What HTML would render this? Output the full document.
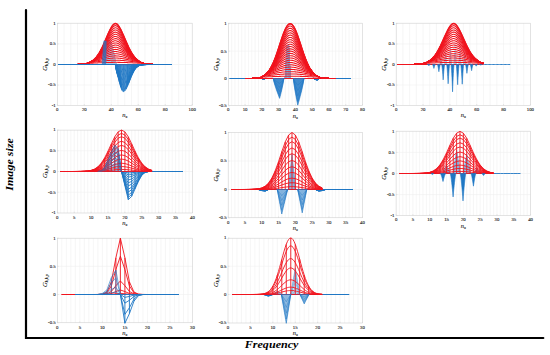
<!DOCTYPE html>
<html><head><meta charset="utf-8"><style>
html,body{margin:0;padding:0;background:#fff;}
body{width:550px;height:355px;overflow:hidden;position:relative;}
svg{position:absolute;left:0;top:0;}
.tl{font-family:"Liberation Serif",serif;font-size:4.8px;fill:#2a2a2a;stroke:#2a2a2a;stroke-width:0.12px;}
.xl,.yl{font-family:"Liberation Serif",serif;font-style:italic;font-size:6.5px;fill:#1a1a1a;stroke:#1a1a1a;stroke-width:0.1px;}
.sub{font-size:4.3px;}
.big{font-family:"Liberation Serif",serif;font-weight:bold;font-style:italic;font-size:10.8px;fill:#000;}
</style></head><body>
<svg width="550" height="355" viewBox="0 0 550 355">
<rect width="550" height="355" fill="#fff"/>
<g stroke="#f0f0f0" stroke-width="0.6"><line x1="64.05" y1="23.2" x2="64.05" y2="105.3"/><line x1="70.79" y1="23.2" x2="70.79" y2="105.3"/><line x1="77.53" y1="23.2" x2="77.53" y2="105.3"/><line x1="84.28" y1="23.2" x2="84.28" y2="105.3"/><line x1="91.02" y1="23.2" x2="91.02" y2="105.3"/><line x1="97.77" y1="23.2" x2="97.77" y2="105.3"/><line x1="104.51" y1="23.2" x2="104.51" y2="105.3"/><line x1="111.26" y1="23.2" x2="111.26" y2="105.3"/><line x1="118" y1="23.2" x2="118" y2="105.3"/><line x1="124.75" y1="23.2" x2="124.75" y2="105.3"/><line x1="131.5" y1="23.2" x2="131.5" y2="105.3"/><line x1="138.24" y1="23.2" x2="138.24" y2="105.3"/><line x1="144.98" y1="23.2" x2="144.98" y2="105.3"/><line x1="151.73" y1="23.2" x2="151.73" y2="105.3"/><line x1="158.47" y1="23.2" x2="158.47" y2="105.3"/><line x1="165.22" y1="23.2" x2="165.22" y2="105.3"/><line x1="171.96" y1="23.2" x2="171.96" y2="105.3"/><line x1="178.71" y1="23.2" x2="178.71" y2="105.3"/><line x1="185.45" y1="23.2" x2="185.45" y2="105.3"/><line x1="57.3" y1="85.03" x2="192.2" y2="85.03"/><line x1="57.3" y1="64.5" x2="192.2" y2="64.5"/><line x1="57.3" y1="43.98" x2="192.2" y2="43.98"/></g>
<rect x="57.3" y="23.2" width="134.9" height="82.1" fill="none" stroke="#d0d0d0" stroke-width="0.6"/>
<g stroke="#d0d0d0" stroke-width="0.5"><line x1="57.3" y1="105.3" x2="57.3" y2="104"/><line x1="84.28" y1="105.3" x2="84.28" y2="104"/><line x1="111.26" y1="105.3" x2="111.26" y2="104"/><line x1="138.24" y1="105.3" x2="138.24" y2="104"/><line x1="165.22" y1="105.3" x2="165.22" y2="104"/><line x1="192.2" y1="105.3" x2="192.2" y2="104"/><line x1="57.3" y1="105.55" x2="58.6" y2="105.55"/><line x1="57.3" y1="85.03" x2="58.6" y2="85.03"/><line x1="57.3" y1="64.5" x2="58.6" y2="64.5"/><line x1="57.3" y1="43.98" x2="58.6" y2="43.98"/><line x1="57.3" y1="23.45" x2="58.6" y2="23.45"/></g>
<g class="tl"><text x="57.3" y="111.2" text-anchor="middle">0</text><text x="84.28" y="111.2" text-anchor="middle">20</text><text x="111.26" y="111.2" text-anchor="middle">40</text><text x="138.24" y="111.2" text-anchor="middle">60</text><text x="165.22" y="111.2" text-anchor="middle">80</text><text x="192.2" y="111.2" text-anchor="middle">100</text><text x="55.7" y="106.95" text-anchor="end">-1</text><text x="55.7" y="86.43" text-anchor="end">-0.5</text><text x="55.7" y="65.9" text-anchor="end">0</text><text x="55.7" y="45.38" text-anchor="end">0.5</text><text x="55.7" y="24.85" text-anchor="end">1</text></g>
<g opacity="0.4"><g fill="none" stroke="#1f77c4" stroke-width="0.9" stroke-linejoin="round"><polyline points="97.77,64.5 99.12,64.5 100.47,64.5 101.82,64.5 103.17,64.5 104.51,64.5 105.86,64.5 107.21,64.5 108.56,64.5 109.91,64.5 111.26,64.5 112.61,64.5 113.96,64.5 115.31,64.5 116.66,64.5 118,64.5"/><polyline points="97.77,64.5 99.12,64.5 100.47,64.5 101.82,64.5 103.17,64.5 104.51,64.5 105.86,63.5 107.21,63.38 108.56,63.33 109.91,63.36 111.26,63.48 112.61,63.7 113.96,64 115.31,64.35 116.66,64.5 118,64.5"/><polyline points="97.77,64.5 99.12,64.5 100.47,64.5 101.82,64.5 103.17,64.5 104.51,64.5 105.86,62.5 107.21,62.27 108.56,62.16 109.91,62.21 111.26,62.46 112.61,62.9 113.96,63.5 115.31,64.2 116.66,64.5 118,64.5"/><polyline points="97.77,64.5 99.12,64.5 100.47,64.5 101.82,64.5 103.17,64.5 104.51,64.5 105.86,61.5 107.21,61.15 108.56,60.99 109.91,61.07 111.26,61.44 112.61,62.09 113.96,62.99 115.31,64.06 116.66,64.5 118,64.5"/><polyline points="97.77,64.5 99.12,64.5 100.47,64.5 101.82,64.5 103.17,64.5 104.51,64.5 105.86,60.5 107.21,60.04 108.56,59.82 109.91,59.92 111.26,60.42 112.61,61.29 113.96,62.49 115.31,63.91 116.66,64.5 118,64.5"/><polyline points="97.77,64.5 99.12,64.5 100.47,64.5 101.82,64.5 103.17,64.5 104.51,64.5 105.86,59.5 107.21,58.92 108.56,58.64 109.91,58.78 111.26,59.39 112.61,60.49 113.96,61.99 115.31,63.76 116.66,64.5 118,64.5"/><polyline points="97.77,64.5 99.12,64.5 100.47,64.5 101.82,64.5 103.17,64.5 104.51,64.5 105.86,58.5 107.21,57.8 108.56,57.47 109.91,57.64 111.26,58.37 112.61,59.69 113.96,61.49 115.31,63.61 116.66,64.5 118,64.5"/><polyline points="97.77,64.5 99.12,64.5 100.47,64.5 101.82,64.5 103.17,64.5 104.51,64.5 105.86,57.5 107.21,56.69 108.56,56.3 109.91,56.49 111.26,57.35 112.61,58.88 113.96,60.99 115.31,63.46 116.66,64.5 118,64.5"/><polyline points="97.77,64.5 99.12,64.5 100.47,64.5 101.82,64.5 103.17,64.5 104.51,64.5 105.86,56.5 107.21,55.57 108.56,55.13 109.91,55.35 111.26,56.33 112.61,58.08 113.96,60.48 115.31,63.31 116.66,64.5 118,64.5"/><polyline points="97.77,64.5 99.12,64.5 100.47,64.5 101.82,64.5 103.17,64.5 104.51,64.5 105.86,55.5 107.21,54.46 108.56,53.96 109.91,54.21 111.26,55.31 112.61,57.28 113.96,59.98 115.31,63.17 116.66,64.5 118,64.5"/><polyline points="97.77,64.5 99.12,64.5 100.47,64.5 101.82,64.5 103.17,64.5 104.51,64.5 105.86,54.5 107.21,53.34 108.56,52.79 109.91,53.06 111.26,54.29 112.61,56.48 113.96,59.48 115.31,63.02 116.66,64.5 118,64.5"/><polyline points="97.77,64.5 99.12,64.5 100.47,64.5 101.82,64.5 103.17,64.5 104.51,64.5 105.86,53.5 107.21,52.22 108.56,51.62 109.91,51.92 111.26,53.27 112.61,55.67 113.96,58.98 115.31,62.87 116.66,64.5 118,64.5"/><polyline points="97.77,64.5 99.12,64.5 100.47,64.5 101.82,64.5 103.17,64.5 104.51,64.5 105.86,52.5 107.21,51.11 108.56,50.45 109.91,50.77 111.26,52.25 112.61,54.87 113.96,58.47 115.31,62.72 116.66,64.5 118,64.5"/><polyline points="97.77,64.5 99.12,64.5 100.47,64.5 101.82,64.5 103.17,64.5 104.51,64.5 105.86,51.5 107.21,49.99 108.56,49.28 109.91,49.63 111.26,51.23 112.61,54.07 113.96,57.97 115.31,62.57 116.66,64.5 118,64.5"/><polyline points="97.77,64.5 99.12,64.5 100.47,64.5 101.82,64.5 103.17,64.5 104.51,64.5 105.86,50.5 107.21,48.88 108.56,48.1 109.91,48.49 111.26,50.21 112.61,53.27 113.96,57.47 115.31,62.42 116.66,64.5 118,64.5"/><polyline points="97.77,64.5 99.12,64.5 100.47,64.5 101.82,64.5 103.17,64.5 104.51,64.5 105.86,49.5 107.21,47.76 108.56,46.93 109.91,47.34 111.26,49.18 112.61,52.47 113.96,56.97 115.31,62.28 116.66,64.5 118,64.5"/><polyline points="97.77,64.5 99.12,64.5 100.47,64.5 101.82,64.5 103.17,64.5 104.51,64.5 105.86,48.5 107.21,46.65 108.56,45.76 109.91,46.2 111.26,48.16 112.61,51.66 113.96,56.47 115.31,62.13 116.66,64.5 118,64.5"/><polyline points="97.77,64.5 99.12,64.5 100.47,64.5 101.82,64.5 103.17,64.5 104.51,64.5 105.86,47.51 107.21,45.53 108.56,44.59 109.91,45.05 111.26,47.14 112.61,50.86 113.96,55.96 115.31,61.98 116.66,64.5 118,64.5"/><polyline points="97.77,64.5 99.12,64.5 100.47,64.5 101.82,64.5 103.17,64.5 104.51,64.5 105.86,46.51 107.21,44.41 108.56,43.42 109.91,43.91 111.26,46.12 112.61,50.06 113.96,55.46 115.31,61.83 116.66,64.5 118,64.5"/><polyline points="97.77,64.5 99.12,64.5 100.47,64.5 101.82,64.5 103.17,64.5 104.51,64.5 105.86,45.51 107.21,43.3 108.56,42.25 109.91,42.77 111.26,45.1 112.61,49.26 113.96,54.96 115.31,61.68 116.66,64.5 118,64.5"/><polyline points="97.77,64.5 99.12,64.5 100.47,64.5 101.82,64.5 103.17,64.5 104.51,64.5 105.86,44.51 107.21,42.18 108.56,41.08 109.91,41.62 111.26,44.08 112.61,48.45 113.96,54.46 115.31,61.53 116.66,64.5 118,64.5"/><polyline points="97.77,64.5 99.12,64.5 100.47,64.5 101.82,64.5 103.17,64.5 104.51,64.5 105.86,43.51 107.21,41.07 108.56,39.91 109.91,40.48 111.26,43.06 112.61,47.65 113.96,53.96 115.31,61.39 116.66,64.5 118,64.5"/><line x1="105.86" y1="64.5" x2="105.86" y2="43.51"/><line x1="107.21" y1="64.5" x2="107.21" y2="41.07"/><line x1="108.56" y1="64.5" x2="108.56" y2="39.91"/><line x1="109.91" y1="64.5" x2="109.91" y2="40.48"/><line x1="111.26" y1="64.5" x2="111.26" y2="43.06"/><line x1="112.61" y1="64.5" x2="112.61" y2="47.65"/><line x1="113.96" y1="64.5" x2="113.96" y2="53.96"/><line x1="115.31" y1="64.5" x2="115.31" y2="61.39"/></g></g>
<g fill="none" stroke="#f0141e" stroke-width="1.05" stroke-linejoin="round"><polyline points="58.65,64.5 59.32,64.5 60,64.5 60.67,64.5 61.35,64.5 62.02,64.5 62.7,64.5 63.37,64.5 64.05,64.5 64.72,64.5 65.39,64.5 66.07,64.5 66.74,64.5 67.42,64.5 68.09,64.5 68.77,64.5 69.44,64.5 70.12,64.5 70.79,64.5 71.46,64.5 72.14,64.5 72.81,64.5 73.49,64.5 74.16,64.5 74.84,64.5 75.51,64.5 76.19,64.5 76.86,64.5 77.53,64.5 78.21,64.5 78.88,64.5 79.56,64.5 80.23,64.5 80.91,64.5 81.58,64.5 82.26,64.5 82.93,64.5 83.61,64.5 84.28,64.5 84.95,64.5 85.63,64.5 86.3,64.5 86.98,64.5 87.65,64.5 88.33,64.5 89,64.5 89.68,64.5 90.35,64.5 91.02,64.5 91.7,64.5 92.37,64.5 93.05,64.5 93.72,64.5 94.4,64.5 95.07,64.5 95.75,64.5 96.42,64.5 97.1,64.5 97.77,64.5 98.44,64.5 99.12,64.5 99.79,64.5 100.47,64.5 101.14,64.5 101.82,64.5 102.49,64.5 103.17,64.5 103.84,64.5 104.51,64.5 105.19,64.5 105.86,64.5 106.54,64.5 107.21,64.5 107.89,64.5 108.56,64.5 109.24,64.5 109.91,64.5 110.59,64.5 111.26,64.5 111.93,64.5 112.61,64.5 113.28,64.5 113.96,64.5 114.63,64.5 115.31,64.5 115.98,64.5 116.66,64.5 117.33,64.5 118,64.5 118.68,64.5 119.35,64.5 120.03,64.5 120.7,64.5 121.38,64.5 122.05,64.5 122.73,64.5 123.4,64.5 124.08,64.5 124.75,64.5 125.42,64.5 126.1,64.5 126.77,64.5 127.45,64.5 128.12,64.5 128.8,64.5 129.47,64.5 130.15,64.5 130.82,64.5 131.5,64.5 132.17,64.5 132.84,64.5 133.52,64.5 134.19,64.5 134.87,64.5 135.54,64.5 136.22,64.5 136.89,64.5 137.57,64.5 138.24,64.5 138.91,64.5 139.59,64.5 140.26,64.5 140.94,64.5 141.61,64.5 142.29,64.5 142.96,64.5 143.64,64.5 144.31,64.5 144.98,64.5 145.66,64.5 146.33,64.5 147.01,64.5 147.68,64.5 148.36,64.5 149.03,64.5 149.71,64.5 150.38,64.5 151.06,64.5 151.73,64.5 152.4,64.5 153.08,64.5 153.75,64.5 154.43,64.5 155.1,64.5 155.78,64.5 156.45,64.5 157.13,64.5 157.8,64.5 158.47,64.5 159.15,64.5 159.82,64.5 160.5,64.5 161.17,64.5 161.85,64.5 162.52,64.5 163.2,64.5 163.87,64.5 164.55,64.5 165.22,64.5 165.89,64.5 166.57,64.5 167.24,64.5 167.92,64.5 168.59,64.5 169.27,64.5 169.94,64.5 170.62,64.5 171.29,64.5 171.96,64.5"/><polyline points="58.65,64.5 59.32,64.5 60,64.5 60.67,64.5 61.35,64.5 62.02,64.5 62.7,64.5 63.37,64.5 64.05,64.5 64.72,64.5 65.39,64.5 66.07,64.5 66.74,64.5 67.42,64.5 68.09,64.5 68.77,64.49 69.44,64.49 70.12,64.49 70.79,64.49 71.46,64.49 72.14,64.48 72.81,64.48 73.49,64.47 74.16,64.47 74.84,64.46 75.51,64.45 76.19,64.44 76.86,64.42 77.53,64.41 78.21,64.38 78.88,64.36 79.56,64.33 80.23,64.29 80.91,64.25 81.58,64.2 82.26,64.14 82.93,64.07 83.61,63.99 84.28,63.9 84.95,63.79 85.63,63.66 86.3,63.52 86.98,63.42 87.65,63.39 88.33,63.36 89,63.32 89.68,63.29 90.35,63.26 91.02,63.22 91.7,63.19 92.37,63.15 93.05,63.12 93.72,63.08 94.4,63.05 95.07,63.02 95.75,62.98 96.42,62.95 97.1,62.91 97.77,62.88 98.44,62.85 99.12,62.82 99.79,62.78 100.47,62.75 101.14,62.72 101.82,62.69 102.49,62.66 103.17,62.64 103.84,62.61 104.51,62.58 105.19,62.56 105.86,62.53 106.54,62.51 107.21,62.49 107.89,62.47 108.56,62.45 109.24,62.43 109.91,62.41 110.59,62.4 111.26,62.38 111.93,62.37 112.61,62.36 113.28,62.35 113.96,62.35 114.63,62.34 115.31,62.34 115.98,62.34 116.66,62.34 117.33,62.35 118,62.36 118.68,62.37 119.35,62.38 120.03,62.39 120.7,62.4 121.38,62.42 122.05,62.44 122.73,62.46 123.4,62.48 124.08,62.5 124.75,62.52 125.42,62.55 126.1,62.57 126.77,62.6 127.45,62.62 128.12,62.65 128.8,62.68 129.47,62.71 130.15,62.74 130.82,62.77 131.5,62.8 132.17,62.84 132.84,62.87 133.52,62.9 134.19,62.93 134.87,62.97 135.54,63 136.22,63.04 136.89,63.07 137.57,63.11 138.24,63.14 138.91,63.17 139.59,63.21 140.26,63.24 140.94,63.28 141.61,63.31 142.29,63.34 142.96,63.38 143.64,63.41 144.31,63.45 144.98,63.61 145.66,63.74 146.33,63.86 147.01,63.96 147.68,64.04 148.36,64.12 149.03,64.18 149.71,64.23 150.38,64.28 151.06,64.32 151.73,64.35 152.4,64.38 153.08,64.4 153.75,64.42 154.43,64.43 155.1,64.44 155.78,64.45 156.45,64.46 157.13,64.47 157.8,64.48 158.47,64.48 159.15,64.48 159.82,64.49 160.5,64.49 161.17,64.49 161.85,64.49 162.52,64.5 163.2,64.5 163.87,64.5 164.55,64.5 165.22,64.5 165.89,64.5 166.57,64.5 167.24,64.5 167.92,64.5 168.59,64.5 169.27,64.5 169.94,64.5 170.62,64.5 171.29,64.5 171.96,64.5"/><polyline points="58.65,64.5 59.32,64.5 60,64.5 60.67,64.5 61.35,64.5 62.02,64.5 62.7,64.5 63.37,64.5 64.05,64.5 64.72,64.5 65.39,64.5 66.07,64.5 66.74,64.5 67.42,64.5 68.09,64.5 68.77,64.49 69.44,64.49 70.12,64.49 70.79,64.49 71.46,64.49 72.14,64.48 72.81,64.48 73.49,64.47 74.16,64.47 74.84,64.46 75.51,64.45 76.19,64.44 76.86,64.42 77.53,64.41 78.21,64.38 78.88,64.36 79.56,64.33 80.23,64.29 80.91,64.25 81.58,64.2 82.26,64.14 82.93,64.07 83.61,63.99 84.28,63.9 84.95,63.79 85.63,63.66 86.3,63.52 86.98,63.35 87.65,63.16 88.33,62.93 89,62.73 89.68,62.66 90.35,62.58 91.02,62.5 91.7,62.42 92.37,62.34 93.05,62.26 93.72,62.18 94.4,62.09 95.07,62.01 95.75,61.93 96.42,61.84 97.1,61.76 97.77,61.67 98.44,61.59 99.12,61.5 99.79,61.42 100.47,61.34 101.14,61.26 101.82,61.18 102.49,61.1 103.17,61.02 103.84,60.94 104.51,60.87 105.19,60.8 105.86,60.73 106.54,60.66 107.21,60.6 107.89,60.54 108.56,60.49 109.24,60.44 109.91,60.39 110.59,60.34 111.26,60.3 111.93,60.27 112.61,60.24 113.28,60.22 113.96,60.2 114.63,60.19 115.31,60.18 115.98,60.18 116.66,60.19 117.33,60.21 118,60.23 118.68,60.26 119.35,60.29 120.03,60.33 120.7,60.37 121.38,60.42 122.05,60.47 122.73,60.52 123.4,60.58 124.08,60.64 124.75,60.7 125.42,60.77 126.1,60.84 126.77,60.91 127.45,60.99 128.12,61.07 128.8,61.14 129.47,61.22 130.15,61.3 130.82,61.39 131.5,61.47 132.17,61.55 132.84,61.64 133.52,61.72 134.19,61.81 134.87,61.89 135.54,61.98 136.22,62.06 136.89,62.14 137.57,62.23 138.24,62.31 138.91,62.39 139.59,62.47 140.26,62.55 140.94,62.63 141.61,62.7 142.29,62.84 142.96,63.07 143.64,63.27 144.31,63.45 144.98,63.61 145.66,63.74 146.33,63.86 147.01,63.96 147.68,64.04 148.36,64.12 149.03,64.18 149.71,64.23 150.38,64.28 151.06,64.32 151.73,64.35 152.4,64.38 153.08,64.4 153.75,64.42 154.43,64.43 155.1,64.44 155.78,64.45 156.45,64.46 157.13,64.47 157.8,64.48 158.47,64.48 159.15,64.48 159.82,64.49 160.5,64.49 161.17,64.49 161.85,64.49 162.52,64.5 163.2,64.5 163.87,64.5 164.55,64.5 165.22,64.5 165.89,64.5 166.57,64.5 167.24,64.5 167.92,64.5 168.59,64.5 169.27,64.5 169.94,64.5 170.62,64.5 171.29,64.5 171.96,64.5"/><polyline points="58.65,64.5 59.32,64.5 60,64.5 60.67,64.5 61.35,64.5 62.02,64.5 62.7,64.5 63.37,64.5 64.05,64.5 64.72,64.5 65.39,64.5 66.07,64.5 66.74,64.5 67.42,64.5 68.09,64.5 68.77,64.49 69.44,64.49 70.12,64.49 70.79,64.49 71.46,64.49 72.14,64.48 72.81,64.48 73.49,64.47 74.16,64.47 74.84,64.46 75.51,64.45 76.19,64.44 76.86,64.42 77.53,64.41 78.21,64.38 78.88,64.36 79.56,64.33 80.23,64.29 80.91,64.25 81.58,64.2 82.26,64.14 82.93,64.07 83.61,63.99 84.28,63.9 84.95,63.79 85.63,63.66 86.3,63.52 86.98,63.35 87.65,63.16 88.33,62.93 89,62.68 89.68,62.4 90.35,62.15 91.02,62.03 91.7,61.91 92.37,61.78 93.05,61.65 93.72,61.52 94.4,61.39 95.07,61.25 95.75,61.11 96.42,60.97 97.1,60.83 97.77,60.69 98.44,60.55 99.12,60.4 99.79,60.26 100.47,60.12 101.14,59.97 101.82,59.83 102.49,59.69 103.17,59.56 103.84,59.42 104.51,59.29 105.19,59.16 105.86,59.04 106.54,58.92 107.21,58.8 107.89,58.7 108.56,58.59 109.24,58.5 109.91,58.41 110.59,58.33 111.26,58.25 111.93,58.19 112.61,58.13 113.28,58.09 113.96,58.05 114.63,58.03 115.31,58.02 115.98,58.02 116.66,58.04 117.33,58.07 118,58.11 118.68,58.17 119.35,58.23 120.03,58.3 120.7,58.37 121.38,58.46 122.05,58.55 122.73,58.65 123.4,58.76 124.08,58.87 124.75,58.99 125.42,59.11 126.1,59.24 126.77,59.37 127.45,59.5 128.12,59.64 128.8,59.78 129.47,59.92 130.15,60.06 130.82,60.2 131.5,60.35 132.17,60.49 132.84,60.63 133.52,60.77 134.19,60.92 134.87,61.06 135.54,61.2 136.22,61.33 136.89,61.47 137.57,61.6 138.24,61.73 138.91,61.86 139.59,61.98 140.26,62.11 140.94,62.27 141.61,62.57 142.29,62.84 142.96,63.07 143.64,63.27 144.31,63.45 144.98,63.61 145.66,63.74 146.33,63.86 147.01,63.96 147.68,64.04 148.36,64.12 149.03,64.18 149.71,64.23 150.38,64.28 151.06,64.32 151.73,64.35 152.4,64.38 153.08,64.4 153.75,64.42 154.43,64.43 155.1,64.44 155.78,64.45 156.45,64.46 157.13,64.47 157.8,64.48 158.47,64.48 159.15,64.48 159.82,64.49 160.5,64.49 161.17,64.49 161.85,64.49 162.52,64.5 163.2,64.5 163.87,64.5 164.55,64.5 165.22,64.5 165.89,64.5 166.57,64.5 167.24,64.5 167.92,64.5 168.59,64.5 169.27,64.5 169.94,64.5 170.62,64.5 171.29,64.5 171.96,64.5"/><polyline points="58.65,64.5 59.32,64.5 60,64.5 60.67,64.5 61.35,64.5 62.02,64.5 62.7,64.5 63.37,64.5 64.05,64.5 64.72,64.5 65.39,64.5 66.07,64.5 66.74,64.5 67.42,64.5 68.09,64.5 68.77,64.49 69.44,64.49 70.12,64.49 70.79,64.49 71.46,64.49 72.14,64.48 72.81,64.48 73.49,64.47 74.16,64.47 74.84,64.46 75.51,64.45 76.19,64.44 76.86,64.42 77.53,64.41 78.21,64.38 78.88,64.36 79.56,64.33 80.23,64.29 80.91,64.25 81.58,64.2 82.26,64.14 82.93,64.07 83.61,63.99 84.28,63.9 84.95,63.79 85.63,63.66 86.3,63.52 86.98,63.35 87.65,63.16 88.33,62.93 89,62.68 89.68,62.4 90.35,62.08 91.02,61.72 91.7,61.55 92.37,61.38 93.05,61.21 93.72,61.03 94.4,60.85 95.07,60.66 95.75,60.46 96.42,60.27 97.1,60.07 97.77,59.87 98.44,59.66 99.12,59.45 99.79,59.25 100.47,59.04 101.14,58.83 101.82,58.62 102.49,58.41 103.17,58.21 103.84,58.01 104.51,57.81 105.19,57.62 105.86,57.43 106.54,57.25 107.21,57.07 107.89,56.91 108.56,56.75 109.24,56.6 109.91,56.46 110.59,56.34 111.26,56.22 111.93,56.12 112.61,56.04 113.28,55.97 113.96,55.91 114.63,55.88 115.31,55.86 115.98,55.87 116.66,55.9 117.33,55.94 118,56.01 118.68,56.09 119.35,56.18 120.03,56.29 120.7,56.41 121.38,56.54 122.05,56.69 122.73,56.84 123.4,57.01 124.08,57.18 124.75,57.36 125.42,57.54 126.1,57.73 126.77,57.93 127.45,58.13 128.12,58.33 128.8,58.54 129.47,58.74 130.15,58.95 130.82,59.16 131.5,59.37 132.17,59.58 132.84,59.78 133.52,59.99 134.19,60.19 134.87,60.39 135.54,60.58 136.22,60.77 136.89,60.96 137.57,61.14 138.24,61.31 138.91,61.49 139.59,61.65 140.26,61.94 140.94,62.27 141.61,62.57 142.29,62.84 142.96,63.07 143.64,63.27 144.31,63.45 144.98,63.61 145.66,63.74 146.33,63.86 147.01,63.96 147.68,64.04 148.36,64.12 149.03,64.18 149.71,64.23 150.38,64.28 151.06,64.32 151.73,64.35 152.4,64.38 153.08,64.4 153.75,64.42 154.43,64.43 155.1,64.44 155.78,64.45 156.45,64.46 157.13,64.47 157.8,64.48 158.47,64.48 159.15,64.48 159.82,64.49 160.5,64.49 161.17,64.49 161.85,64.49 162.52,64.5 163.2,64.5 163.87,64.5 164.55,64.5 165.22,64.5 165.89,64.5 166.57,64.5 167.24,64.5 167.92,64.5 168.59,64.5 169.27,64.5 169.94,64.5 170.62,64.5 171.29,64.5 171.96,64.5"/><polyline points="58.65,64.5 59.32,64.5 60,64.5 60.67,64.5 61.35,64.5 62.02,64.5 62.7,64.5 63.37,64.5 64.05,64.5 64.72,64.5 65.39,64.5 66.07,64.5 66.74,64.5 67.42,64.5 68.09,64.5 68.77,64.49 69.44,64.49 70.12,64.49 70.79,64.49 71.46,64.49 72.14,64.48 72.81,64.48 73.49,64.47 74.16,64.47 74.84,64.46 75.51,64.45 76.19,64.44 76.86,64.42 77.53,64.41 78.21,64.38 78.88,64.36 79.56,64.33 80.23,64.29 80.91,64.25 81.58,64.2 82.26,64.14 82.93,64.07 83.61,63.99 84.28,63.9 84.95,63.79 85.63,63.66 86.3,63.52 86.98,63.35 87.65,63.16 88.33,62.93 89,62.68 89.68,62.4 90.35,62.08 91.02,61.72 91.7,61.31 92.37,61.1 93.05,60.88 93.72,60.65 94.4,60.42 95.07,60.18 95.75,59.94 96.42,59.69 97.1,59.43 97.77,59.16 98.44,58.9 99.12,58.62 99.79,58.35 100.47,58.07 101.14,57.79 101.82,57.51 102.49,57.24 103.17,56.96 103.84,56.69 104.51,56.42 105.19,56.15 105.86,55.89 106.54,55.64 107.21,55.4 107.89,55.17 108.56,54.95 109.24,54.74 109.91,54.55 110.59,54.37 111.26,54.21 111.93,54.07 112.61,53.95 113.28,53.85 113.96,53.77 114.63,53.72 115.31,53.7 115.98,53.71 116.66,53.75 117.33,53.82 118,53.91 118.68,54.02 119.35,54.16 120.03,54.31 120.7,54.48 121.38,54.66 122.05,54.86 122.73,55.08 123.4,55.31 124.08,55.54 124.75,55.79 125.42,56.05 126.1,56.31 126.77,56.58 127.45,56.85 128.12,57.12 128.8,57.4 129.47,57.68 130.15,57.96 130.82,58.24 131.5,58.51 132.17,58.79 132.84,59.06 133.52,59.32 134.19,59.58 134.87,59.84 135.54,60.09 136.22,60.33 136.89,60.56 137.57,60.79 138.24,61.01 138.91,61.22 139.59,61.56 140.26,61.94 140.94,62.27 141.61,62.57 142.29,62.84 142.96,63.07 143.64,63.27 144.31,63.45 144.98,63.61 145.66,63.74 146.33,63.86 147.01,63.96 147.68,64.04 148.36,64.12 149.03,64.18 149.71,64.23 150.38,64.28 151.06,64.32 151.73,64.35 152.4,64.38 153.08,64.4 153.75,64.42 154.43,64.43 155.1,64.44 155.78,64.45 156.45,64.46 157.13,64.47 157.8,64.48 158.47,64.48 159.15,64.48 159.82,64.49 160.5,64.49 161.17,64.49 161.85,64.49 162.52,64.5 163.2,64.5 163.87,64.5 164.55,64.5 165.22,64.5 165.89,64.5 166.57,64.5 167.24,64.5 167.92,64.5 168.59,64.5 169.27,64.5 169.94,64.5 170.62,64.5 171.29,64.5 171.96,64.5"/><polyline points="58.65,64.5 59.32,64.5 60,64.5 60.67,64.5 61.35,64.5 62.02,64.5 62.7,64.5 63.37,64.5 64.05,64.5 64.72,64.5 65.39,64.5 66.07,64.5 66.74,64.5 67.42,64.5 68.09,64.5 68.77,64.49 69.44,64.49 70.12,64.49 70.79,64.49 71.46,64.49 72.14,64.48 72.81,64.48 73.49,64.47 74.16,64.47 74.84,64.46 75.51,64.45 76.19,64.44 76.86,64.42 77.53,64.41 78.21,64.38 78.88,64.36 79.56,64.33 80.23,64.29 80.91,64.25 81.58,64.2 82.26,64.14 82.93,64.07 83.61,63.99 84.28,63.9 84.95,63.79 85.63,63.66 86.3,63.52 86.98,63.35 87.65,63.16 88.33,62.93 89,62.68 89.68,62.4 90.35,62.08 91.02,61.72 91.7,61.31 92.37,60.89 93.05,60.63 93.72,60.37 94.4,60.09 95.07,59.8 95.75,59.51 96.42,59.2 97.1,58.88 97.77,58.56 98.44,58.23 99.12,57.89 99.79,57.55 100.47,57.2 101.14,56.85 101.82,56.5 102.49,56.14 103.17,55.79 103.84,55.44 104.51,55.09 105.19,54.75 105.86,54.42 106.54,54.09 107.21,53.78 107.89,53.48 108.56,53.19 109.24,52.92 109.91,52.66 110.59,52.43 111.26,52.22 111.93,52.03 112.61,51.87 113.28,51.74 113.96,51.64 114.63,51.57 115.31,51.54 115.98,51.55 116.66,51.61 117.33,51.7 118,51.82 118.68,51.97 119.35,52.14 120.03,52.34 120.7,52.57 121.38,52.81 122.05,53.08 122.73,53.36 123.4,53.66 124.08,53.96 124.75,54.29 125.42,54.62 126.1,54.96 126.77,55.3 127.45,55.65 128.12,56 128.8,56.36 129.47,56.71 130.15,57.06 130.82,57.41 131.5,57.75 132.17,58.09 132.84,58.43 133.52,58.75 134.19,59.07 134.87,59.38 135.54,59.68 136.22,59.98 136.89,60.26 137.57,60.53 138.24,60.79 138.91,61.14 139.59,61.56 140.26,61.94 140.94,62.27 141.61,62.57 142.29,62.84 142.96,63.07 143.64,63.27 144.31,63.45 144.98,63.61 145.66,63.74 146.33,63.86 147.01,63.96 147.68,64.04 148.36,64.12 149.03,64.18 149.71,64.23 150.38,64.28 151.06,64.32 151.73,64.35 152.4,64.38 153.08,64.4 153.75,64.42 154.43,64.43 155.1,64.44 155.78,64.45 156.45,64.46 157.13,64.47 157.8,64.48 158.47,64.48 159.15,64.48 159.82,64.49 160.5,64.49 161.17,64.49 161.85,64.49 162.52,64.5 163.2,64.5 163.87,64.5 164.55,64.5 165.22,64.5 165.89,64.5 166.57,64.5 167.24,64.5 167.92,64.5 168.59,64.5 169.27,64.5 169.94,64.5 170.62,64.5 171.29,64.5 171.96,64.5"/><polyline points="58.65,64.5 59.32,64.5 60,64.5 60.67,64.5 61.35,64.5 62.02,64.5 62.7,64.5 63.37,64.5 64.05,64.5 64.72,64.5 65.39,64.5 66.07,64.5 66.74,64.5 67.42,64.5 68.09,64.5 68.77,64.49 69.44,64.49 70.12,64.49 70.79,64.49 71.46,64.49 72.14,64.48 72.81,64.48 73.49,64.47 74.16,64.47 74.84,64.46 75.51,64.45 76.19,64.44 76.86,64.42 77.53,64.41 78.21,64.38 78.88,64.36 79.56,64.33 80.23,64.29 80.91,64.25 81.58,64.2 82.26,64.14 82.93,64.07 83.61,63.99 84.28,63.9 84.95,63.79 85.63,63.66 86.3,63.52 86.98,63.35 87.65,63.16 88.33,62.93 89,62.68 89.68,62.4 90.35,62.08 91.02,61.72 91.7,61.31 92.37,60.86 93.05,60.45 93.72,60.14 94.4,59.83 95.07,59.49 95.75,59.15 96.42,58.79 97.1,58.42 97.77,58.04 98.44,57.64 99.12,57.24 99.79,56.83 100.47,56.41 101.14,55.99 101.82,55.56 102.49,55.13 103.17,54.69 103.84,54.26 104.51,53.84 105.19,53.41 105.86,53 106.54,52.59 107.21,52.2 107.89,51.82 108.56,51.46 109.24,51.12 109.91,50.8 110.59,50.51 111.26,50.24 111.93,50.01 112.61,49.8 113.28,49.64 113.96,49.51 114.63,49.42 115.31,49.38 115.98,49.4 116.66,49.47 117.33,49.58 118,49.73 118.68,49.92 119.35,50.15 120.03,50.4 120.7,50.68 121.38,50.99 122.05,51.32 122.73,51.68 123.4,52.05 124.08,52.43 124.75,52.83 125.42,53.25 126.1,53.67 126.77,54.09 127.45,54.52 128.12,54.95 128.8,55.38 129.47,55.81 130.15,56.24 130.82,56.66 131.5,57.08 132.17,57.48 132.84,57.88 133.52,58.27 134.19,58.64 134.87,59.01 135.54,59.36 136.22,59.7 136.89,60.02 137.57,60.33 138.24,60.66 138.91,61.14 139.59,61.56 140.26,61.94 140.94,62.27 141.61,62.57 142.29,62.84 142.96,63.07 143.64,63.27 144.31,63.45 144.98,63.61 145.66,63.74 146.33,63.86 147.01,63.96 147.68,64.04 148.36,64.12 149.03,64.18 149.71,64.23 150.38,64.28 151.06,64.32 151.73,64.35 152.4,64.38 153.08,64.4 153.75,64.42 154.43,64.43 155.1,64.44 155.78,64.45 156.45,64.46 157.13,64.47 157.8,64.48 158.47,64.48 159.15,64.48 159.82,64.49 160.5,64.49 161.17,64.49 161.85,64.49 162.52,64.5 163.2,64.5 163.87,64.5 164.55,64.5 165.22,64.5 165.89,64.5 166.57,64.5 167.24,64.5 167.92,64.5 168.59,64.5 169.27,64.5 169.94,64.5 170.62,64.5 171.29,64.5 171.96,64.5"/><polyline points="58.65,64.5 59.32,64.5 60,64.5 60.67,64.5 61.35,64.5 62.02,64.5 62.7,64.5 63.37,64.5 64.05,64.5 64.72,64.5 65.39,64.5 66.07,64.5 66.74,64.5 67.42,64.5 68.09,64.5 68.77,64.49 69.44,64.49 70.12,64.49 70.79,64.49 71.46,64.49 72.14,64.48 72.81,64.48 73.49,64.47 74.16,64.47 74.84,64.46 75.51,64.45 76.19,64.44 76.86,64.42 77.53,64.41 78.21,64.38 78.88,64.36 79.56,64.33 80.23,64.29 80.91,64.25 81.58,64.2 82.26,64.14 82.93,64.07 83.61,63.99 84.28,63.9 84.95,63.79 85.63,63.66 86.3,63.52 86.98,63.35 87.65,63.16 88.33,62.93 89,62.68 89.68,62.4 90.35,62.08 91.02,61.72 91.7,61.31 92.37,60.86 93.05,60.36 93.72,59.98 94.4,59.62 95.07,59.25 95.75,58.85 96.42,58.45 97.1,58.02 97.77,57.58 98.44,57.13 99.12,56.66 99.79,56.18 100.47,55.69 101.14,55.19 101.82,54.68 102.49,54.17 103.17,53.66 103.84,53.15 104.51,52.63 105.19,52.13 105.86,51.63 106.54,51.14 107.21,50.67 107.89,50.21 108.56,49.77 109.24,49.35 109.91,48.97 110.59,48.61 111.26,48.28 111.93,47.99 112.61,47.74 113.28,47.54 113.96,47.38 114.63,47.27 115.31,47.22 115.98,47.24 116.66,47.33 117.33,47.47 118,47.65 118.68,47.89 119.35,48.16 120.03,48.47 120.7,48.82 121.38,49.2 122.05,49.6 122.73,50.03 123.4,50.48 124.08,50.95 124.75,51.43 125.42,51.93 126.1,52.43 126.77,52.94 127.45,53.45 128.12,53.97 128.8,54.48 129.47,54.99 130.15,55.49 130.82,55.98 131.5,56.47 132.17,56.94 132.84,57.4 133.52,57.85 134.19,58.28 134.87,58.69 135.54,59.09 136.22,59.47 136.89,59.84 137.57,60.18 138.24,60.66 138.91,61.14 139.59,61.56 140.26,61.94 140.94,62.27 141.61,62.57 142.29,62.84 142.96,63.07 143.64,63.27 144.31,63.45 144.98,63.61 145.66,63.74 146.33,63.86 147.01,63.96 147.68,64.04 148.36,64.12 149.03,64.18 149.71,64.23 150.38,64.28 151.06,64.32 151.73,64.35 152.4,64.38 153.08,64.4 153.75,64.42 154.43,64.43 155.1,64.44 155.78,64.45 156.45,64.46 157.13,64.47 157.8,64.48 158.47,64.48 159.15,64.48 159.82,64.49 160.5,64.49 161.17,64.49 161.85,64.49 162.52,64.5 163.2,64.5 163.87,64.5 164.55,64.5 165.22,64.5 165.89,64.5 166.57,64.5 167.24,64.5 167.92,64.5 168.59,64.5 169.27,64.5 169.94,64.5 170.62,64.5 171.29,64.5 171.96,64.5"/><polyline points="58.65,64.5 59.32,64.5 60,64.5 60.67,64.5 61.35,64.5 62.02,64.5 62.7,64.5 63.37,64.5 64.05,64.5 64.72,64.5 65.39,64.5 66.07,64.5 66.74,64.5 67.42,64.5 68.09,64.5 68.77,64.49 69.44,64.49 70.12,64.49 70.79,64.49 71.46,64.49 72.14,64.48 72.81,64.48 73.49,64.47 74.16,64.47 74.84,64.46 75.51,64.45 76.19,64.44 76.86,64.42 77.53,64.41 78.21,64.38 78.88,64.36 79.56,64.33 80.23,64.29 80.91,64.25 81.58,64.2 82.26,64.14 82.93,64.07 83.61,63.99 84.28,63.9 84.95,63.79 85.63,63.66 86.3,63.52 86.98,63.35 87.65,63.16 88.33,62.93 89,62.68 89.68,62.4 90.35,62.08 91.02,61.72 91.7,61.31 92.37,60.86 93.05,60.36 93.72,59.85 94.4,59.46 95.07,59.05 95.75,58.61 96.42,58.15 97.1,57.68 97.77,57.18 98.44,56.67 99.12,56.14 99.79,55.59 100.47,55.03 101.14,54.46 101.82,53.87 102.49,53.28 103.17,52.68 103.84,52.08 104.51,51.49 105.19,50.89 105.86,50.31 106.54,49.73 107.21,49.17 107.89,48.63 108.56,48.11 109.24,47.61 109.91,47.15 110.59,46.72 111.26,46.33 111.93,45.99 112.61,45.69 113.28,45.44 113.96,45.25 114.63,45.12 115.31,45.06 115.98,45.09 116.66,45.19 117.33,45.36 118,45.58 118.68,45.86 119.35,46.19 120.03,46.56 120.7,46.97 121.38,47.42 122.05,47.9 122.73,48.41 123.4,48.95 124.08,49.5 124.75,50.07 125.42,50.66 126.1,51.25 126.77,51.85 127.45,52.44 128.12,53.04 128.8,53.64 129.47,54.22 130.15,54.8 130.82,55.37 131.5,55.92 132.17,56.46 132.84,56.98 133.52,57.48 134.19,57.97 134.87,58.43 135.54,58.87 136.22,59.3 136.89,59.7 137.57,60.14 138.24,60.66 138.91,61.14 139.59,61.56 140.26,61.94 140.94,62.27 141.61,62.57 142.29,62.84 142.96,63.07 143.64,63.27 144.31,63.45 144.98,63.61 145.66,63.74 146.33,63.86 147.01,63.96 147.68,64.04 148.36,64.12 149.03,64.18 149.71,64.23 150.38,64.28 151.06,64.32 151.73,64.35 152.4,64.38 153.08,64.4 153.75,64.42 154.43,64.43 155.1,64.44 155.78,64.45 156.45,64.46 157.13,64.47 157.8,64.48 158.47,64.48 159.15,64.48 159.82,64.49 160.5,64.49 161.17,64.49 161.85,64.49 162.52,64.5 163.2,64.5 163.87,64.5 164.55,64.5 165.22,64.5 165.89,64.5 166.57,64.5 167.24,64.5 167.92,64.5 168.59,64.5 169.27,64.5 169.94,64.5 170.62,64.5 171.29,64.5 171.96,64.5"/><polyline points="58.65,64.5 59.32,64.5 60,64.5 60.67,64.5 61.35,64.5 62.02,64.5 62.7,64.5 63.37,64.5 64.05,64.5 64.72,64.5 65.39,64.5 66.07,64.5 66.74,64.5 67.42,64.5 68.09,64.5 68.77,64.49 69.44,64.49 70.12,64.49 70.79,64.49 71.46,64.49 72.14,64.48 72.81,64.48 73.49,64.47 74.16,64.47 74.84,64.46 75.51,64.45 76.19,64.44 76.86,64.42 77.53,64.41 78.21,64.38 78.88,64.36 79.56,64.33 80.23,64.29 80.91,64.25 81.58,64.2 82.26,64.14 82.93,64.07 83.61,63.99 84.28,63.9 84.95,63.79 85.63,63.66 86.3,63.52 86.98,63.35 87.65,63.16 88.33,62.93 89,62.68 89.68,62.4 90.35,62.08 91.02,61.72 91.7,61.31 92.37,60.86 93.05,60.36 93.72,59.8 94.4,59.34 95.07,58.89 95.75,58.41 96.42,57.91 97.1,57.38 97.77,56.83 98.44,56.26 99.12,55.67 99.79,55.05 100.47,54.42 101.14,53.77 101.82,53.11 102.49,52.44 103.17,51.76 103.84,51.07 104.51,50.39 105.19,49.7 105.86,49.02 106.54,48.36 107.21,47.71 107.89,47.08 108.56,46.47 109.24,45.89 109.91,45.35 110.59,44.85 111.26,44.4 111.93,43.99 112.61,43.64 113.28,43.35 113.96,43.12 114.63,42.97 115.31,42.9 115.98,42.93 116.66,43.05 117.33,43.25 118,43.51 118.68,43.84 119.35,44.23 120.03,44.66 120.7,45.15 121.38,45.67 122.05,46.24 122.73,46.83 123.4,47.45 124.08,48.1 124.75,48.76 125.42,49.43 126.1,50.11 126.77,50.8 127.45,51.48 128.12,52.17 128.8,52.84 129.47,53.51 130.15,54.17 130.82,54.8 131.5,55.43 132.17,56.03 132.84,56.61 133.52,57.17 134.19,57.7 134.87,58.21 135.54,58.7 136.22,59.16 136.89,59.6 137.57,60.14 138.24,60.66 138.91,61.14 139.59,61.56 140.26,61.94 140.94,62.27 141.61,62.57 142.29,62.84 142.96,63.07 143.64,63.27 144.31,63.45 144.98,63.61 145.66,63.74 146.33,63.86 147.01,63.96 147.68,64.04 148.36,64.12 149.03,64.18 149.71,64.23 150.38,64.28 151.06,64.32 151.73,64.35 152.4,64.38 153.08,64.4 153.75,64.42 154.43,64.43 155.1,64.44 155.78,64.45 156.45,64.46 157.13,64.47 157.8,64.48 158.47,64.48 159.15,64.48 159.82,64.49 160.5,64.49 161.17,64.49 161.85,64.49 162.52,64.5 163.2,64.5 163.87,64.5 164.55,64.5 165.22,64.5 165.89,64.5 166.57,64.5 167.24,64.5 167.92,64.5 168.59,64.5 169.27,64.5 169.94,64.5 170.62,64.5 171.29,64.5 171.96,64.5"/><polyline points="58.65,64.5 59.32,64.5 60,64.5 60.67,64.5 61.35,64.5 62.02,64.5 62.7,64.5 63.37,64.5 64.05,64.5 64.72,64.5 65.39,64.5 66.07,64.5 66.74,64.5 67.42,64.5 68.09,64.5 68.77,64.49 69.44,64.49 70.12,64.49 70.79,64.49 71.46,64.49 72.14,64.48 72.81,64.48 73.49,64.47 74.16,64.47 74.84,64.46 75.51,64.45 76.19,64.44 76.86,64.42 77.53,64.41 78.21,64.38 78.88,64.36 79.56,64.33 80.23,64.29 80.91,64.25 81.58,64.2 82.26,64.14 82.93,64.07 83.61,63.99 84.28,63.9 84.95,63.79 85.63,63.66 86.3,63.52 86.98,63.35 87.65,63.16 88.33,62.93 89,62.68 89.68,62.4 90.35,62.08 91.02,61.72 91.7,61.31 92.37,60.86 93.05,60.36 93.72,59.8 94.4,59.25 95.07,58.76 95.75,58.25 96.42,57.7 97.1,57.13 97.77,56.53 98.44,55.9 99.12,55.25 99.79,54.57 100.47,53.86 101.14,53.14 101.82,52.4 102.49,51.65 103.17,50.88 103.84,50.11 104.51,49.33 105.19,48.55 105.86,47.78 106.54,47.02 107.21,46.28 107.89,45.56 108.56,44.86 109.24,44.2 109.91,43.58 110.59,43 111.26,42.47 111.93,42 112.61,41.6 113.28,41.26 113.96,41 114.63,40.82 115.31,40.74 115.98,40.78 116.66,40.92 117.33,41.15 118,41.45 118.68,41.83 119.35,42.28 120.03,42.78 120.7,43.34 121.38,43.95 122.05,44.59 122.73,45.27 123.4,45.99 124.08,46.72 124.75,47.48 125.42,48.24 126.1,49.02 126.77,49.8 127.45,50.57 128.12,51.34 128.8,52.1 129.47,52.85 130.15,53.58 130.82,54.29 131.5,54.98 132.17,55.64 132.84,56.28 133.52,56.89 134.19,57.48 134.87,58.03 135.54,58.56 136.22,59.05 136.89,59.56 137.57,60.14 138.24,60.66 138.91,61.14 139.59,61.56 140.26,61.94 140.94,62.27 141.61,62.57 142.29,62.84 142.96,63.07 143.64,63.27 144.31,63.45 144.98,63.61 145.66,63.74 146.33,63.86 147.01,63.96 147.68,64.04 148.36,64.12 149.03,64.18 149.71,64.23 150.38,64.28 151.06,64.32 151.73,64.35 152.4,64.38 153.08,64.4 153.75,64.42 154.43,64.43 155.1,64.44 155.78,64.45 156.45,64.46 157.13,64.47 157.8,64.48 158.47,64.48 159.15,64.48 159.82,64.49 160.5,64.49 161.17,64.49 161.85,64.49 162.52,64.5 163.2,64.5 163.87,64.5 164.55,64.5 165.22,64.5 165.89,64.5 166.57,64.5 167.24,64.5 167.92,64.5 168.59,64.5 169.27,64.5 169.94,64.5 170.62,64.5 171.29,64.5 171.96,64.5"/><polyline points="58.65,64.5 59.32,64.5 60,64.5 60.67,64.5 61.35,64.5 62.02,64.5 62.7,64.5 63.37,64.5 64.05,64.5 64.72,64.5 65.39,64.5 66.07,64.5 66.74,64.5 67.42,64.5 68.09,64.5 68.77,64.49 69.44,64.49 70.12,64.49 70.79,64.49 71.46,64.49 72.14,64.48 72.81,64.48 73.49,64.47 74.16,64.47 74.84,64.46 75.51,64.45 76.19,64.44 76.86,64.42 77.53,64.41 78.21,64.38 78.88,64.36 79.56,64.33 80.23,64.29 80.91,64.25 81.58,64.2 82.26,64.14 82.93,64.07 83.61,63.99 84.28,63.9 84.95,63.79 85.63,63.66 86.3,63.52 86.98,63.35 87.65,63.16 88.33,62.93 89,62.68 89.68,62.4 90.35,62.08 91.02,61.72 91.7,61.31 92.37,60.86 93.05,60.36 93.72,59.8 94.4,59.18 95.07,58.66 95.75,58.11 96.42,57.53 97.1,56.91 97.77,56.26 98.44,55.58 99.12,54.87 99.79,54.12 100.47,53.35 101.14,52.55 101.82,51.74 102.49,50.9 103.17,50.05 103.84,49.18 104.51,48.31 105.19,47.44 105.86,46.58 106.54,45.72 107.21,44.88 107.89,44.06 108.56,43.28 109.24,42.53 109.91,41.82 110.59,41.16 111.26,40.56 111.93,40.02 112.61,39.56 113.28,39.17 113.96,38.88 114.63,38.67 115.31,38.58 115.98,38.62 116.66,38.78 117.33,39.04 118,39.4 118.68,39.83 119.35,40.34 120.03,40.91 120.7,41.55 121.38,42.24 122.05,42.97 122.73,43.75 123.4,44.55 124.08,45.38 124.75,46.23 125.42,47.1 126.1,47.97 126.77,48.84 127.45,49.7 128.12,50.56 128.8,51.4 129.47,52.23 130.15,53.03 130.82,53.82 131.5,54.57 132.17,55.3 132.84,55.99 133.52,56.66 134.19,57.29 134.87,57.88 135.54,58.45 136.22,58.98 136.89,59.56 137.57,60.14 138.24,60.66 138.91,61.14 139.59,61.56 140.26,61.94 140.94,62.27 141.61,62.57 142.29,62.84 142.96,63.07 143.64,63.27 144.31,63.45 144.98,63.61 145.66,63.74 146.33,63.86 147.01,63.96 147.68,64.04 148.36,64.12 149.03,64.18 149.71,64.23 150.38,64.28 151.06,64.32 151.73,64.35 152.4,64.38 153.08,64.4 153.75,64.42 154.43,64.43 155.1,64.44 155.78,64.45 156.45,64.46 157.13,64.47 157.8,64.48 158.47,64.48 159.15,64.48 159.82,64.49 160.5,64.49 161.17,64.49 161.85,64.49 162.52,64.5 163.2,64.5 163.87,64.5 164.55,64.5 165.22,64.5 165.89,64.5 166.57,64.5 167.24,64.5 167.92,64.5 168.59,64.5 169.27,64.5 169.94,64.5 170.62,64.5 171.29,64.5 171.96,64.5"/><polyline points="58.65,64.5 59.32,64.5 60,64.5 60.67,64.5 61.35,64.5 62.02,64.5 62.7,64.5 63.37,64.5 64.05,64.5 64.72,64.5 65.39,64.5 66.07,64.5 66.74,64.5 67.42,64.5 68.09,64.5 68.77,64.49 69.44,64.49 70.12,64.49 70.79,64.49 71.46,64.49 72.14,64.48 72.81,64.48 73.49,64.47 74.16,64.47 74.84,64.46 75.51,64.45 76.19,64.44 76.86,64.42 77.53,64.41 78.21,64.38 78.88,64.36 79.56,64.33 80.23,64.29 80.91,64.25 81.58,64.2 82.26,64.14 82.93,64.07 83.61,63.99 84.28,63.9 84.95,63.79 85.63,63.66 86.3,63.52 86.98,63.35 87.65,63.16 88.33,62.93 89,62.68 89.68,62.4 90.35,62.08 91.02,61.72 91.7,61.31 92.37,60.86 93.05,60.36 93.72,59.8 94.4,59.18 95.07,58.59 95.75,58.01 96.42,57.39 97.1,56.73 97.77,56.03 98.44,55.29 99.12,54.52 99.79,53.71 100.47,52.88 101.14,52.01 101.82,51.11 102.49,50.19 103.17,49.25 103.84,48.3 104.51,47.34 105.19,46.37 105.86,45.41 106.54,44.45 107.21,43.51 107.89,42.6 108.56,41.72 109.24,40.87 109.91,40.08 110.59,39.34 111.26,38.66 111.93,38.05 112.61,37.53 113.28,37.09 113.96,36.76 114.63,36.53 115.31,36.42 115.98,36.47 116.66,36.65 117.33,36.95 118,37.34 118.68,37.83 119.35,38.41 120.03,39.06 120.7,39.77 121.38,40.55 122.05,41.37 122.73,42.24 123.4,43.15 124.08,44.07 124.75,45.02 125.42,45.98 126.1,46.95 126.77,47.91 127.45,48.87 128.12,49.82 128.8,50.75 129.47,51.65 130.15,52.53 130.82,53.38 131.5,54.2 132.17,54.99 132.84,55.74 133.52,56.45 134.19,57.13 134.87,57.76 135.54,58.36 136.22,58.92 136.89,59.56 137.57,60.14 138.24,60.66 138.91,61.14 139.59,61.56 140.26,61.94 140.94,62.27 141.61,62.57 142.29,62.84 142.96,63.07 143.64,63.27 144.31,63.45 144.98,63.61 145.66,63.74 146.33,63.86 147.01,63.96 147.68,64.04 148.36,64.12 149.03,64.18 149.71,64.23 150.38,64.28 151.06,64.32 151.73,64.35 152.4,64.38 153.08,64.4 153.75,64.42 154.43,64.43 155.1,64.44 155.78,64.45 156.45,64.46 157.13,64.47 157.8,64.48 158.47,64.48 159.15,64.48 159.82,64.49 160.5,64.49 161.17,64.49 161.85,64.49 162.52,64.5 163.2,64.5 163.87,64.5 164.55,64.5 165.22,64.5 165.89,64.5 166.57,64.5 167.24,64.5 167.92,64.5 168.59,64.5 169.27,64.5 169.94,64.5 170.62,64.5 171.29,64.5 171.96,64.5"/><polyline points="58.65,64.5 59.32,64.5 60,64.5 60.67,64.5 61.35,64.5 62.02,64.5 62.7,64.5 63.37,64.5 64.05,64.5 64.72,64.5 65.39,64.5 66.07,64.5 66.74,64.5 67.42,64.5 68.09,64.5 68.77,64.49 69.44,64.49 70.12,64.49 70.79,64.49 71.46,64.49 72.14,64.48 72.81,64.48 73.49,64.47 74.16,64.47 74.84,64.46 75.51,64.45 76.19,64.44 76.86,64.42 77.53,64.41 78.21,64.38 78.88,64.36 79.56,64.33 80.23,64.29 80.91,64.25 81.58,64.2 82.26,64.14 82.93,64.07 83.61,63.99 84.28,63.9 84.95,63.79 85.63,63.66 86.3,63.52 86.98,63.35 87.65,63.16 88.33,62.93 89,62.68 89.68,62.4 90.35,62.08 91.02,61.72 91.7,61.31 92.37,60.86 93.05,60.36 93.72,59.8 94.4,59.18 95.07,58.54 95.75,57.93 96.42,57.27 97.1,56.57 97.77,55.82 98.44,55.04 99.12,54.21 99.79,53.34 100.47,52.44 101.14,51.5 101.82,50.52 102.49,49.52 103.17,48.49 103.84,47.45 104.51,46.39 105.19,45.33 105.86,44.27 106.54,43.21 107.21,42.17 107.89,41.16 108.56,40.18 109.24,39.24 109.91,38.35 110.59,37.52 111.26,36.77 111.93,36.09 112.61,35.5 113.28,35.02 113.96,34.64 114.63,34.38 115.31,34.26 115.98,34.31 116.66,34.52 117.33,34.85 118,35.3 118.68,35.84 119.35,36.49 120.03,37.21 120.7,38.01 121.38,38.88 122.05,39.8 122.73,40.76 123.4,41.77 124.08,42.8 124.75,43.85 125.42,44.91 126.1,45.97 126.77,47.03 127.45,48.08 128.12,49.11 128.8,50.12 129.47,51.11 130.15,52.06 130.82,52.98 131.5,53.87 132.17,54.71 132.84,55.52 133.52,56.28 134.19,56.99 134.87,57.67 135.54,58.3 136.22,58.92 136.89,59.56 137.57,60.14 138.24,60.66 138.91,61.14 139.59,61.56 140.26,61.94 140.94,62.27 141.61,62.57 142.29,62.84 142.96,63.07 143.64,63.27 144.31,63.45 144.98,63.61 145.66,63.74 146.33,63.86 147.01,63.96 147.68,64.04 148.36,64.12 149.03,64.18 149.71,64.23 150.38,64.28 151.06,64.32 151.73,64.35 152.4,64.38 153.08,64.4 153.75,64.42 154.43,64.43 155.1,64.44 155.78,64.45 156.45,64.46 157.13,64.47 157.8,64.48 158.47,64.48 159.15,64.48 159.82,64.49 160.5,64.49 161.17,64.49 161.85,64.49 162.52,64.5 163.2,64.5 163.87,64.5 164.55,64.5 165.22,64.5 165.89,64.5 166.57,64.5 167.24,64.5 167.92,64.5 168.59,64.5 169.27,64.5 169.94,64.5 170.62,64.5 171.29,64.5 171.96,64.5"/><polyline points="58.65,64.5 59.32,64.5 60,64.5 60.67,64.5 61.35,64.5 62.02,64.5 62.7,64.5 63.37,64.5 64.05,64.5 64.72,64.5 65.39,64.5 66.07,64.5 66.74,64.5 67.42,64.5 68.09,64.5 68.77,64.49 69.44,64.49 70.12,64.49 70.79,64.49 71.46,64.49 72.14,64.48 72.81,64.48 73.49,64.47 74.16,64.47 74.84,64.46 75.51,64.45 76.19,64.44 76.86,64.42 77.53,64.41 78.21,64.38 78.88,64.36 79.56,64.33 80.23,64.29 80.91,64.25 81.58,64.2 82.26,64.14 82.93,64.07 83.61,63.99 84.28,63.9 84.95,63.79 85.63,63.66 86.3,63.52 86.98,63.35 87.65,63.16 88.33,62.93 89,62.68 89.68,62.4 90.35,62.08 91.02,61.72 91.7,61.31 92.37,60.86 93.05,60.36 93.72,59.8 94.4,59.18 95.07,58.51 95.75,57.86 96.42,57.17 97.1,56.43 97.77,55.65 98.44,54.81 99.12,53.93 99.79,53 100.47,52.03 101.14,51.02 101.82,49.97 102.49,48.88 103.17,47.77 103.84,46.64 104.51,45.49 105.19,44.32 105.86,43.16 106.54,42 107.21,40.86 107.89,39.74 108.56,38.66 109.24,37.62 109.91,36.64 110.59,35.73 111.26,34.89 111.93,34.14 112.61,33.48 113.28,32.94 113.96,32.52 114.63,32.23 115.31,32.1 115.98,32.16 116.66,32.39 117.33,32.76 118,33.25 118.68,33.86 119.35,34.58 120.03,35.38 120.7,36.27 121.38,37.22 122.05,38.24 122.73,39.31 123.4,40.41 124.08,41.54 124.75,42.7 125.42,43.86 126.1,45.02 126.77,46.18 127.45,47.32 128.12,48.44 128.8,49.54 129.47,50.6 130.15,51.63 130.82,52.62 131.5,53.56 132.17,54.46 132.84,55.32 133.52,56.13 134.19,56.88 134.87,57.59 135.54,58.26 136.22,58.92 136.89,59.56 137.57,60.14 138.24,60.66 138.91,61.14 139.59,61.56 140.26,61.94 140.94,62.27 141.61,62.57 142.29,62.84 142.96,63.07 143.64,63.27 144.31,63.45 144.98,63.61 145.66,63.74 146.33,63.86 147.01,63.96 147.68,64.04 148.36,64.12 149.03,64.18 149.71,64.23 150.38,64.28 151.06,64.32 151.73,64.35 152.4,64.38 153.08,64.4 153.75,64.42 154.43,64.43 155.1,64.44 155.78,64.45 156.45,64.46 157.13,64.47 157.8,64.48 158.47,64.48 159.15,64.48 159.82,64.49 160.5,64.49 161.17,64.49 161.85,64.49 162.52,64.5 163.2,64.5 163.87,64.5 164.55,64.5 165.22,64.5 165.89,64.5 166.57,64.5 167.24,64.5 167.92,64.5 168.59,64.5 169.27,64.5 169.94,64.5 170.62,64.5 171.29,64.5 171.96,64.5"/><polyline points="58.65,64.5 59.32,64.5 60,64.5 60.67,64.5 61.35,64.5 62.02,64.5 62.7,64.5 63.37,64.5 64.05,64.5 64.72,64.5 65.39,64.5 66.07,64.5 66.74,64.5 67.42,64.5 68.09,64.5 68.77,64.49 69.44,64.49 70.12,64.49 70.79,64.49 71.46,64.49 72.14,64.48 72.81,64.48 73.49,64.47 74.16,64.47 74.84,64.46 75.51,64.45 76.19,64.44 76.86,64.42 77.53,64.41 78.21,64.38 78.88,64.36 79.56,64.33 80.23,64.29 80.91,64.25 81.58,64.2 82.26,64.14 82.93,64.07 83.61,63.99 84.28,63.9 84.95,63.79 85.63,63.66 86.3,63.52 86.98,63.35 87.65,63.16 88.33,62.93 89,62.68 89.68,62.4 90.35,62.08 91.02,61.72 91.7,61.31 92.37,60.86 93.05,60.36 93.72,59.8 94.4,59.18 95.07,58.51 95.75,57.82 96.42,57.1 97.1,56.32 97.77,55.49 98.44,54.61 99.12,53.68 99.79,52.69 100.47,51.65 101.14,50.57 101.82,49.45 102.49,48.28 103.17,47.08 103.84,45.86 104.51,44.61 105.19,43.35 105.86,42.08 106.54,40.82 107.21,39.57 107.89,38.35 108.56,37.17 109.24,36.03 109.91,34.95 110.59,33.94 111.26,33.02 111.93,32.19 112.61,31.47 113.28,30.87 113.96,30.4 114.63,30.09 115.31,29.94 115.98,30 116.66,30.26 117.33,30.67 118,31.21 118.68,31.89 119.35,32.67 120.03,33.56 120.7,34.54 121.38,35.59 122.05,36.71 122.73,37.87 123.4,39.08 124.08,40.32 124.75,41.58 125.42,42.84 126.1,44.11 126.77,45.36 127.45,46.6 128.12,47.81 128.8,48.98 129.47,50.13 130.15,51.23 130.82,52.28 131.5,53.29 132.17,54.24 132.84,55.15 133.52,56 134.19,56.79 134.87,57.54 135.54,58.23 136.22,58.92 136.89,59.56 137.57,60.14 138.24,60.66 138.91,61.14 139.59,61.56 140.26,61.94 140.94,62.27 141.61,62.57 142.29,62.84 142.96,63.07 143.64,63.27 144.31,63.45 144.98,63.61 145.66,63.74 146.33,63.86 147.01,63.96 147.68,64.04 148.36,64.12 149.03,64.18 149.71,64.23 150.38,64.28 151.06,64.32 151.73,64.35 152.4,64.38 153.08,64.4 153.75,64.42 154.43,64.43 155.1,64.44 155.78,64.45 156.45,64.46 157.13,64.47 157.8,64.48 158.47,64.48 159.15,64.48 159.82,64.49 160.5,64.49 161.17,64.49 161.85,64.49 162.52,64.5 163.2,64.5 163.87,64.5 164.55,64.5 165.22,64.5 165.89,64.5 166.57,64.5 167.24,64.5 167.92,64.5 168.59,64.5 169.27,64.5 169.94,64.5 170.62,64.5 171.29,64.5 171.96,64.5"/><polyline points="58.65,64.5 59.32,64.5 60,64.5 60.67,64.5 61.35,64.5 62.02,64.5 62.7,64.5 63.37,64.5 64.05,64.5 64.72,64.5 65.39,64.5 66.07,64.5 66.74,64.5 67.42,64.5 68.09,64.5 68.77,64.49 69.44,64.49 70.12,64.49 70.79,64.49 71.46,64.49 72.14,64.48 72.81,64.48 73.49,64.47 74.16,64.47 74.84,64.46 75.51,64.45 76.19,64.44 76.86,64.42 77.53,64.41 78.21,64.38 78.88,64.36 79.56,64.33 80.23,64.29 80.91,64.25 81.58,64.2 82.26,64.14 82.93,64.07 83.61,63.99 84.28,63.9 84.95,63.79 85.63,63.66 86.3,63.52 86.98,63.35 87.65,63.16 88.33,62.93 89,62.68 89.68,62.4 90.35,62.08 91.02,61.72 91.7,61.31 92.37,60.86 93.05,60.36 93.72,59.8 94.4,59.18 95.07,58.51 95.75,57.79 96.42,57.04 97.1,56.23 97.77,55.36 98.44,54.43 99.12,53.45 99.79,52.4 100.47,51.31 101.14,50.15 101.82,48.95 102.49,47.71 103.17,46.42 103.84,45.11 104.51,43.76 105.19,42.4 105.86,41.03 106.54,39.67 107.21,38.31 107.89,36.98 108.56,35.69 109.24,34.45 109.91,33.27 110.59,32.17 111.26,31.16 111.93,30.25 112.61,29.46 113.28,28.8 113.96,28.29 114.63,27.94 115.31,27.78 115.98,27.85 116.66,28.13 117.33,28.58 118,29.18 118.68,29.92 119.35,30.78 120.03,31.75 120.7,32.82 121.38,33.97 122.05,35.19 122.73,36.46 123.4,37.78 124.08,39.12 124.75,40.48 125.42,41.85 126.1,43.22 126.77,44.57 127.45,45.9 128.12,47.2 128.8,48.46 129.47,49.68 130.15,50.85 130.82,51.97 131.5,53.04 132.17,54.05 132.84,55 133.52,55.89 134.19,56.72 134.87,57.5 135.54,58.22 136.22,58.92 136.89,59.56 137.57,60.14 138.24,60.66 138.91,61.14 139.59,61.56 140.26,61.94 140.94,62.27 141.61,62.57 142.29,62.84 142.96,63.07 143.64,63.27 144.31,63.45 144.98,63.61 145.66,63.74 146.33,63.86 147.01,63.96 147.68,64.04 148.36,64.12 149.03,64.18 149.71,64.23 150.38,64.28 151.06,64.32 151.73,64.35 152.4,64.38 153.08,64.4 153.75,64.42 154.43,64.43 155.1,64.44 155.78,64.45 156.45,64.46 157.13,64.47 157.8,64.48 158.47,64.48 159.15,64.48 159.82,64.49 160.5,64.49 161.17,64.49 161.85,64.49 162.52,64.5 163.2,64.5 163.87,64.5 164.55,64.5 165.22,64.5 165.89,64.5 166.57,64.5 167.24,64.5 167.92,64.5 168.59,64.5 169.27,64.5 169.94,64.5 170.62,64.5 171.29,64.5 171.96,64.5"/><polyline points="58.65,64.5 59.32,64.5 60,64.5 60.67,64.5 61.35,64.5 62.02,64.5 62.7,64.5 63.37,64.5 64.05,64.5 64.72,64.5 65.39,64.5 66.07,64.5 66.74,64.5 67.42,64.5 68.09,64.5 68.77,64.49 69.44,64.49 70.12,64.49 70.79,64.49 71.46,64.49 72.14,64.48 72.81,64.48 73.49,64.47 74.16,64.47 74.84,64.46 75.51,64.45 76.19,64.44 76.86,64.42 77.53,64.41 78.21,64.38 78.88,64.36 79.56,64.33 80.23,64.29 80.91,64.25 81.58,64.2 82.26,64.14 82.93,64.07 83.61,63.99 84.28,63.9 84.95,63.79 85.63,63.66 86.3,63.52 86.98,63.35 87.65,63.16 88.33,62.93 89,62.68 89.68,62.4 90.35,62.08 91.02,61.72 91.7,61.31 92.37,60.86 93.05,60.36 93.72,59.8 94.4,59.18 95.07,58.51 95.75,57.77 96.42,57 97.1,56.15 97.77,55.25 98.44,54.28 99.12,53.24 99.79,52.14 100.47,50.98 101.14,49.76 101.82,48.49 102.49,47.16 103.17,45.79 103.84,44.38 104.51,42.94 105.19,41.48 105.86,40.01 106.54,38.53 107.21,37.07 107.89,35.63 108.56,34.23 109.24,32.89 109.91,31.61 110.59,30.41 111.26,29.3 111.93,28.32 112.61,27.45 113.28,26.74 113.96,26.18 114.63,25.8 115.31,25.62 115.98,25.7 116.66,26 117.33,26.49 118,27.15 118.68,27.95 119.35,28.89 120.03,29.95 120.7,31.12 121.38,32.37 122.05,33.69 122.73,35.07 123.4,36.49 124.08,37.95 124.75,39.42 125.42,40.89 126.1,42.36 126.77,43.81 127.45,45.23 128.12,46.62 128.8,47.96 129.47,49.26 130.15,50.5 130.82,51.69 131.5,52.81 132.17,53.87 132.84,54.87 133.52,55.8 134.19,56.67 134.87,57.47 135.54,58.22 136.22,58.92 136.89,59.56 137.57,60.14 138.24,60.66 138.91,61.14 139.59,61.56 140.26,61.94 140.94,62.27 141.61,62.57 142.29,62.84 142.96,63.07 143.64,63.27 144.31,63.45 144.98,63.61 145.66,63.74 146.33,63.86 147.01,63.96 147.68,64.04 148.36,64.12 149.03,64.18 149.71,64.23 150.38,64.28 151.06,64.32 151.73,64.35 152.4,64.38 153.08,64.4 153.75,64.42 154.43,64.43 155.1,64.44 155.78,64.45 156.45,64.46 157.13,64.47 157.8,64.48 158.47,64.48 159.15,64.48 159.82,64.49 160.5,64.49 161.17,64.49 161.85,64.49 162.52,64.5 163.2,64.5 163.87,64.5 164.55,64.5 165.22,64.5 165.89,64.5 166.57,64.5 167.24,64.5 167.92,64.5 168.59,64.5 169.27,64.5 169.94,64.5 170.62,64.5 171.29,64.5 171.96,64.5"/><polyline points="58.65,64.5 59.32,64.5 60,64.5 60.67,64.5 61.35,64.5 62.02,64.5 62.7,64.5 63.37,64.5 64.05,64.5 64.72,64.5 65.39,64.5 66.07,64.5 66.74,64.5 67.42,64.5 68.09,64.5 68.77,64.49 69.44,64.49 70.12,64.49 70.79,64.49 71.46,64.49 72.14,64.48 72.81,64.48 73.49,64.47 74.16,64.47 74.84,64.46 75.51,64.45 76.19,64.44 76.86,64.42 77.53,64.41 78.21,64.38 78.88,64.36 79.56,64.33 80.23,64.29 80.91,64.25 81.58,64.2 82.26,64.14 82.93,64.07 83.61,63.99 84.28,63.9 84.95,63.79 85.63,63.66 86.3,63.52 86.98,63.35 87.65,63.16 88.33,62.93 89,62.68 89.68,62.4 90.35,62.08 91.02,61.72 91.7,61.31 92.37,60.86 93.05,60.36 93.72,59.8 94.4,59.18 95.07,58.51 95.75,57.77 96.42,56.97 97.1,56.09 97.77,55.15 98.44,54.14 99.12,53.06 99.79,51.91 100.47,50.68 101.14,49.4 101.82,48.05 102.49,46.64 103.17,45.19 103.84,43.69 104.51,42.15 105.19,40.59 105.86,39.01 106.54,37.43 107.21,35.85 107.89,34.31 108.56,32.8 109.24,31.34 109.91,29.95 110.59,28.66 111.26,27.46 111.93,26.39 112.61,25.45 113.28,24.67 113.96,24.07 114.63,23.65 115.31,23.46 115.98,23.55 116.66,23.88 117.33,24.41 118,25.12 118.68,26 119.35,27.02 120.03,28.17 120.7,29.42 121.38,30.78 122.05,32.21 122.73,33.7 123.4,35.23 124.08,36.8 124.75,38.38 125.42,39.96 126.1,41.53 126.77,43.08 127.45,44.59 128.12,46.07 128.8,47.49 129.47,48.87 130.15,50.18 130.82,51.42 131.5,52.6 132.17,53.72 132.84,54.76 133.52,55.72 134.19,56.62 134.87,57.46 135.54,58.22 136.22,58.92 136.89,59.56 137.57,60.14 138.24,60.66 138.91,61.14 139.59,61.56 140.26,61.94 140.94,62.27 141.61,62.57 142.29,62.84 142.96,63.07 143.64,63.27 144.31,63.45 144.98,63.61 145.66,63.74 146.33,63.86 147.01,63.96 147.68,64.04 148.36,64.12 149.03,64.18 149.71,64.23 150.38,64.28 151.06,64.32 151.73,64.35 152.4,64.38 153.08,64.4 153.75,64.42 154.43,64.43 155.1,64.44 155.78,64.45 156.45,64.46 157.13,64.47 157.8,64.48 158.47,64.48 159.15,64.48 159.82,64.49 160.5,64.49 161.17,64.49 161.85,64.49 162.52,64.5 163.2,64.5 163.87,64.5 164.55,64.5 165.22,64.5 165.89,64.5 166.57,64.5 167.24,64.5 167.92,64.5 168.59,64.5 169.27,64.5 169.94,64.5 170.62,64.5 171.29,64.5 171.96,64.5"/><polyline points="89.68,62.4 91.02,61.72 92.37,60.86 93.72,59.8 95.07,58.51 96.42,56.97 97.77,55.15 99.12,53.06 100.47,50.68 101.82,48.05 103.17,45.19 104.51,42.15 105.86,39.01 107.21,35.85 108.56,32.8 109.91,29.95 111.26,27.46 112.61,25.45 113.96,24.07 115.31,23.46 116.66,23.88 118,25.12 119.35,27.02 120.7,29.42 122.05,32.21 123.4,35.23 124.75,38.38 126.1,41.53 127.45,44.59 128.8,47.49 130.15,50.18 131.5,52.6 132.84,54.76 134.19,56.62 135.54,58.22 136.89,59.56 138.24,60.66 139.59,61.56 140.94,62.27 142.29,62.84" stroke-width="1.4"/></g><g fill="none" stroke="#1f77c4" stroke-width="0.9" stroke-linejoin="round"><polyline points="58.65,64.5 60,64.5 61.35,64.5 62.7,64.5 64.05,64.5 65.39,64.5 66.74,64.5 68.09,64.5 69.44,64.5 70.79,64.5 72.14,64.5 73.49,64.5 74.84,64.5 76.19,64.5 77.53,64.5 78.88,64.5 80.23,64.5 81.58,64.5 82.93,64.5 84.28,64.5 85.63,64.5 86.98,64.5 88.33,64.5 89.68,64.5 91.02,64.5 92.37,64.5 93.72,64.5 95.07,64.5 96.42,64.5 97.77,64.5 99.12,64.5 100.47,64.5 101.82,64.5 103.17,64.5 104.51,64.5 105.86,64.5 107.21,64.5 108.56,64.5 109.91,64.5 111.26,64.5 112.61,64.5 113.96,64.5 115.31,64.5 116.66,64.5 118,64.5 119.35,64.5 120.7,64.5 122.05,64.5 123.4,64.5 124.75,64.5 126.1,64.5 127.45,64.5 128.8,64.5 130.15,64.5 131.5,64.5 132.84,64.5 134.19,64.5 135.54,64.5 136.89,64.5 138.24,64.5 139.59,64.5 140.94,64.5 142.29,64.5 143.64,64.5 144.98,64.5 146.33,64.5 147.68,64.5 149.03,64.5 150.38,64.5 151.73,64.5 153.08,64.5 154.43,64.5 155.78,64.5 157.13,64.5 158.47,64.5 159.82,64.5 161.17,64.5 162.52,64.5 163.87,64.5 165.22,64.5 166.57,64.5 167.92,64.5 169.27,64.5 170.62,64.5 171.96,64.5"/><polyline points="58.65,64.5 60,64.5 61.35,64.5 62.7,64.5 64.05,64.5 65.39,64.5 66.74,64.5 68.09,64.5 69.44,64.5 70.79,64.5 72.14,64.5 73.49,64.5 74.84,64.5 76.19,64.5 77.53,64.5 78.88,64.5 80.23,64.5 81.58,64.5 82.93,64.5 84.28,64.5 85.63,64.5 86.98,64.5 88.33,64.5 89.68,64.5 91.02,64.5 92.37,64.5 93.72,64.5 95.07,64.5 96.42,64.5 97.77,64.5 99.12,64.5 100.47,64.5 101.82,64.5 103.17,64.5 104.51,64.5 105.86,64.5 107.21,64.5 108.56,64.5 109.91,64.5 111.26,64.5 112.61,64.5 113.96,64.5 115.31,64.5 116.66,64.87 118,65.09 119.35,65.34 120.7,65.57 122.05,65.74 123.4,65.79 124.75,65.76 126.1,65.67 127.45,65.54 128.8,65.39 130.15,65.22 131.5,65.06 132.84,64.92 134.19,64.8 135.54,64.7 136.89,64.63 138.24,64.58 139.59,64.55 140.94,64.53 142.29,64.52 143.64,64.51 144.98,64.5 146.33,64.5 147.68,64.5 149.03,64.5 150.38,64.5 151.73,64.5 153.08,64.5 154.43,64.5 155.78,64.5 157.13,64.5 158.47,64.5 159.82,64.5 161.17,64.5 162.52,64.5 163.87,64.5 165.22,64.5 166.57,64.5 167.92,64.5 169.27,64.5 170.62,64.5 171.96,64.5"/><polyline points="58.65,64.5 60,64.5 61.35,64.5 62.7,64.5 64.05,64.5 65.39,64.5 66.74,64.5 68.09,64.5 69.44,64.5 70.79,64.5 72.14,64.5 73.49,64.5 74.84,64.5 76.19,64.5 77.53,64.5 78.88,64.5 80.23,64.5 81.58,64.5 82.93,64.5 84.28,64.5 85.63,64.5 86.98,64.5 88.33,64.5 89.68,64.5 91.02,64.5 92.37,64.5 93.72,64.5 95.07,64.5 96.42,64.5 97.77,64.5 99.12,64.5 100.47,64.5 101.82,64.5 103.17,64.5 104.51,64.5 105.86,64.5 107.21,64.5 108.56,64.5 109.91,64.5 111.26,64.5 112.61,64.5 113.96,64.5 115.31,64.5 116.66,65.25 118,65.68 119.35,66.17 120.7,66.64 122.05,66.97 123.4,67.08 124.75,67.01 126.1,66.84 127.45,66.58 128.8,66.27 130.15,65.95 131.5,65.63 132.84,65.34 134.19,65.1 135.54,64.91 136.89,64.77 138.24,64.67 139.59,64.6 140.94,64.56 142.29,64.53 143.64,64.52 144.98,64.51 146.33,64.5 147.68,64.5 149.03,64.5 150.38,64.5 151.73,64.5 153.08,64.5 154.43,64.5 155.78,64.5 157.13,64.5 158.47,64.5 159.82,64.5 161.17,64.5 162.52,64.5 163.87,64.5 165.22,64.5 166.57,64.5 167.92,64.5 169.27,64.5 170.62,64.5 171.96,64.5"/><polyline points="58.65,64.5 60,64.5 61.35,64.5 62.7,64.5 64.05,64.5 65.39,64.5 66.74,64.5 68.09,64.5 69.44,64.5 70.79,64.5 72.14,64.5 73.49,64.5 74.84,64.5 76.19,64.5 77.53,64.5 78.88,64.5 80.23,64.5 81.58,64.5 82.93,64.5 84.28,64.5 85.63,64.5 86.98,64.5 88.33,64.5 89.68,64.5 91.02,64.5 92.37,64.5 93.72,64.5 95.07,64.5 96.42,64.5 97.77,64.5 99.12,64.5 100.47,64.5 101.82,64.5 103.17,64.5 104.51,64.5 105.86,64.5 107.21,64.5 108.56,64.5 109.91,64.5 111.26,64.5 112.61,64.5 113.96,64.5 115.31,64.5 116.66,65.62 118,66.26 119.35,67.01 120.7,67.71 122.05,68.21 123.4,68.37 124.75,68.27 126.1,68.01 127.45,67.62 128.8,67.16 130.15,66.67 131.5,66.19 132.84,65.76 134.19,65.4 135.54,65.11 136.89,64.9 138.24,64.75 139.59,64.65 140.94,64.58 142.29,64.55 143.64,64.52 144.98,64.51 146.33,64.51 147.68,64.5 149.03,64.5 150.38,64.5 151.73,64.5 153.08,64.5 154.43,64.5 155.78,64.5 157.13,64.5 158.47,64.5 159.82,64.5 161.17,64.5 162.52,64.5 163.87,64.5 165.22,64.5 166.57,64.5 167.92,64.5 169.27,64.5 170.62,64.5 171.96,64.5"/><polyline points="58.65,64.5 60,64.5 61.35,64.5 62.7,64.5 64.05,64.5 65.39,64.5 66.74,64.5 68.09,64.5 69.44,64.5 70.79,64.5 72.14,64.5 73.49,64.5 74.84,64.5 76.19,64.5 77.53,64.5 78.88,64.5 80.23,64.5 81.58,64.5 82.93,64.5 84.28,64.5 85.63,64.5 86.98,64.5 88.33,64.5 89.68,64.5 91.02,64.5 92.37,64.5 93.72,64.5 95.07,64.5 96.42,64.5 97.77,64.5 99.12,64.5 100.47,64.5 101.82,64.5 103.17,64.5 104.51,64.5 105.86,64.5 107.21,64.5 108.56,64.5 109.91,64.5 111.26,64.5 112.61,64.5 113.96,64.5 115.31,64.5 116.66,65.99 118,66.85 119.35,67.84 120.7,68.78 122.05,69.45 123.4,69.66 124.75,69.52 126.1,69.18 127.45,68.67 128.8,68.05 130.15,67.39 131.5,66.75 132.84,66.18 134.19,65.7 135.54,65.32 136.89,65.03 138.24,64.83 139.59,64.7 140.94,64.61 142.29,64.56 143.64,64.53 144.98,64.52 146.33,64.51 147.68,64.5 149.03,64.5 150.38,64.5 151.73,64.5 153.08,64.5 154.43,64.5 155.78,64.5 157.13,64.5 158.47,64.5 159.82,64.5 161.17,64.5 162.52,64.5 163.87,64.5 165.22,64.5 166.57,64.5 167.92,64.5 169.27,64.5 170.62,64.5 171.96,64.5"/><polyline points="58.65,64.5 60,64.5 61.35,64.5 62.7,64.5 64.05,64.5 65.39,64.5 66.74,64.5 68.09,64.5 69.44,64.5 70.79,64.5 72.14,64.5 73.49,64.5 74.84,64.5 76.19,64.5 77.53,64.5 78.88,64.5 80.23,64.5 81.58,64.5 82.93,64.5 84.28,64.5 85.63,64.5 86.98,64.5 88.33,64.5 89.68,64.5 91.02,64.5 92.37,64.5 93.72,64.5 95.07,64.5 96.42,64.5 97.77,64.5 99.12,64.5 100.47,64.5 101.82,64.5 103.17,64.5 104.51,64.5 105.86,64.5 107.21,64.5 108.56,64.5 109.91,64.5 111.26,64.5 112.61,64.5 113.96,64.5 115.31,64.5 116.66,66.37 118,67.44 119.35,68.68 120.7,69.85 122.05,70.69 123.4,70.95 124.75,70.78 126.1,70.35 127.45,69.71 128.8,68.94 130.15,68.11 131.5,67.32 132.84,66.6 134.19,66 135.54,65.52 136.89,65.16 138.24,64.91 139.59,64.75 140.94,64.64 142.29,64.58 143.64,64.54 144.98,64.52 146.33,64.51 147.68,64.5 149.03,64.5 150.38,64.5 151.73,64.5 153.08,64.5 154.43,64.5 155.78,64.5 157.13,64.5 158.47,64.5 159.82,64.5 161.17,64.5 162.52,64.5 163.87,64.5 165.22,64.5 166.57,64.5 167.92,64.5 169.27,64.5 170.62,64.5 171.96,64.5"/><polyline points="58.65,64.5 60,64.5 61.35,64.5 62.7,64.5 64.05,64.5 65.39,64.5 66.74,64.5 68.09,64.5 69.44,64.5 70.79,64.5 72.14,64.5 73.49,64.5 74.84,64.5 76.19,64.5 77.53,64.5 78.88,64.5 80.23,64.5 81.58,64.5 82.93,64.5 84.28,64.5 85.63,64.5 86.98,64.5 88.33,64.5 89.68,64.5 91.02,64.5 92.37,64.5 93.72,64.5 95.07,64.5 96.42,64.5 97.77,64.5 99.12,64.5 100.47,64.5 101.82,64.5 103.17,64.5 104.51,64.5 105.86,64.5 107.21,64.5 108.56,64.5 109.91,64.5 111.26,64.5 112.61,64.5 113.96,64.5 115.31,64.5 116.66,66.74 118,68.03 119.35,69.51 120.7,70.92 122.05,71.92 123.4,72.24 124.75,72.03 126.1,71.52 127.45,70.75 128.8,69.82 130.15,68.84 131.5,67.88 132.84,67.02 134.19,66.29 135.54,65.72 136.89,65.3 138.24,65 139.59,64.8 140.94,64.67 142.29,64.59 143.64,64.55 144.98,64.52 146.33,64.51 147.68,64.51 149.03,64.5 150.38,64.5 151.73,64.5 153.08,64.5 154.43,64.5 155.78,64.5 157.13,64.5 158.47,64.5 159.82,64.5 161.17,64.5 162.52,64.5 163.87,64.5 165.22,64.5 166.57,64.5 167.92,64.5 169.27,64.5 170.62,64.5 171.96,64.5"/><polyline points="58.65,64.5 60,64.5 61.35,64.5 62.7,64.5 64.05,64.5 65.39,64.5 66.74,64.5 68.09,64.5 69.44,64.5 70.79,64.5 72.14,64.5 73.49,64.5 74.84,64.5 76.19,64.5 77.53,64.5 78.88,64.5 80.23,64.5 81.58,64.5 82.93,64.5 84.28,64.5 85.63,64.5 86.98,64.5 88.33,64.5 89.68,64.5 91.02,64.5 92.37,64.5 93.72,64.5 95.07,64.5 96.42,64.5 97.77,64.5 99.12,64.5 100.47,64.5 101.82,64.5 103.17,64.5 104.51,64.5 105.86,64.5 107.21,64.5 108.56,64.5 109.91,64.5 111.26,64.5 112.61,64.5 113.96,64.5 115.31,64.5 116.66,67.11 118,68.62 119.35,70.35 120.7,71.99 122.05,73.16 123.4,73.53 124.75,73.29 126.1,72.69 127.45,71.79 128.8,70.71 130.15,69.56 131.5,68.44 132.84,67.44 134.19,66.59 135.54,65.93 136.89,65.43 138.24,65.08 139.59,64.85 140.94,64.7 142.29,64.61 143.64,64.56 144.98,64.53 146.33,64.51 147.68,64.51 149.03,64.5 150.38,64.5 151.73,64.5 153.08,64.5 154.43,64.5 155.78,64.5 157.13,64.5 158.47,64.5 159.82,64.5 161.17,64.5 162.52,64.5 163.87,64.5 165.22,64.5 166.57,64.5 167.92,64.5 169.27,64.5 170.62,64.5 171.96,64.5"/><polyline points="58.65,64.5 60,64.5 61.35,64.5 62.7,64.5 64.05,64.5 65.39,64.5 66.74,64.5 68.09,64.5 69.44,64.5 70.79,64.5 72.14,64.5 73.49,64.5 74.84,64.5 76.19,64.5 77.53,64.5 78.88,64.5 80.23,64.5 81.58,64.5 82.93,64.5 84.28,64.5 85.63,64.5 86.98,64.5 88.33,64.5 89.68,64.5 91.02,64.5 92.37,64.5 93.72,64.5 95.07,64.5 96.42,64.5 97.77,64.5 99.12,64.5 100.47,64.5 101.82,64.5 103.17,64.5 104.51,64.5 105.86,64.5 107.21,64.5 108.56,64.5 109.91,64.5 111.26,64.5 112.61,64.5 113.96,64.5 115.31,64.5 116.66,67.49 118,69.2 119.35,71.18 120.7,73.07 122.05,74.4 123.4,74.82 124.75,74.55 126.1,73.86 127.45,72.83 128.8,71.6 130.15,70.28 131.5,69.01 132.84,67.86 134.19,66.89 135.54,66.13 136.89,65.56 138.24,65.16 139.59,64.9 140.94,64.73 142.29,64.62 143.64,64.56 144.98,64.53 146.33,64.52 147.68,64.51 149.03,64.5 150.38,64.5 151.73,64.5 153.08,64.5 154.43,64.5 155.78,64.5 157.13,64.5 158.47,64.5 159.82,64.5 161.17,64.5 162.52,64.5 163.87,64.5 165.22,64.5 166.57,64.5 167.92,64.5 169.27,64.5 170.62,64.5 171.96,64.5"/><polyline points="58.65,64.5 60,64.5 61.35,64.5 62.7,64.5 64.05,64.5 65.39,64.5 66.74,64.5 68.09,64.5 69.44,64.5 70.79,64.5 72.14,64.5 73.49,64.5 74.84,64.5 76.19,64.5 77.53,64.5 78.88,64.5 80.23,64.5 81.58,64.5 82.93,64.5 84.28,64.5 85.63,64.5 86.98,64.5 88.33,64.5 89.68,64.5 91.02,64.5 92.37,64.5 93.72,64.5 95.07,64.5 96.42,64.5 97.77,64.5 99.12,64.5 100.47,64.5 101.82,64.5 103.17,64.5 104.51,64.5 105.86,64.5 107.21,64.5 108.56,64.5 109.91,64.5 111.26,64.5 112.61,64.5 113.96,64.5 115.31,64.5 116.66,67.86 118,69.79 119.35,72.02 120.7,74.14 122.05,75.64 123.4,76.11 124.75,75.8 126.1,75.02 127.45,73.87 128.8,72.48 130.15,71 131.5,69.57 132.84,68.28 134.19,67.19 135.54,66.34 136.89,65.7 138.24,65.25 139.59,64.95 140.94,64.75 142.29,64.64 143.64,64.57 144.98,64.54 146.33,64.52 147.68,64.51 149.03,64.5 150.38,64.5 151.73,64.5 153.08,64.5 154.43,64.5 155.78,64.5 157.13,64.5 158.47,64.5 159.82,64.5 161.17,64.5 162.52,64.5 163.87,64.5 165.22,64.5 166.57,64.5 167.92,64.5 169.27,64.5 170.62,64.5 171.96,64.5"/><polyline points="58.65,64.5 60,64.5 61.35,64.5 62.7,64.5 64.05,64.5 65.39,64.5 66.74,64.5 68.09,64.5 69.44,64.5 70.79,64.5 72.14,64.5 73.49,64.5 74.84,64.5 76.19,64.5 77.53,64.5 78.88,64.5 80.23,64.5 81.58,64.5 82.93,64.5 84.28,64.5 85.63,64.5 86.98,64.5 88.33,64.5 89.68,64.5 91.02,64.5 92.37,64.5 93.72,64.5 95.07,64.5 96.42,64.5 97.77,64.5 99.12,64.5 100.47,64.5 101.82,64.5 103.17,64.5 104.51,64.5 105.86,64.5 107.21,64.5 108.56,64.5 109.91,64.5 111.26,64.5 112.61,64.5 113.96,64.5 115.31,64.5 116.66,68.23 118,70.38 119.35,72.86 120.7,75.21 122.05,76.87 123.4,77.4 124.75,77.06 126.1,76.19 127.45,74.92 128.8,73.37 130.15,71.73 131.5,70.13 132.84,68.7 134.19,67.49 135.54,66.54 136.89,65.83 138.24,65.33 139.59,64.99 140.94,64.78 142.29,64.65 143.64,64.58 144.98,64.54 146.33,64.52 147.68,64.51 149.03,64.5 150.38,64.5 151.73,64.5 153.08,64.5 154.43,64.5 155.78,64.5 157.13,64.5 158.47,64.5 159.82,64.5 161.17,64.5 162.52,64.5 163.87,64.5 165.22,64.5 166.57,64.5 167.92,64.5 169.27,64.5 170.62,64.5 171.96,64.5"/><polyline points="58.65,64.5 60,64.5 61.35,64.5 62.7,64.5 64.05,64.5 65.39,64.5 66.74,64.5 68.09,64.5 69.44,64.5 70.79,64.5 72.14,64.5 73.49,64.5 74.84,64.5 76.19,64.5 77.53,64.5 78.88,64.5 80.23,64.5 81.58,64.5 82.93,64.5 84.28,64.5 85.63,64.5 86.98,64.5 88.33,64.5 89.68,64.5 91.02,64.5 92.37,64.5 93.72,64.5 95.07,64.5 96.42,64.5 97.77,64.5 99.12,64.5 100.47,64.5 101.82,64.5 103.17,64.5 104.51,64.5 105.86,64.5 107.21,64.5 108.56,64.5 109.91,64.5 111.26,64.5 112.61,64.5 113.96,64.5 115.31,64.5 116.66,68.61 118,70.97 119.35,73.69 120.7,76.28 122.05,78.11 123.4,78.69 124.75,78.31 126.1,77.36 127.45,75.96 128.8,74.26 130.15,72.45 131.5,70.69 132.84,69.12 134.19,67.79 135.54,66.74 136.89,65.96 138.24,65.41 139.59,65.04 140.94,64.81 142.29,64.67 143.64,64.59 144.98,64.54 146.33,64.52 147.68,64.51 149.03,64.5 150.38,64.5 151.73,64.5 153.08,64.5 154.43,64.5 155.78,64.5 157.13,64.5 158.47,64.5 159.82,64.5 161.17,64.5 162.52,64.5 163.87,64.5 165.22,64.5 166.57,64.5 167.92,64.5 169.27,64.5 170.62,64.5 171.96,64.5"/><polyline points="58.65,64.5 60,64.5 61.35,64.5 62.7,64.5 64.05,64.5 65.39,64.5 66.74,64.5 68.09,64.5 69.44,64.5 70.79,64.5 72.14,64.5 73.49,64.5 74.84,64.5 76.19,64.5 77.53,64.5 78.88,64.5 80.23,64.5 81.58,64.5 82.93,64.5 84.28,64.5 85.63,64.5 86.98,64.5 88.33,64.5 89.68,64.5 91.02,64.5 92.37,64.5 93.72,64.5 95.07,64.5 96.42,64.5 97.77,64.5 99.12,64.5 100.47,64.5 101.82,64.5 103.17,64.5 104.51,64.5 105.86,64.5 107.21,64.5 108.56,64.5 109.91,64.5 111.26,64.5 112.61,64.5 113.96,64.5 115.31,64.5 116.66,68.98 118,71.56 119.35,74.53 120.7,77.35 122.05,79.35 123.4,79.98 124.75,79.57 126.1,78.53 127.45,77 128.8,75.15 130.15,73.17 131.5,71.26 132.84,69.54 134.19,68.09 135.54,66.95 136.89,66.1 138.24,65.49 139.59,65.09 140.94,64.84 142.29,64.68 143.64,64.6 144.98,64.55 146.33,64.52 147.68,64.51 149.03,64.5 150.38,64.5 151.73,64.5 153.08,64.5 154.43,64.5 155.78,64.5 157.13,64.5 158.47,64.5 159.82,64.5 161.17,64.5 162.52,64.5 163.87,64.5 165.22,64.5 166.57,64.5 167.92,64.5 169.27,64.5 170.62,64.5 171.96,64.5"/><polyline points="58.65,64.5 60,64.5 61.35,64.5 62.7,64.5 64.05,64.5 65.39,64.5 66.74,64.5 68.09,64.5 69.44,64.5 70.79,64.5 72.14,64.5 73.49,64.5 74.84,64.5 76.19,64.5 77.53,64.5 78.88,64.5 80.23,64.5 81.58,64.5 82.93,64.5 84.28,64.5 85.63,64.5 86.98,64.5 88.33,64.5 89.68,64.5 91.02,64.5 92.37,64.5 93.72,64.5 95.07,64.5 96.42,64.5 97.77,64.5 99.12,64.5 100.47,64.5 101.82,64.5 103.17,64.5 104.51,64.5 105.86,64.5 107.21,64.5 108.56,64.5 109.91,64.5 111.26,64.5 112.61,64.5 113.96,64.5 115.31,64.5 116.66,69.35 118,72.15 119.35,75.36 120.7,78.42 122.05,80.58 123.4,81.27 124.75,80.83 126.1,79.7 127.45,78.04 128.8,76.03 130.15,73.9 131.5,71.82 132.84,69.96 134.19,68.39 135.54,67.15 136.89,66.23 138.24,65.58 139.59,65.14 140.94,64.87 142.29,64.7 143.64,64.6 144.98,64.55 146.33,64.52 147.68,64.51 149.03,64.5 150.38,64.5 151.73,64.5 153.08,64.5 154.43,64.5 155.78,64.5 157.13,64.5 158.47,64.5 159.82,64.5 161.17,64.5 162.52,64.5 163.87,64.5 165.22,64.5 166.57,64.5 167.92,64.5 169.27,64.5 170.62,64.5 171.96,64.5"/><polyline points="58.65,64.5 60,64.5 61.35,64.5 62.7,64.5 64.05,64.5 65.39,64.5 66.74,64.5 68.09,64.5 69.44,64.5 70.79,64.5 72.14,64.5 73.49,64.5 74.84,64.5 76.19,64.5 77.53,64.5 78.88,64.5 80.23,64.5 81.58,64.5 82.93,64.5 84.28,64.5 85.63,64.5 86.98,64.5 88.33,64.5 89.68,64.5 91.02,64.5 92.37,64.5 93.72,64.5 95.07,64.5 96.42,64.5 97.77,64.5 99.12,64.5 100.47,64.5 101.82,64.5 103.17,64.5 104.51,64.5 105.86,64.5 107.21,64.5 108.56,64.5 109.91,64.5 111.26,64.5 112.61,64.5 113.96,64.5 115.31,64.5 116.66,69.73 118,72.73 119.35,76.2 120.7,79.49 122.05,81.82 123.4,82.56 124.75,82.08 126.1,80.87 127.45,79.08 128.8,76.92 130.15,74.62 131.5,72.38 132.84,70.38 134.19,68.69 135.54,67.36 136.89,66.36 138.24,65.66 139.59,65.19 140.94,64.89 142.29,64.72 143.64,64.61 144.98,64.56 146.33,64.53 147.68,64.51 149.03,64.51 150.38,64.5 151.73,64.5 153.08,64.5 154.43,64.5 155.78,64.5 157.13,64.5 158.47,64.5 159.82,64.5 161.17,64.5 162.52,64.5 163.87,64.5 165.22,64.5 166.57,64.5 167.92,64.5 169.27,64.5 170.62,64.5 171.96,64.5"/><polyline points="58.65,64.5 60,64.5 61.35,64.5 62.7,64.5 64.05,64.5 65.39,64.5 66.74,64.5 68.09,64.5 69.44,64.5 70.79,64.5 72.14,64.5 73.49,64.5 74.84,64.5 76.19,64.5 77.53,64.5 78.88,64.5 80.23,64.5 81.58,64.5 82.93,64.5 84.28,64.5 85.63,64.5 86.98,64.5 88.33,64.5 89.68,64.5 91.02,64.5 92.37,64.5 93.72,64.5 95.07,64.5 96.42,64.5 97.77,64.5 99.12,64.5 100.47,64.5 101.82,64.5 103.17,64.5 104.51,64.5 105.86,64.5 107.21,64.5 108.56,64.5 109.91,64.5 111.26,64.5 112.61,64.5 113.96,64.5 115.31,64.5 116.66,70.1 118,73.32 119.35,77.03 120.7,80.56 122.05,83.06 123.4,83.85 124.75,83.34 126.1,82.04 127.45,80.12 128.8,77.81 130.15,75.34 131.5,72.95 132.84,70.8 134.19,68.99 135.54,67.56 136.89,66.49 138.24,65.74 139.59,65.24 140.94,64.92 142.29,64.73 143.64,64.62 144.98,64.56 146.33,64.53 147.68,64.51 149.03,64.51 150.38,64.5 151.73,64.5 153.08,64.5 154.43,64.5 155.78,64.5 157.13,64.5 158.47,64.5 159.82,64.5 161.17,64.5 162.52,64.5 163.87,64.5 165.22,64.5 166.57,64.5 167.92,64.5 169.27,64.5 170.62,64.5 171.96,64.5"/><polyline points="58.65,64.5 60,64.5 61.35,64.5 62.7,64.5 64.05,64.5 65.39,64.5 66.74,64.5 68.09,64.5 69.44,64.5 70.79,64.5 72.14,64.5 73.49,64.5 74.84,64.5 76.19,64.5 77.53,64.5 78.88,64.5 80.23,64.5 81.58,64.5 82.93,64.5 84.28,64.5 85.63,64.5 86.98,64.5 88.33,64.5 89.68,64.5 91.02,64.5 92.37,64.5 93.72,64.5 95.07,64.5 96.42,64.5 97.77,64.5 99.12,64.5 100.47,64.5 101.82,64.5 103.17,64.5 104.51,64.5 105.86,64.5 107.21,64.5 108.56,64.5 109.91,64.5 111.26,64.5 112.61,64.5 113.96,64.5 115.31,64.5 116.66,70.47 118,73.91 119.35,77.87 120.7,81.63 122.05,84.3 123.4,85.14 124.75,84.59 126.1,83.21 127.45,81.16 128.8,78.69 130.15,76.06 131.5,73.51 132.84,71.22 134.19,69.29 135.54,67.76 136.89,66.63 138.24,65.83 139.59,65.29 140.94,64.95 142.29,64.75 143.64,64.63 144.98,64.56 146.33,64.53 147.68,64.51 149.03,64.51 150.38,64.5 151.73,64.5 153.08,64.5 154.43,64.5 155.78,64.5 157.13,64.5 158.47,64.5 159.82,64.5 161.17,64.5 162.52,64.5 163.87,64.5 165.22,64.5 166.57,64.5 167.92,64.5 169.27,64.5 170.62,64.5 171.96,64.5"/><polyline points="58.65,64.5 60,64.5 61.35,64.5 62.7,64.5 64.05,64.5 65.39,64.5 66.74,64.5 68.09,64.5 69.44,64.5 70.79,64.5 72.14,64.5 73.49,64.5 74.84,64.5 76.19,64.5 77.53,64.5 78.88,64.5 80.23,64.5 81.58,64.5 82.93,64.5 84.28,64.5 85.63,64.5 86.98,64.5 88.33,64.5 89.68,64.5 91.02,64.5 92.37,64.5 93.72,64.5 95.07,64.5 96.42,64.5 97.77,64.5 99.12,64.5 100.47,64.5 101.82,64.5 103.17,64.5 104.51,64.5 105.86,64.5 107.21,64.5 108.56,64.5 109.91,64.5 111.26,64.5 112.61,64.5 113.96,64.5 115.31,64.5 116.66,70.85 118,74.5 119.35,78.7 120.7,82.7 122.05,85.53 123.4,86.43 124.75,85.85 126.1,84.38 127.45,82.21 128.8,79.58 130.15,76.79 131.5,74.07 132.84,71.63 134.19,69.59 135.54,67.97 136.89,66.76 138.24,65.91 139.59,65.34 140.94,64.98 142.29,64.76 143.64,64.64 144.98,64.57 146.33,64.53 147.68,64.51 149.03,64.51 150.38,64.5 151.73,64.5 153.08,64.5 154.43,64.5 155.78,64.5 157.13,64.5 158.47,64.5 159.82,64.5 161.17,64.5 162.52,64.5 163.87,64.5 165.22,64.5 166.57,64.5 167.92,64.5 169.27,64.5 170.62,64.5 171.96,64.5"/><polyline points="58.65,64.5 60,64.5 61.35,64.5 62.7,64.5 64.05,64.5 65.39,64.5 66.74,64.5 68.09,64.5 69.44,64.5 70.79,64.5 72.14,64.5 73.49,64.5 74.84,64.5 76.19,64.5 77.53,64.5 78.88,64.5 80.23,64.5 81.58,64.5 82.93,64.5 84.28,64.5 85.63,64.5 86.98,64.5 88.33,64.5 89.68,64.5 91.02,64.5 92.37,64.5 93.72,64.5 95.07,64.5 96.42,64.5 97.77,64.5 99.12,64.5 100.47,64.5 101.82,64.5 103.17,64.5 104.51,64.5 105.86,64.5 107.21,64.5 108.56,64.5 109.91,64.5 111.26,64.5 112.61,64.5 113.96,64.5 115.31,64.5 116.66,71.22 118,75.09 119.35,79.54 120.7,83.77 122.05,86.77 123.4,87.72 124.75,87.1 126.1,85.55 127.45,83.25 128.8,80.47 130.15,77.51 131.5,74.64 132.84,72.05 134.19,69.88 135.54,68.17 136.89,66.89 138.24,65.99 139.59,65.39 140.94,65.01 142.29,64.78 143.64,64.64 144.98,64.57 146.33,64.53 147.68,64.52 149.03,64.51 150.38,64.5 151.73,64.5 153.08,64.5 154.43,64.5 155.78,64.5 157.13,64.5 158.47,64.5 159.82,64.5 161.17,64.5 162.52,64.5 163.87,64.5 165.22,64.5 166.57,64.5 167.92,64.5 169.27,64.5 170.62,64.5 171.96,64.5"/><polyline points="58.65,64.5 60,64.5 61.35,64.5 62.7,64.5 64.05,64.5 65.39,64.5 66.74,64.5 68.09,64.5 69.44,64.5 70.79,64.5 72.14,64.5 73.49,64.5 74.84,64.5 76.19,64.5 77.53,64.5 78.88,64.5 80.23,64.5 81.58,64.5 82.93,64.5 84.28,64.5 85.63,64.5 86.98,64.5 88.33,64.5 89.68,64.5 91.02,64.5 92.37,64.5 93.72,64.5 95.07,64.5 96.42,64.5 97.77,64.5 99.12,64.5 100.47,64.5 101.82,64.5 103.17,64.5 104.51,64.5 105.86,64.5 107.21,64.5 108.56,64.5 109.91,64.5 111.26,64.5 112.61,64.5 113.96,64.5 115.31,64.5 116.66,71.59 118,75.67 119.35,80.38 120.7,84.84 122.05,88.01 123.4,89.01 124.75,88.36 126.1,86.72 127.45,84.29 128.8,81.36 130.15,78.23 131.5,75.2 132.84,72.47 134.19,70.18 135.54,68.37 136.89,67.03 138.24,66.08 139.59,65.44 140.94,65.04 142.29,64.79 143.64,64.65 144.98,64.58 146.33,64.54 147.68,64.52 149.03,64.51 150.38,64.5 151.73,64.5 153.08,64.5 154.43,64.5 155.78,64.5 157.13,64.5 158.47,64.5 159.82,64.5 161.17,64.5 162.52,64.5 163.87,64.5 165.22,64.5 166.57,64.5 167.92,64.5 169.27,64.5 170.62,64.5 171.96,64.5"/><polyline points="58.65,64.5 60,64.5 61.35,64.5 62.7,64.5 64.05,64.5 65.39,64.5 66.74,64.5 68.09,64.5 69.44,64.5 70.79,64.5 72.14,64.5 73.49,64.5 74.84,64.5 76.19,64.5 77.53,64.5 78.88,64.5 80.23,64.5 81.58,64.5 82.93,64.5 84.28,64.5 85.63,64.5 86.98,64.5 88.33,64.5 89.68,64.5 91.02,64.5 92.37,64.5 93.72,64.5 95.07,64.5 96.42,64.5 97.77,64.5 99.12,64.5 100.47,64.5 101.82,64.5 103.17,64.5 104.51,64.5 105.86,64.5 107.21,64.5 108.56,64.5 109.91,64.5 111.26,64.5 112.61,64.5 113.96,64.5 115.31,64.5 116.66,71.97 118,76.26 119.35,81.21 120.7,85.91 122.05,89.25 123.4,90.3 124.75,89.62 126.1,87.89 127.45,85.33 128.8,82.24 130.15,78.96 131.5,75.76 132.84,72.89 134.19,70.48 135.54,68.58 136.89,67.16 138.24,66.16 139.59,65.49 140.94,65.06 142.29,64.81 143.64,64.66 144.98,64.58 146.33,64.54 147.68,64.52 149.03,64.51 150.38,64.5 151.73,64.5 153.08,64.5 154.43,64.5 155.78,64.5 157.13,64.5 158.47,64.5 159.82,64.5 161.17,64.5 162.52,64.5 163.87,64.5 165.22,64.5 166.57,64.5 167.92,64.5 169.27,64.5 170.62,64.5 171.96,64.5"/><polyline points="58.65,64.5 60,64.5 61.35,64.5 62.7,64.5 64.05,64.5 65.39,64.5 66.74,64.5 68.09,64.5 69.44,64.5 70.79,64.5 72.14,64.5 73.49,64.5 74.84,64.5 76.19,64.5 77.53,64.5 78.88,64.5 80.23,64.5 81.58,64.5 82.93,64.5 84.28,64.5 85.63,64.5 86.98,64.5 88.33,64.5 89.68,64.5 91.02,64.5 92.37,64.5 93.72,64.5 95.07,64.5 96.42,64.5 97.77,64.5 99.12,64.5 100.47,64.5 101.82,64.5 103.17,64.5 104.51,64.5 105.86,64.5 107.21,64.5 108.56,64.5 109.91,64.5 111.26,64.5 112.61,64.5 113.96,64.5 115.31,64.5 116.66,72.34 118,76.85 119.35,82.05 120.7,86.98 122.05,90.48 123.4,91.59 124.75,90.87 126.1,89.06 127.45,86.37 128.8,83.13 130.15,79.68 131.5,76.33 132.84,73.31 134.19,70.78 135.54,68.78 136.89,67.29 138.24,66.24 139.59,65.54 140.94,65.09 142.29,64.82 143.64,64.67 144.98,64.58 146.33,64.54 147.68,64.52 149.03,64.51 150.38,64.5 151.73,64.5 153.08,64.5 154.43,64.5 155.78,64.5 157.13,64.5 158.47,64.5 159.82,64.5 161.17,64.5 162.52,64.5 163.87,64.5 165.22,64.5 166.57,64.5 167.92,64.5 169.27,64.5 170.62,64.5 171.96,64.5"/><line x1="116.66" y1="72.34" x2="116.66" y2="64.5"/><line x1="118" y1="76.85" x2="118" y2="64.5"/><line x1="119.35" y1="82.05" x2="119.35" y2="64.5"/><line x1="120.7" y1="86.98" x2="120.7" y2="64.5"/><line x1="122.05" y1="90.48" x2="122.05" y2="64.5"/><line x1="123.4" y1="91.59" x2="123.4" y2="64.5"/><line x1="124.75" y1="90.87" x2="124.75" y2="64.5"/><line x1="126.1" y1="89.06" x2="126.1" y2="64.5"/><line x1="127.45" y1="86.37" x2="127.45" y2="64.5"/><line x1="128.8" y1="83.13" x2="128.8" y2="64.5"/><line x1="130.15" y1="79.68" x2="130.15" y2="64.5"/><line x1="131.5" y1="76.33" x2="131.5" y2="64.5"/><line x1="132.84" y1="73.31" x2="132.84" y2="64.5"/><line x1="134.19" y1="70.78" x2="134.19" y2="64.5"/><line x1="135.54" y1="68.78" x2="135.54" y2="64.5"/><line x1="136.89" y1="67.29" x2="136.89" y2="64.5"/><line x1="138.24" y1="66.24" x2="138.24" y2="64.5"/><line x1="139.59" y1="65.54" x2="139.59" y2="64.5"/><line x1="140.94" y1="65.09" x2="140.94" y2="64.5"/><line x1="142.29" y1="64.82" x2="142.29" y2="64.5"/><line x1="143.64" y1="64.67" x2="143.64" y2="64.5"/></g>
<polygon points="102.09,63.68 103.84,40.9 106.27,40.9 105.86,63.68" fill="#1f77c4" fill-opacity="0.75" stroke="#1f77c4" stroke-width="0.4"/>
<text class="xl" x="124.75" y="117.4" text-anchor="middle"><tspan>n</tspan><tspan class="sub" dy="1">x</tspan></text>
<text class="yl" transform="translate(47.3,64.25) rotate(-90)" text-anchor="middle">G<tspan class="sub" dy="1">k,k,p</tspan></text>
<g stroke="#f0f0f0" stroke-width="0.6"><line x1="231.66" y1="23.2" x2="231.66" y2="105.4"/><line x1="235.01" y1="23.2" x2="235.01" y2="105.4"/><line x1="238.37" y1="23.2" x2="238.37" y2="105.4"/><line x1="241.72" y1="23.2" x2="241.72" y2="105.4"/><line x1="245.08" y1="23.2" x2="245.08" y2="105.4"/><line x1="248.43" y1="23.2" x2="248.43" y2="105.4"/><line x1="251.78" y1="23.2" x2="251.78" y2="105.4"/><line x1="255.14" y1="23.2" x2="255.14" y2="105.4"/><line x1="258.5" y1="23.2" x2="258.5" y2="105.4"/><line x1="261.85" y1="23.2" x2="261.85" y2="105.4"/><line x1="265.21" y1="23.2" x2="265.21" y2="105.4"/><line x1="268.56" y1="23.2" x2="268.56" y2="105.4"/><line x1="271.92" y1="23.2" x2="271.92" y2="105.4"/><line x1="275.27" y1="23.2" x2="275.27" y2="105.4"/><line x1="278.62" y1="23.2" x2="278.62" y2="105.4"/><line x1="281.98" y1="23.2" x2="281.98" y2="105.4"/><line x1="285.34" y1="23.2" x2="285.34" y2="105.4"/><line x1="288.69" y1="23.2" x2="288.69" y2="105.4"/><line x1="292.05" y1="23.2" x2="292.05" y2="105.4"/><line x1="295.4" y1="23.2" x2="295.4" y2="105.4"/><line x1="298.75" y1="23.2" x2="298.75" y2="105.4"/><line x1="302.11" y1="23.2" x2="302.11" y2="105.4"/><line x1="305.47" y1="23.2" x2="305.47" y2="105.4"/><line x1="308.82" y1="23.2" x2="308.82" y2="105.4"/><line x1="312.18" y1="23.2" x2="312.18" y2="105.4"/><line x1="315.53" y1="23.2" x2="315.53" y2="105.4"/><line x1="318.88" y1="23.2" x2="318.88" y2="105.4"/><line x1="322.24" y1="23.2" x2="322.24" y2="105.4"/><line x1="325.6" y1="23.2" x2="325.6" y2="105.4"/><line x1="328.95" y1="23.2" x2="328.95" y2="105.4"/><line x1="332.31" y1="23.2" x2="332.31" y2="105.4"/><line x1="335.66" y1="23.2" x2="335.66" y2="105.4"/><line x1="339.01" y1="23.2" x2="339.01" y2="105.4"/><line x1="342.37" y1="23.2" x2="342.37" y2="105.4"/><line x1="345.73" y1="23.2" x2="345.73" y2="105.4"/><line x1="349.08" y1="23.2" x2="349.08" y2="105.4"/><line x1="352.44" y1="23.2" x2="352.44" y2="105.4"/><line x1="355.79" y1="23.2" x2="355.79" y2="105.4"/><line x1="359.14" y1="23.2" x2="359.14" y2="105.4"/><line x1="228.3" y1="78.5" x2="362.5" y2="78.5"/><line x1="228.3" y1="51.1" x2="362.5" y2="51.1"/></g>
<rect x="228.3" y="23.2" width="134.2" height="82.2" fill="none" stroke="#d0d0d0" stroke-width="0.6"/>
<g stroke="#d0d0d0" stroke-width="0.5"><line x1="228.3" y1="105.4" x2="228.3" y2="104.1"/><line x1="245.08" y1="105.4" x2="245.08" y2="104.1"/><line x1="261.85" y1="105.4" x2="261.85" y2="104.1"/><line x1="278.62" y1="105.4" x2="278.62" y2="104.1"/><line x1="295.4" y1="105.4" x2="295.4" y2="104.1"/><line x1="312.18" y1="105.4" x2="312.18" y2="104.1"/><line x1="328.95" y1="105.4" x2="328.95" y2="104.1"/><line x1="345.73" y1="105.4" x2="345.73" y2="104.1"/><line x1="362.5" y1="105.4" x2="362.5" y2="104.1"/><line x1="228.3" y1="105.9" x2="229.6" y2="105.9"/><line x1="228.3" y1="78.5" x2="229.6" y2="78.5"/><line x1="228.3" y1="51.1" x2="229.6" y2="51.1"/><line x1="228.3" y1="23.7" x2="229.6" y2="23.7"/></g>
<g class="tl"><text x="228.3" y="111.3" text-anchor="middle">0</text><text x="245.08" y="111.3" text-anchor="middle">10</text><text x="261.85" y="111.3" text-anchor="middle">20</text><text x="278.62" y="111.3" text-anchor="middle">30</text><text x="295.4" y="111.3" text-anchor="middle">40</text><text x="312.18" y="111.3" text-anchor="middle">50</text><text x="328.95" y="111.3" text-anchor="middle">60</text><text x="345.73" y="111.3" text-anchor="middle">70</text><text x="362.5" y="111.3" text-anchor="middle">80</text><text x="226.7" y="107.3" text-anchor="end">-0.5</text><text x="226.7" y="79.9" text-anchor="end">0</text><text x="226.7" y="52.5" text-anchor="end">0.5</text><text x="226.7" y="25.1" text-anchor="end">1</text></g>
<g opacity="0.6"><g fill="none" stroke="#1f77c4" stroke-width="0.9" stroke-linejoin="round"><polyline points="283.66,78.5 285.34,78.5 287.01,78.5 288.69,78.5 290.37,78.5 292.05,78.5"/><polyline points="283.66,78.5 285.34,78.5 287.01,77.24 288.69,77.19 290.37,78.5 292.05,78.5"/><polyline points="283.66,78.5 285.34,78.5 287.01,75.97 288.69,75.89 290.37,78.5 292.05,78.5"/><polyline points="283.66,78.5 285.34,78.5 287.01,74.71 288.69,74.58 290.37,78.5 292.05,78.5"/><polyline points="283.66,78.5 285.34,78.5 287.01,73.44 288.69,73.27 290.37,78.5 292.05,78.5"/><polyline points="283.66,78.5 285.34,78.5 287.01,72.18 288.69,71.97 290.37,78.5 292.05,78.5"/><polyline points="283.66,78.5 285.34,78.5 287.01,70.91 288.69,70.66 290.37,78.5 292.05,78.5"/><polyline points="283.66,78.5 285.34,78.5 287.01,69.65 288.69,69.35 290.37,78.5 292.05,78.5"/><polyline points="283.66,78.5 285.34,78.5 287.01,68.38 288.69,68.05 290.37,78.5 292.05,78.5"/><polyline points="283.66,78.5 285.34,78.5 287.01,67.12 288.69,66.74 290.37,78.5 292.05,78.5"/><polyline points="283.66,78.5 285.34,78.5 287.01,65.85 288.69,65.43 290.37,78.5 292.05,78.5"/><polyline points="283.66,78.5 285.34,78.5 287.01,64.59 288.69,64.13 290.37,78.5 292.05,78.5"/><polyline points="283.66,78.5 285.34,78.5 287.01,63.32 288.69,62.82 290.37,78.5 292.05,78.5"/><polyline points="283.66,78.5 285.34,78.5 287.01,62.06 288.69,61.51 290.37,78.5 292.05,78.5"/><polyline points="283.66,78.5 285.34,78.5 287.01,60.8 288.69,60.21 290.37,78.5 292.05,78.5"/><polyline points="283.66,78.5 285.34,78.5 287.01,59.53 288.69,58.9 290.37,78.5 292.05,78.5"/><polyline points="283.66,78.5 285.34,78.5 287.01,58.27 288.69,57.59 290.37,78.5 292.05,78.5"/><polyline points="283.66,78.5 285.34,78.5 287.01,57 288.69,56.28 290.37,78.5 292.05,78.5"/><polyline points="283.66,78.5 285.34,78.5 287.01,55.74 288.69,54.98 290.37,78.5 292.05,78.5"/><polyline points="283.66,78.5 285.34,78.5 287.01,54.47 288.69,53.67 290.37,78.5 292.05,78.5"/><polyline points="283.66,78.5 285.34,78.5 287.01,53.21 288.69,52.36 290.37,78.5 292.05,78.5"/><polyline points="283.66,78.5 285.34,78.5 287.01,51.94 288.69,51.06 290.37,78.5 292.05,78.5"/><polyline points="283.66,78.5 285.34,78.5 287.01,50.68 288.69,49.75 290.37,78.5 292.05,78.5"/><polyline points="283.66,78.5 285.34,78.5 287.01,49.41 288.69,48.44 290.37,78.5 292.05,78.5"/><polyline points="283.66,78.5 285.34,78.5 287.01,48.15 288.69,47.14 290.37,78.5 292.05,78.5"/><polyline points="283.66,78.5 285.34,78.5 287.01,46.88 288.69,45.83 290.37,78.5 292.05,78.5"/><polyline points="283.66,78.5 285.34,78.5 287.01,45.62 288.69,44.52 290.37,78.5 292.05,78.5"/><line x1="287.01" y1="78.5" x2="287.01" y2="45.62"/><line x1="288.69" y1="78.5" x2="288.69" y2="44.52"/></g></g>
<g fill="none" stroke="#1f77c4" stroke-width="0.9" stroke-linejoin="round"><polyline points="229.98,78.5 231.66,78.5 233.33,78.5 235.01,78.5 236.69,78.5 238.37,78.5 240.04,78.5 241.72,78.5 243.4,78.5 245.08,78.5 246.75,78.5 248.43,78.5 250.11,78.5 251.78,78.5 253.46,78.5 255.14,78.5 256.82,78.5 258.5,78.5 260.17,78.5 261.85,78.5 263.53,78.5 265.21,78.5 266.88,78.5 268.56,78.5 270.24,78.5 271.92,78.5 273.59,78.5 275.27,78.5 276.95,78.5 278.62,78.5 280.3,78.5 281.98,78.5 283.66,78.5 285.34,78.5 287.01,78.5 288.69,78.5 290.37,78.5 292.05,78.5 293.72,78.5 295.4,78.5 297.08,78.5 298.75,78.5 300.43,78.5 302.11,78.5 303.79,78.5 305.47,78.5 307.14,78.5 308.82,78.5 310.5,78.5 312.18,78.5 313.85,78.5 315.53,78.5 317.21,78.5 318.88,78.5 320.56,78.5 322.24,78.5 323.92,78.5 325.6,78.5 327.27,78.5 328.95,78.5 330.63,78.5 332.31,78.5 333.98,78.5 335.66,78.5 337.34,78.5 339.01,78.5 340.69,78.5 342.37,78.5 344.05,78.5 345.73,78.5 347.4,78.5 349.08,78.5 350.76,78.5"/><polyline points="229.98,78.5 231.66,78.5 233.33,78.5 235.01,78.5 236.69,78.5 238.37,78.5 240.04,78.5 241.72,78.5 243.4,78.5 245.08,78.5 246.75,78.5 248.43,78.5 250.11,78.5 251.78,78.5 253.46,78.5 255.14,78.5 256.82,78.5 258.5,78.5 260.17,78.5 261.85,78.5 263.53,78.52 265.21,78.5 266.88,78.5 268.56,78.5 270.24,78.5 271.92,78.5 273.59,78.5 275.27,78.5 276.95,78.5 278.62,78.5 280.3,78.5 281.98,78.5 283.66,78.5 285.34,78.5 287.01,78.5 288.69,78.5 290.37,78.5 292.05,78.5 293.72,78.5 295.4,78.5 297.08,78.5 298.75,78.5 300.43,78.5 302.11,78.5 303.79,78.5 305.47,78.5 307.14,78.5 308.82,78.5 310.5,78.5 312.18,78.5 313.85,78.5 315.53,78.54 317.21,78.56 318.88,78.5 320.56,78.5 322.24,78.5 323.92,78.5 325.6,78.5 327.27,78.5 328.95,78.5 330.63,78.5 332.31,78.5 333.98,78.5 335.66,78.5 337.34,78.5 339.01,78.5 340.69,78.5 342.37,78.5 344.05,78.5 345.73,78.5 347.4,78.5 349.08,78.5 350.76,78.5"/><polyline points="229.98,78.5 231.66,78.5 233.33,78.5 235.01,78.5 236.69,78.5 238.37,78.5 240.04,78.5 241.72,78.5 243.4,78.5 245.08,78.5 246.75,78.5 248.43,78.5 250.11,78.5 251.78,78.5 253.46,78.5 255.14,78.5 256.82,78.5 258.5,78.5 260.17,78.5 261.85,78.5 263.53,78.54 265.21,78.5 266.88,78.5 268.56,78.5 270.24,78.5 271.92,78.5 273.59,78.5 275.27,78.5 276.95,78.5 278.62,78.5 280.3,78.5 281.98,78.5 283.66,78.5 285.34,78.5 287.01,78.5 288.69,78.5 290.37,78.5 292.05,78.5 293.72,78.5 295.4,78.5 297.08,78.5 298.75,78.5 300.43,78.5 302.11,78.5 303.79,78.5 305.47,78.5 307.14,78.5 308.82,78.5 310.5,78.5 312.18,78.5 313.85,78.5 315.53,78.58 317.21,78.63 318.88,78.5 320.56,78.5 322.24,78.5 323.92,78.5 325.6,78.5 327.27,78.5 328.95,78.5 330.63,78.5 332.31,78.5 333.98,78.5 335.66,78.5 337.34,78.5 339.01,78.5 340.69,78.5 342.37,78.5 344.05,78.5 345.73,78.5 347.4,78.5 349.08,78.5 350.76,78.5"/><polyline points="229.98,78.5 231.66,78.5 233.33,78.5 235.01,78.5 236.69,78.5 238.37,78.5 240.04,78.5 241.72,78.5 243.4,78.5 245.08,78.5 246.75,78.5 248.43,78.5 250.11,78.5 251.78,78.5 253.46,78.5 255.14,78.5 256.82,78.5 258.5,78.5 260.17,78.5 261.85,78.5 263.53,78.56 265.21,78.5 266.88,78.5 268.56,78.5 270.24,78.5 271.92,78.5 273.59,78.5 275.27,78.5 276.95,78.5 278.62,78.5 280.3,78.5 281.98,78.5 283.66,78.5 285.34,78.5 287.01,78.5 288.69,78.5 290.37,78.5 292.05,78.5 293.72,78.5 295.4,78.5 297.08,78.5 298.75,78.5 300.43,78.5 302.11,78.5 303.79,78.5 305.47,78.5 307.14,78.5 308.82,78.5 310.5,78.5 312.18,78.5 313.85,78.5 315.53,78.63 317.21,78.69 318.88,78.5 320.56,78.5 322.24,78.5 323.92,78.5 325.6,78.5 327.27,78.5 328.95,78.5 330.63,78.5 332.31,78.5 333.98,78.5 335.66,78.5 337.34,78.5 339.01,78.5 340.69,78.5 342.37,78.5 344.05,78.5 345.73,78.5 347.4,78.5 349.08,78.5 350.76,78.5"/><polyline points="229.98,78.5 231.66,78.5 233.33,78.5 235.01,78.5 236.69,78.5 238.37,78.5 240.04,78.5 241.72,78.5 243.4,78.5 245.08,78.5 246.75,78.5 248.43,78.5 250.11,78.5 251.78,78.5 253.46,78.5 255.14,78.5 256.82,78.5 258.5,78.5 260.17,78.5 261.85,78.5 263.53,78.58 265.21,78.5 266.88,78.5 268.56,78.5 270.24,78.5 271.92,78.5 273.59,78.5 275.27,78.5 276.95,78.5 278.62,78.5 280.3,78.5 281.98,78.5 283.66,78.5 285.34,78.5 287.01,78.5 288.69,78.5 290.37,78.5 292.05,78.5 293.72,78.5 295.4,78.5 297.08,78.5 298.75,78.5 300.43,78.5 302.11,78.5 303.79,78.5 305.47,78.5 307.14,78.5 308.82,78.5 310.5,78.5 312.18,78.5 313.85,78.5 315.53,78.67 317.21,78.75 318.88,78.5 320.56,78.5 322.24,78.5 323.92,78.5 325.6,78.5 327.27,78.5 328.95,78.5 330.63,78.5 332.31,78.5 333.98,78.5 335.66,78.5 337.34,78.5 339.01,78.5 340.69,78.5 342.37,78.5 344.05,78.5 345.73,78.5 347.4,78.5 349.08,78.5 350.76,78.5"/><polyline points="229.98,78.5 231.66,78.5 233.33,78.5 235.01,78.5 236.69,78.5 238.37,78.5 240.04,78.5 241.72,78.5 243.4,78.5 245.08,78.5 246.75,78.5 248.43,78.5 250.11,78.5 251.78,78.5 253.46,78.5 255.14,78.5 256.82,78.5 258.5,78.5 260.17,78.5 261.85,78.5 263.53,78.61 265.21,78.5 266.88,78.5 268.56,78.5 270.24,78.5 271.92,78.5 273.59,78.5 275.27,78.5 276.95,78.5 278.62,78.5 280.3,78.5 281.98,78.5 283.66,78.5 285.34,78.5 287.01,78.5 288.69,78.5 290.37,78.5 292.05,78.5 293.72,78.5 295.4,78.5 297.08,78.5 298.75,78.5 300.43,78.5 302.11,78.5 303.79,78.5 305.47,78.5 307.14,78.5 308.82,78.5 310.5,78.5 312.18,78.5 313.85,78.5 315.53,78.71 317.21,78.82 318.88,78.5 320.56,78.5 322.24,78.5 323.92,78.5 325.6,78.5 327.27,78.5 328.95,78.5 330.63,78.5 332.31,78.5 333.98,78.5 335.66,78.5 337.34,78.5 339.01,78.5 340.69,78.5 342.37,78.5 344.05,78.5 345.73,78.5 347.4,78.5 349.08,78.5 350.76,78.5"/><polyline points="229.98,78.5 231.66,78.5 233.33,78.5 235.01,78.5 236.69,78.5 238.37,78.5 240.04,78.5 241.72,78.5 243.4,78.5 245.08,78.5 246.75,78.5 248.43,78.5 250.11,78.5 251.78,78.5 253.46,78.5 255.14,78.5 256.82,78.5 258.5,78.5 260.17,78.5 261.85,78.5 263.53,78.63 265.21,78.5 266.88,78.5 268.56,78.5 270.24,78.5 271.92,78.5 273.59,78.5 275.27,78.5 276.95,78.5 278.62,78.5 280.3,78.5 281.98,78.5 283.66,78.5 285.34,78.5 287.01,78.5 288.69,78.5 290.37,78.5 292.05,78.5 293.72,78.5 295.4,78.5 297.08,78.5 298.75,78.5 300.43,78.5 302.11,78.5 303.79,78.5 305.47,78.5 307.14,78.5 308.82,78.5 310.5,78.5 312.18,78.5 313.85,78.5 315.53,78.75 317.21,78.88 318.88,78.5 320.56,78.5 322.24,78.5 323.92,78.5 325.6,78.5 327.27,78.5 328.95,78.5 330.63,78.5 332.31,78.5 333.98,78.5 335.66,78.5 337.34,78.5 339.01,78.5 340.69,78.5 342.37,78.5 344.05,78.5 345.73,78.5 347.4,78.5 349.08,78.5 350.76,78.5"/><polyline points="229.98,78.5 231.66,78.5 233.33,78.5 235.01,78.5 236.69,78.5 238.37,78.5 240.04,78.5 241.72,78.5 243.4,78.5 245.08,78.5 246.75,78.5 248.43,78.5 250.11,78.5 251.78,78.5 253.46,78.5 255.14,78.5 256.82,78.5 258.5,78.5 260.17,78.5 261.85,78.5 263.53,78.65 265.21,78.5 266.88,78.5 268.56,78.5 270.24,78.5 271.92,78.5 273.59,78.5 275.27,78.5 276.95,78.5 278.62,78.5 280.3,78.5 281.98,78.5 283.66,78.5 285.34,78.5 287.01,78.5 288.69,78.5 290.37,78.5 292.05,78.5 293.72,78.5 295.4,78.5 297.08,78.5 298.75,78.5 300.43,78.5 302.11,78.5 303.79,78.5 305.47,78.5 307.14,78.5 308.82,78.5 310.5,78.5 312.18,78.5 313.85,78.5 315.53,78.8 317.21,78.94 318.88,78.5 320.56,78.5 322.24,78.5 323.92,78.5 325.6,78.5 327.27,78.5 328.95,78.5 330.63,78.5 332.31,78.5 333.98,78.5 335.66,78.5 337.34,78.5 339.01,78.5 340.69,78.5 342.37,78.5 344.05,78.5 345.73,78.5 347.4,78.5 349.08,78.5 350.76,78.5"/><polyline points="229.98,78.5 231.66,78.5 233.33,78.5 235.01,78.5 236.69,78.5 238.37,78.5 240.04,78.5 241.72,78.5 243.4,78.5 245.08,78.5 246.75,78.5 248.43,78.5 250.11,78.5 251.78,78.5 253.46,78.5 255.14,78.5 256.82,78.5 258.5,78.5 260.17,78.5 261.85,78.5 263.53,78.67 265.21,78.5 266.88,78.5 268.56,78.5 270.24,78.5 271.92,78.5 273.59,78.5 275.27,78.5 276.95,78.5 278.62,78.5 280.3,78.5 281.98,78.5 283.66,78.5 285.34,78.5 287.01,78.5 288.69,78.5 290.37,78.5 292.05,78.5 293.72,78.5 295.4,78.5 297.08,78.5 298.75,78.5 300.43,78.5 302.11,78.5 303.79,78.5 305.47,78.5 307.14,78.5 308.82,78.5 310.5,78.5 312.18,78.5 313.85,78.5 315.53,78.84 317.21,79.01 318.88,78.5 320.56,78.5 322.24,78.5 323.92,78.5 325.6,78.5 327.27,78.5 328.95,78.5 330.63,78.5 332.31,78.5 333.98,78.5 335.66,78.5 337.34,78.5 339.01,78.5 340.69,78.5 342.37,78.5 344.05,78.5 345.73,78.5 347.4,78.5 349.08,78.5 350.76,78.5"/><polyline points="229.98,78.5 231.66,78.5 233.33,78.5 235.01,78.5 236.69,78.5 238.37,78.5 240.04,78.5 241.72,78.5 243.4,78.5 245.08,78.5 246.75,78.5 248.43,78.5 250.11,78.5 251.78,78.5 253.46,78.5 255.14,78.5 256.82,78.5 258.5,78.5 260.17,78.5 261.85,78.5 263.53,78.69 265.21,78.5 266.88,78.5 268.56,78.5 270.24,78.5 271.92,78.5 273.59,78.5 275.27,78.5 276.95,78.5 278.62,78.5 280.3,78.5 281.98,78.5 283.66,78.5 285.34,78.5 287.01,78.5 288.69,78.5 290.37,78.5 292.05,78.5 293.72,78.5 295.4,78.5 297.08,78.5 298.75,78.5 300.43,78.5 302.11,78.5 303.79,78.5 305.47,78.5 307.14,78.5 308.82,78.5 310.5,78.5 312.18,78.5 313.85,78.5 315.53,78.88 317.21,79.07 318.88,78.5 320.56,78.5 322.24,78.5 323.92,78.5 325.6,78.5 327.27,78.5 328.95,78.5 330.63,78.5 332.31,78.5 333.98,78.5 335.66,78.5 337.34,78.5 339.01,78.5 340.69,78.5 342.37,78.5 344.05,78.5 345.73,78.5 347.4,78.5 349.08,78.5 350.76,78.5"/><polyline points="229.98,78.5 231.66,78.5 233.33,78.5 235.01,78.5 236.69,78.5 238.37,78.5 240.04,78.5 241.72,78.5 243.4,78.5 245.08,78.5 246.75,78.5 248.43,78.5 250.11,78.5 251.78,78.5 253.46,78.5 255.14,78.5 256.82,78.5 258.5,78.5 260.17,78.5 261.85,78.5 263.53,78.71 265.21,78.5 266.88,78.5 268.56,78.5 270.24,78.5 271.92,78.5 273.59,78.5 275.27,78.5 276.95,78.5 278.62,78.5 280.3,78.5 281.98,78.5 283.66,78.5 285.34,78.5 287.01,78.5 288.69,78.5 290.37,78.5 292.05,78.5 293.72,78.5 295.4,78.5 297.08,78.5 298.75,78.5 300.43,78.5 302.11,78.5 303.79,78.5 305.47,78.5 307.14,78.5 308.82,78.5 310.5,78.5 312.18,78.5 313.85,78.5 315.53,78.92 317.21,79.13 318.88,78.5 320.56,78.5 322.24,78.5 323.92,78.5 325.6,78.5 327.27,78.5 328.95,78.5 330.63,78.5 332.31,78.5 333.98,78.5 335.66,78.5 337.34,78.5 339.01,78.5 340.69,78.5 342.37,78.5 344.05,78.5 345.73,78.5 347.4,78.5 349.08,78.5 350.76,78.5"/><polyline points="229.98,78.5 231.66,78.5 233.33,78.5 235.01,78.5 236.69,78.5 238.37,78.5 240.04,78.5 241.72,78.5 243.4,78.5 245.08,78.5 246.75,78.5 248.43,78.5 250.11,78.5 251.78,78.5 253.46,78.5 255.14,78.5 256.82,78.5 258.5,78.5 260.17,78.5 261.85,78.5 263.53,78.73 265.21,78.5 266.88,78.5 268.56,78.5 270.24,78.5 271.92,78.5 273.59,78.5 275.27,78.5 276.95,78.5 278.62,78.5 280.3,78.5 281.98,78.5 283.66,78.5 285.34,78.5 287.01,78.5 288.69,78.5 290.37,78.5 292.05,78.5 293.72,78.5 295.4,78.5 297.08,78.5 298.75,78.5 300.43,78.5 302.11,78.5 303.79,78.5 305.47,78.5 307.14,78.5 308.82,78.5 310.5,78.5 312.18,78.5 313.85,78.5 315.53,78.96 317.21,79.2 318.88,78.5 320.56,78.5 322.24,78.5 323.92,78.5 325.6,78.5 327.27,78.5 328.95,78.5 330.63,78.5 332.31,78.5 333.98,78.5 335.66,78.5 337.34,78.5 339.01,78.5 340.69,78.5 342.37,78.5 344.05,78.5 345.73,78.5 347.4,78.5 349.08,78.5 350.76,78.5"/><polyline points="229.98,78.5 231.66,78.5 233.33,78.5 235.01,78.5 236.69,78.5 238.37,78.5 240.04,78.5 241.72,78.5 243.4,78.5 245.08,78.5 246.75,78.5 248.43,78.5 250.11,78.5 251.78,78.5 253.46,78.5 255.14,78.5 256.82,78.5 258.5,78.5 260.17,78.5 261.85,78.5 263.53,78.75 265.21,78.5 266.88,78.5 268.56,78.5 270.24,78.5 271.92,78.5 273.59,78.5 275.27,78.5 276.95,78.5 278.62,78.5 280.3,78.5 281.98,78.5 283.66,78.5 285.34,78.5 287.01,78.5 288.69,78.5 290.37,78.5 292.05,78.5 293.72,78.5 295.4,78.5 297.08,78.5 298.75,78.5 300.43,78.5 302.11,78.5 303.79,78.5 305.47,78.5 307.14,78.5 308.82,78.5 310.5,78.5 312.18,78.5 313.85,78.5 315.53,79.01 317.21,79.26 318.88,78.5 320.56,78.5 322.24,78.5 323.92,78.5 325.6,78.5 327.27,78.5 328.95,78.5 330.63,78.5 332.31,78.5 333.98,78.5 335.66,78.5 337.34,78.5 339.01,78.5 340.69,78.5 342.37,78.5 344.05,78.5 345.73,78.5 347.4,78.5 349.08,78.5 350.76,78.5"/><polyline points="229.98,78.5 231.66,78.5 233.33,78.5 235.01,78.5 236.69,78.5 238.37,78.5 240.04,78.5 241.72,78.5 243.4,78.5 245.08,78.5 246.75,78.5 248.43,78.5 250.11,78.5 251.78,78.5 253.46,78.5 255.14,78.5 256.82,78.5 258.5,78.5 260.17,78.5 261.85,78.5 263.53,78.77 265.21,78.5 266.88,78.5 268.56,78.5 270.24,78.5 271.92,78.5 273.59,78.5 275.27,78.5 276.95,78.5 278.62,78.5 280.3,78.5 281.98,78.5 283.66,78.5 285.34,78.5 287.01,78.5 288.69,78.5 290.37,78.5 292.05,78.5 293.72,78.5 295.4,78.5 297.08,78.5 298.75,78.5 300.43,78.5 302.11,78.5 303.79,78.5 305.47,78.5 307.14,78.5 308.82,78.5 310.5,78.5 312.18,78.5 313.85,78.5 315.53,79.05 317.21,79.32 318.88,78.5 320.56,78.5 322.24,78.5 323.92,78.5 325.6,78.5 327.27,78.5 328.95,78.5 330.63,78.5 332.31,78.5 333.98,78.5 335.66,78.5 337.34,78.5 339.01,78.5 340.69,78.5 342.37,78.5 344.05,78.5 345.73,78.5 347.4,78.5 349.08,78.5 350.76,78.5"/><polyline points="229.98,78.5 231.66,78.5 233.33,78.5 235.01,78.5 236.69,78.5 238.37,78.5 240.04,78.5 241.72,78.5 243.4,78.5 245.08,78.5 246.75,78.5 248.43,78.5 250.11,78.5 251.78,78.5 253.46,78.5 255.14,78.5 256.82,78.5 258.5,78.5 260.17,78.5 261.85,78.5 263.53,78.8 265.21,78.5 266.88,78.5 268.56,78.5 270.24,78.5 271.92,78.5 273.59,78.5 275.27,78.5 276.95,78.5 278.62,78.5 280.3,78.5 281.98,78.5 283.66,78.5 285.34,78.5 287.01,78.5 288.69,78.5 290.37,78.5 292.05,78.5 293.72,78.5 295.4,78.5 297.08,78.5 298.75,78.5 300.43,78.5 302.11,78.5 303.79,78.5 305.47,78.5 307.14,78.5 308.82,78.5 310.5,78.5 312.18,78.5 313.85,78.5 315.53,79.09 317.21,79.39 318.88,78.5 320.56,78.5 322.24,78.5 323.92,78.5 325.6,78.5 327.27,78.5 328.95,78.5 330.63,78.5 332.31,78.5 333.98,78.5 335.66,78.5 337.34,78.5 339.01,78.5 340.69,78.5 342.37,78.5 344.05,78.5 345.73,78.5 347.4,78.5 349.08,78.5 350.76,78.5"/><polyline points="229.98,78.5 231.66,78.5 233.33,78.5 235.01,78.5 236.69,78.5 238.37,78.5 240.04,78.5 241.72,78.5 243.4,78.5 245.08,78.5 246.75,78.5 248.43,78.5 250.11,78.5 251.78,78.5 253.46,78.5 255.14,78.5 256.82,78.5 258.5,78.5 260.17,78.5 261.85,78.5 263.53,78.82 265.21,78.5 266.88,78.5 268.56,78.5 270.24,78.5 271.92,78.5 273.59,78.5 275.27,78.5 276.95,78.5 278.62,78.5 280.3,78.5 281.98,78.5 283.66,78.5 285.34,78.5 287.01,78.5 288.69,78.5 290.37,78.5 292.05,78.5 293.72,78.5 295.4,78.5 297.08,78.5 298.75,78.5 300.43,78.5 302.11,78.5 303.79,78.5 305.47,78.5 307.14,78.5 308.82,78.5 310.5,78.5 312.18,78.5 313.85,78.5 315.53,79.13 317.21,79.45 318.88,78.5 320.56,78.5 322.24,78.5 323.92,78.5 325.6,78.5 327.27,78.5 328.95,78.5 330.63,78.5 332.31,78.5 333.98,78.5 335.66,78.5 337.34,78.5 339.01,78.5 340.69,78.5 342.37,78.5 344.05,78.5 345.73,78.5 347.4,78.5 349.08,78.5 350.76,78.5"/><polyline points="229.98,78.5 231.66,78.5 233.33,78.5 235.01,78.5 236.69,78.5 238.37,78.5 240.04,78.5 241.72,78.5 243.4,78.5 245.08,78.5 246.75,78.5 248.43,78.5 250.11,78.5 251.78,78.5 253.46,78.5 255.14,78.5 256.82,78.5 258.5,78.5 260.17,78.5 261.85,78.5 263.53,78.84 265.21,78.5 266.88,78.5 268.56,78.5 270.24,78.5 271.92,78.5 273.59,78.5 275.27,78.5 276.95,78.5 278.62,78.5 280.3,78.5 281.98,78.5 283.66,78.5 285.34,78.5 287.01,78.5 288.69,78.5 290.37,78.5 292.05,78.5 293.72,78.5 295.4,78.5 297.08,78.5 298.75,78.5 300.43,78.5 302.11,78.5 303.79,78.5 305.47,78.5 307.14,78.5 308.82,78.5 310.5,78.5 312.18,78.5 313.85,78.5 315.53,79.17 317.21,79.51 318.88,78.5 320.56,78.5 322.24,78.5 323.92,78.5 325.6,78.5 327.27,78.5 328.95,78.5 330.63,78.5 332.31,78.5 333.98,78.5 335.66,78.5 337.34,78.5 339.01,78.5 340.69,78.5 342.37,78.5 344.05,78.5 345.73,78.5 347.4,78.5 349.08,78.5 350.76,78.5"/><polyline points="229.98,78.5 231.66,78.5 233.33,78.5 235.01,78.5 236.69,78.5 238.37,78.5 240.04,78.5 241.72,78.5 243.4,78.5 245.08,78.5 246.75,78.5 248.43,78.5 250.11,78.5 251.78,78.5 253.46,78.5 255.14,78.5 256.82,78.5 258.5,78.5 260.17,78.5 261.85,78.5 263.53,78.86 265.21,78.5 266.88,78.5 268.56,78.5 270.24,78.5 271.92,78.5 273.59,78.5 275.27,78.5 276.95,78.5 278.62,78.5 280.3,78.5 281.98,78.5 283.66,78.5 285.34,78.5 287.01,78.5 288.69,78.5 290.37,78.5 292.05,78.5 293.72,78.5 295.4,78.5 297.08,78.5 298.75,78.5 300.43,78.5 302.11,78.5 303.79,78.5 305.47,78.5 307.14,78.5 308.82,78.5 310.5,78.5 312.18,78.5 313.85,78.5 315.53,79.22 317.21,79.57 318.88,78.5 320.56,78.5 322.24,78.5 323.92,78.5 325.6,78.5 327.27,78.5 328.95,78.5 330.63,78.5 332.31,78.5 333.98,78.5 335.66,78.5 337.34,78.5 339.01,78.5 340.69,78.5 342.37,78.5 344.05,78.5 345.73,78.5 347.4,78.5 349.08,78.5 350.76,78.5"/><polyline points="229.98,78.5 231.66,78.5 233.33,78.5 235.01,78.5 236.69,78.5 238.37,78.5 240.04,78.5 241.72,78.5 243.4,78.5 245.08,78.5 246.75,78.5 248.43,78.5 250.11,78.5 251.78,78.5 253.46,78.5 255.14,78.5 256.82,78.5 258.5,78.5 260.17,78.5 261.85,78.5 263.53,78.88 265.21,78.5 266.88,78.5 268.56,78.5 270.24,78.5 271.92,78.5 273.59,78.5 275.27,78.5 276.95,78.5 278.62,78.5 280.3,78.5 281.98,78.5 283.66,78.5 285.34,78.5 287.01,78.5 288.69,78.5 290.37,78.5 292.05,78.5 293.72,78.5 295.4,78.5 297.08,78.5 298.75,78.5 300.43,78.5 302.11,78.5 303.79,78.5 305.47,78.5 307.14,78.5 308.82,78.5 310.5,78.5 312.18,78.5 313.85,78.5 315.53,79.26 317.21,79.64 318.88,78.5 320.56,78.5 322.24,78.5 323.92,78.5 325.6,78.5 327.27,78.5 328.95,78.5 330.63,78.5 332.31,78.5 333.98,78.5 335.66,78.5 337.34,78.5 339.01,78.5 340.69,78.5 342.37,78.5 344.05,78.5 345.73,78.5 347.4,78.5 349.08,78.5 350.76,78.5"/><polyline points="229.98,78.5 231.66,78.5 233.33,78.5 235.01,78.5 236.69,78.5 238.37,78.5 240.04,78.5 241.72,78.5 243.4,78.5 245.08,78.5 246.75,78.5 248.43,78.5 250.11,78.5 251.78,78.5 253.46,78.5 255.14,78.5 256.82,78.5 258.5,78.5 260.17,78.5 261.85,78.5 263.53,78.9 265.21,78.5 266.88,78.5 268.56,78.5 270.24,78.5 271.92,78.5 273.59,78.5 275.27,78.5 276.95,78.5 278.62,78.5 280.3,78.5 281.98,78.5 283.66,78.5 285.34,78.5 287.01,78.5 288.69,78.5 290.37,78.5 292.05,78.5 293.72,78.5 295.4,78.5 297.08,78.5 298.75,78.5 300.43,78.5 302.11,78.5 303.79,78.5 305.47,78.5 307.14,78.5 308.82,78.5 310.5,78.5 312.18,78.5 313.85,78.5 315.53,79.3 317.21,79.7 318.88,78.5 320.56,78.5 322.24,78.5 323.92,78.5 325.6,78.5 327.27,78.5 328.95,78.5 330.63,78.5 332.31,78.5 333.98,78.5 335.66,78.5 337.34,78.5 339.01,78.5 340.69,78.5 342.37,78.5 344.05,78.5 345.73,78.5 347.4,78.5 349.08,78.5 350.76,78.5"/><polyline points="229.98,78.5 231.66,78.5 233.33,78.5 235.01,78.5 236.69,78.5 238.37,78.5 240.04,78.5 241.72,78.5 243.4,78.5 245.08,78.5 246.75,78.5 248.43,78.5 250.11,78.5 251.78,78.5 253.46,78.5 255.14,78.5 256.82,78.5 258.5,78.5 260.17,78.5 261.85,78.5 263.53,78.92 265.21,78.5 266.88,78.5 268.56,78.5 270.24,78.5 271.92,78.5 273.59,78.5 275.27,78.5 276.95,78.5 278.62,78.5 280.3,78.5 281.98,78.5 283.66,78.5 285.34,78.5 287.01,78.5 288.69,78.5 290.37,78.5 292.05,78.5 293.72,78.5 295.4,78.5 297.08,78.5 298.75,78.5 300.43,78.5 302.11,78.5 303.79,78.5 305.47,78.5 307.14,78.5 308.82,78.5 310.5,78.5 312.18,78.5 313.85,78.5 315.53,79.34 317.21,79.76 318.88,78.5 320.56,78.5 322.24,78.5 323.92,78.5 325.6,78.5 327.27,78.5 328.95,78.5 330.63,78.5 332.31,78.5 333.98,78.5 335.66,78.5 337.34,78.5 339.01,78.5 340.69,78.5 342.37,78.5 344.05,78.5 345.73,78.5 347.4,78.5 349.08,78.5 350.76,78.5"/><polyline points="229.98,78.5 231.66,78.5 233.33,78.5 235.01,78.5 236.69,78.5 238.37,78.5 240.04,78.5 241.72,78.5 243.4,78.5 245.08,78.5 246.75,78.5 248.43,78.5 250.11,78.5 251.78,78.5 253.46,78.5 255.14,78.5 256.82,78.5 258.5,78.5 260.17,78.5 261.85,78.5 263.53,78.94 265.21,78.5 266.88,78.5 268.56,78.5 270.24,78.5 271.92,78.5 273.59,78.5 275.27,78.5 276.95,78.5 278.62,78.5 280.3,78.5 281.98,78.5 283.66,78.5 285.34,78.5 287.01,78.5 288.69,78.5 290.37,78.5 292.05,78.5 293.72,78.5 295.4,78.5 297.08,78.5 298.75,78.5 300.43,78.5 302.11,78.5 303.79,78.5 305.47,78.5 307.14,78.5 308.82,78.5 310.5,78.5 312.18,78.5 313.85,78.5 315.53,79.39 317.21,79.83 318.88,78.5 320.56,78.5 322.24,78.5 323.92,78.5 325.6,78.5 327.27,78.5 328.95,78.5 330.63,78.5 332.31,78.5 333.98,78.5 335.66,78.5 337.34,78.5 339.01,78.5 340.69,78.5 342.37,78.5 344.05,78.5 345.73,78.5 347.4,78.5 349.08,78.5 350.76,78.5"/><polyline points="229.98,78.5 231.66,78.5 233.33,78.5 235.01,78.5 236.69,78.5 238.37,78.5 240.04,78.5 241.72,78.5 243.4,78.5 245.08,78.5 246.75,78.5 248.43,78.5 250.11,78.5 251.78,78.5 253.46,78.5 255.14,78.5 256.82,78.5 258.5,78.5 260.17,78.5 261.85,78.5 263.53,78.96 265.21,78.5 266.88,78.5 268.56,78.5 270.24,78.5 271.92,78.5 273.59,78.5 275.27,78.5 276.95,78.5 278.62,78.5 280.3,78.5 281.98,78.5 283.66,78.5 285.34,78.5 287.01,78.5 288.69,78.5 290.37,78.5 292.05,78.5 293.72,78.5 295.4,78.5 297.08,78.5 298.75,78.5 300.43,78.5 302.11,78.5 303.79,78.5 305.47,78.5 307.14,78.5 308.82,78.5 310.5,78.5 312.18,78.5 313.85,78.5 315.53,79.43 317.21,79.89 318.88,78.5 320.56,78.5 322.24,78.5 323.92,78.5 325.6,78.5 327.27,78.5 328.95,78.5 330.63,78.5 332.31,78.5 333.98,78.5 335.66,78.5 337.34,78.5 339.01,78.5 340.69,78.5 342.37,78.5 344.05,78.5 345.73,78.5 347.4,78.5 349.08,78.5 350.76,78.5"/><polyline points="229.98,78.5 231.66,78.5 233.33,78.5 235.01,78.5 236.69,78.5 238.37,78.5 240.04,78.5 241.72,78.5 243.4,78.5 245.08,78.5 246.75,78.5 248.43,78.5 250.11,78.5 251.78,78.5 253.46,78.5 255.14,78.5 256.82,78.5 258.5,78.5 260.17,78.5 261.85,78.5 263.53,78.98 265.21,78.5 266.88,78.5 268.56,78.5 270.24,78.5 271.92,78.5 273.59,78.5 275.27,78.5 276.95,78.5 278.62,78.5 280.3,78.5 281.98,78.5 283.66,78.5 285.34,78.5 287.01,78.5 288.69,78.5 290.37,78.5 292.05,78.5 293.72,78.5 295.4,78.5 297.08,78.5 298.75,78.5 300.43,78.5 302.11,78.5 303.79,78.5 305.47,78.5 307.14,78.5 308.82,78.5 310.5,78.5 312.18,78.5 313.85,78.5 315.53,79.47 317.21,79.95 318.88,78.5 320.56,78.5 322.24,78.5 323.92,78.5 325.6,78.5 327.27,78.5 328.95,78.5 330.63,78.5 332.31,78.5 333.98,78.5 335.66,78.5 337.34,78.5 339.01,78.5 340.69,78.5 342.37,78.5 344.05,78.5 345.73,78.5 347.4,78.5 349.08,78.5 350.76,78.5"/><polyline points="229.98,78.5 231.66,78.5 233.33,78.5 235.01,78.5 236.69,78.5 238.37,78.5 240.04,78.5 241.72,78.5 243.4,78.5 245.08,78.5 246.75,78.5 248.43,78.5 250.11,78.5 251.78,78.5 253.46,78.5 255.14,78.5 256.82,78.5 258.5,78.5 260.17,78.5 261.85,78.5 263.53,79.01 265.21,78.5 266.88,78.5 268.56,78.5 270.24,78.5 271.92,78.5 273.59,78.5 275.27,78.5 276.95,78.5 278.62,78.5 280.3,78.5 281.98,78.5 283.66,78.5 285.34,78.5 287.01,78.5 288.69,78.5 290.37,78.5 292.05,78.5 293.72,78.5 295.4,78.5 297.08,78.5 298.75,78.5 300.43,78.5 302.11,78.5 303.79,78.5 305.47,78.5 307.14,78.5 308.82,78.5 310.5,78.5 312.18,78.5 313.85,78.5 315.53,79.51 317.21,80.02 318.88,78.5 320.56,78.5 322.24,78.5 323.92,78.5 325.6,78.5 327.27,78.5 328.95,78.5 330.63,78.5 332.31,78.5 333.98,78.5 335.66,78.5 337.34,78.5 339.01,78.5 340.69,78.5 342.37,78.5 344.05,78.5 345.73,78.5 347.4,78.5 349.08,78.5 350.76,78.5"/><polyline points="229.98,78.5 231.66,78.5 233.33,78.5 235.01,78.5 236.69,78.5 238.37,78.5 240.04,78.5 241.72,78.5 243.4,78.5 245.08,78.5 246.75,78.5 248.43,78.5 250.11,78.5 251.78,78.5 253.46,78.5 255.14,78.5 256.82,78.5 258.5,78.5 260.17,78.5 261.85,78.5 263.53,79.03 265.21,78.5 266.88,78.5 268.56,78.5 270.24,78.5 271.92,78.5 273.59,78.5 275.27,78.5 276.95,78.5 278.62,78.5 280.3,78.5 281.98,78.5 283.66,78.5 285.34,78.5 287.01,78.5 288.69,78.5 290.37,78.5 292.05,78.5 293.72,78.5 295.4,78.5 297.08,78.5 298.75,78.5 300.43,78.5 302.11,78.5 303.79,78.5 305.47,78.5 307.14,78.5 308.82,78.5 310.5,78.5 312.18,78.5 313.85,78.5 315.53,79.55 317.21,80.08 318.88,78.5 320.56,78.5 322.24,78.5 323.92,78.5 325.6,78.5 327.27,78.5 328.95,78.5 330.63,78.5 332.31,78.5 333.98,78.5 335.66,78.5 337.34,78.5 339.01,78.5 340.69,78.5 342.37,78.5 344.05,78.5 345.73,78.5 347.4,78.5 349.08,78.5 350.76,78.5"/><polyline points="229.98,78.5 231.66,78.5 233.33,78.5 235.01,78.5 236.69,78.5 238.37,78.5 240.04,78.5 241.72,78.5 243.4,78.5 245.08,78.5 246.75,78.5 248.43,78.5 250.11,78.5 251.78,78.5 253.46,78.5 255.14,78.5 256.82,78.5 258.5,78.5 260.17,78.5 261.85,78.5 263.53,79.05 265.21,78.5 266.88,78.5 268.56,78.5 270.24,78.5 271.92,78.5 273.59,78.5 275.27,78.5 276.95,78.5 278.62,78.5 280.3,78.5 281.98,78.5 283.66,78.5 285.34,78.5 287.01,78.5 288.69,78.5 290.37,78.5 292.05,78.5 293.72,78.5 295.4,78.5 297.08,78.5 298.75,78.5 300.43,78.5 302.11,78.5 303.79,78.5 305.47,78.5 307.14,78.5 308.82,78.5 310.5,78.5 312.18,78.5 313.85,78.5 315.53,79.6 317.21,80.14 318.88,78.5 320.56,78.5 322.24,78.5 323.92,78.5 325.6,78.5 327.27,78.5 328.95,78.5 330.63,78.5 332.31,78.5 333.98,78.5 335.66,78.5 337.34,78.5 339.01,78.5 340.69,78.5 342.37,78.5 344.05,78.5 345.73,78.5 347.4,78.5 349.08,78.5 350.76,78.5"/><line x1="263.53" y1="79.05" x2="263.53" y2="78.5"/><line x1="315.53" y1="79.6" x2="315.53" y2="78.5"/><line x1="317.21" y1="80.14" x2="317.21" y2="78.5"/></g><g fill="none" stroke="#f0141e" stroke-width="1.05" stroke-linejoin="round"><polyline points="245.08,78.5 245.91,78.5 246.75,78.5 247.59,78.5 248.43,78.5 249.27,78.5 250.11,78.5 250.95,78.5 251.78,78.5 252.62,78.5 253.46,78.5 254.3,78.5 255.14,78.5 255.98,78.5 256.82,78.5 257.66,78.5 258.5,78.5 259.33,78.5 260.17,78.5 261.01,78.5 261.85,78.5 262.69,78.5 263.53,78.5 264.37,78.5 265.21,78.5 266.04,78.5 266.88,78.5 267.72,78.5 268.56,78.5 269.4,78.5 270.24,78.5 271.08,78.5 271.92,78.5 272.75,78.5 273.59,78.5 274.43,78.5 275.27,78.5 276.11,78.5 276.95,78.5 277.79,78.5 278.62,78.5 279.46,78.5 280.3,78.5 281.14,78.5 281.98,78.5 282.82,78.5 283.66,78.5 284.5,78.5 285.34,78.5 286.17,78.5 287.01,78.5 287.85,78.5 288.69,78.5 289.53,78.5 290.37,78.5 291.21,78.5 292.05,78.5 292.88,78.5 293.72,78.5 294.56,78.5 295.4,78.5 296.24,78.5 297.08,78.5 297.92,78.5 298.75,78.5 299.59,78.5 300.43,78.5 301.27,78.5 302.11,78.5 302.95,78.5 303.79,78.5 304.63,78.5 305.47,78.5 306.3,78.5 307.14,78.5 307.98,78.5 308.82,78.5 309.66,78.5 310.5,78.5 311.34,78.5 312.18,78.5 313.01,78.5 313.85,78.5 314.69,78.5 315.53,78.5 316.37,78.5 317.21,78.5 318.05,78.5 318.88,78.5 319.72,78.5 320.56,78.5 321.4,78.5 322.24,78.5 323.08,78.5 323.92,78.5 324.76,78.5 325.6,78.5 326.43,78.5 327.27,78.5 328.11,78.5 328.95,78.5 329.79,78.5 330.63,78.5 331.47,78.5 332.31,78.5 333.14,78.5 333.98,78.5 334.82,78.5 335.66,78.5"/><polyline points="245.08,78.49 245.91,78.49 246.75,78.48 247.59,78.48 248.43,78.47 249.27,78.46 250.11,78.45 250.95,78.43 251.78,78.41 252.62,78.38 253.46,78.34 254.3,78.3 255.14,78.24 255.98,78.16 256.82,78.06 257.66,77.95 258.5,77.8 259.33,77.62 260.17,77.4 261.01,77.18 261.85,77.14 262.69,77.1 263.53,77.06 264.37,77.01 265.21,76.97 266.04,76.93 266.88,76.89 267.72,76.85 268.56,76.81 269.4,76.77 270.24,76.73 271.08,76.7 271.92,76.66 272.75,76.62 273.59,76.59 274.43,76.55 275.27,76.52 276.11,76.49 276.95,76.46 277.79,76.43 278.62,76.41 279.46,76.38 280.3,76.36 281.14,76.33 281.98,76.31 282.82,76.3 283.66,76.28 284.5,76.26 285.34,76.25 286.17,76.24 287.01,76.23 287.85,76.22 288.69,76.22 289.53,76.22 290.37,76.22 291.21,76.22 292.05,76.22 292.88,76.23 293.72,76.23 294.56,76.24 295.4,76.26 296.24,76.27 297.08,76.29 297.92,76.3 298.75,76.32 299.59,76.34 300.43,76.37 301.27,76.39 302.11,76.42 302.95,76.44 303.79,76.47 304.63,76.5 305.47,76.54 306.3,76.57 307.14,76.6 307.98,76.64 308.82,76.67 309.66,76.71 310.5,76.75 311.34,76.79 312.18,76.83 313.01,76.87 313.85,76.91 314.69,76.95 315.53,76.99 316.37,77.03 317.21,77.07 318.05,77.11 318.88,77.16 319.72,77.25 320.56,77.5 321.4,77.7 322.24,77.86 323.08,78 323.92,78.1 324.76,78.19 325.6,78.26 326.43,78.32 327.27,78.36 328.11,78.39 328.95,78.42 329.79,78.44 330.63,78.45 331.47,78.47 332.31,78.47 333.14,78.48 333.98,78.49 334.82,78.49 335.66,78.49"/><polyline points="245.08,78.49 245.91,78.49 246.75,78.48 247.59,78.48 248.43,78.47 249.27,78.46 250.11,78.45 250.95,78.43 251.78,78.41 252.62,78.38 253.46,78.34 254.3,78.3 255.14,78.24 255.98,78.16 256.82,78.06 257.66,77.95 258.5,77.8 259.33,77.62 260.17,77.4 261.01,77.14 261.85,76.82 262.69,76.44 263.53,76.22 264.37,76.12 265.21,76.02 266.04,75.92 266.88,75.81 267.72,75.71 268.56,75.61 269.4,75.51 270.24,75.41 271.08,75.31 271.92,75.21 272.75,75.11 273.59,75.01 274.43,74.92 275.27,74.83 276.11,74.74 276.95,74.65 277.79,74.57 278.62,74.49 279.46,74.42 280.3,74.35 281.14,74.29 281.98,74.22 282.82,74.17 283.66,74.12 284.5,74.08 285.34,74.04 286.17,74.01 287.01,73.98 287.85,73.96 288.69,73.94 289.53,73.94 290.37,73.93 291.21,73.94 292.05,73.95 292.88,73.97 293.72,73.99 294.56,74.02 295.4,74.05 296.24,74.09 297.08,74.14 297.92,74.19 298.75,74.25 299.59,74.31 300.43,74.38 301.27,74.45 302.11,74.52 302.95,74.6 303.79,74.69 304.63,74.77 305.47,74.86 306.3,74.96 307.14,75.05 307.98,75.15 308.82,75.25 309.66,75.35 310.5,75.45 311.34,75.55 312.18,75.65 313.01,75.75 313.85,75.86 314.69,75.96 315.53,76.06 316.37,76.16 317.21,76.26 318.05,76.6 318.88,76.96 319.72,77.25 320.56,77.5 321.4,77.7 322.24,77.86 323.08,78 323.92,78.1 324.76,78.19 325.6,78.26 326.43,78.32 327.27,78.36 328.11,78.39 328.95,78.42 329.79,78.44 330.63,78.45 331.47,78.47 332.31,78.47 333.14,78.48 333.98,78.49 334.82,78.49 335.66,78.49"/><polyline points="245.08,78.49 245.91,78.49 246.75,78.48 247.59,78.48 248.43,78.47 249.27,78.46 250.11,78.45 250.95,78.43 251.78,78.41 252.62,78.38 253.46,78.34 254.3,78.3 255.14,78.24 255.98,78.16 256.82,78.06 257.66,77.95 258.5,77.8 259.33,77.62 260.17,77.4 261.01,77.14 261.85,76.82 262.69,76.44 263.53,76 264.37,75.52 265.21,75.35 266.04,75.19 266.88,75.02 267.72,74.85 268.56,74.68 269.4,74.5 270.24,74.33 271.08,74.16 271.92,73.98 272.75,73.81 273.59,73.64 274.43,73.47 275.27,73.31 276.11,73.15 276.95,73 277.79,72.85 278.62,72.7 279.46,72.57 280.3,72.44 281.14,72.32 281.98,72.2 282.82,72.1 283.66,72.01 284.5,71.92 285.34,71.85 286.17,71.79 287.01,71.74 287.85,71.7 288.69,71.67 289.53,71.65 290.37,71.65 291.21,71.66 292.05,71.68 292.88,71.71 293.72,71.76 294.56,71.81 295.4,71.88 296.24,71.95 297.08,72.04 297.92,72.14 298.75,72.25 299.59,72.36 300.43,72.49 301.27,72.62 302.11,72.76 302.95,72.91 303.79,73.06 304.63,73.21 305.47,73.38 306.3,73.54 307.14,73.71 307.98,73.88 308.82,74.05 309.66,74.23 310.5,74.4 311.34,74.57 312.18,74.75 313.01,74.92 313.85,75.09 314.69,75.26 315.53,75.42 316.37,75.69 317.21,76.18 318.05,76.6 318.88,76.96 319.72,77.25 320.56,77.5 321.4,77.7 322.24,77.86 323.08,78 323.92,78.1 324.76,78.19 325.6,78.26 326.43,78.32 327.27,78.36 328.11,78.39 328.95,78.42 329.79,78.44 330.63,78.45 331.47,78.47 332.31,78.47 333.14,78.48 333.98,78.49 334.82,78.49 335.66,78.49"/><polyline points="245.08,78.49 245.91,78.49 246.75,78.48 247.59,78.48 248.43,78.47 249.27,78.46 250.11,78.45 250.95,78.43 251.78,78.41 252.62,78.38 253.46,78.34 254.3,78.3 255.14,78.24 255.98,78.16 256.82,78.06 257.66,77.95 258.5,77.8 259.33,77.62 260.17,77.4 261.01,77.14 261.85,76.82 262.69,76.44 263.53,76 264.37,75.47 265.21,74.88 266.04,74.65 266.88,74.42 267.72,74.18 268.56,73.93 269.4,73.69 270.24,73.44 271.08,73.19 271.92,72.93 272.75,72.68 273.59,72.43 274.43,72.18 275.27,71.93 276.11,71.69 276.95,71.46 277.79,71.23 278.62,71.01 279.46,70.8 280.3,70.6 281.14,70.41 281.98,70.24 282.82,70.07 283.66,69.93 284.5,69.8 285.34,69.68 286.17,69.58 287.01,69.5 287.85,69.44 288.69,69.4 289.53,69.37 290.37,69.37 291.21,69.38 292.05,69.41 292.88,69.46 293.72,69.53 294.56,69.62 295.4,69.73 296.24,69.85 297.08,69.98 297.92,70.14 298.75,70.3 299.59,70.49 300.43,70.68 301.27,70.88 302.11,71.1 302.95,71.32 303.79,71.55 304.63,71.79 305.47,72.03 306.3,72.28 307.14,72.53 307.98,72.78 308.82,73.03 309.66,73.29 310.5,73.54 311.34,73.79 312.18,74.03 313.01,74.27 313.85,74.51 314.69,74.74 315.53,75.11 316.37,75.69 317.21,76.18 318.05,76.6 318.88,76.96 319.72,77.25 320.56,77.5 321.4,77.7 322.24,77.86 323.08,78 323.92,78.1 324.76,78.19 325.6,78.26 326.43,78.32 327.27,78.36 328.11,78.39 328.95,78.42 329.79,78.44 330.63,78.45 331.47,78.47 332.31,78.47 333.14,78.48 333.98,78.49 334.82,78.49 335.66,78.49"/><polyline points="245.08,78.49 245.91,78.49 246.75,78.48 247.59,78.48 248.43,78.47 249.27,78.46 250.11,78.45 250.95,78.43 251.78,78.41 252.62,78.38 253.46,78.34 254.3,78.3 255.14,78.24 255.98,78.16 256.82,78.06 257.66,77.95 258.5,77.8 259.33,77.62 260.17,77.4 261.01,77.14 261.85,76.82 262.69,76.44 263.53,76 264.37,75.47 265.21,74.85 266.04,74.25 266.88,73.95 267.72,73.65 268.56,73.33 269.4,73.01 270.24,72.68 271.08,72.35 271.92,72.02 272.75,71.68 273.59,71.34 274.43,71.01 275.27,70.67 276.11,70.34 276.95,70.02 277.79,69.7 278.62,69.4 279.46,69.11 280.3,68.83 281.14,68.56 281.98,68.32 282.82,68.09 283.66,67.88 284.5,67.69 285.34,67.53 286.17,67.39 287.01,67.28 287.85,67.19 288.69,67.13 289.53,67.09 290.37,67.08 291.21,67.1 292.05,67.15 292.88,67.22 293.72,67.32 294.56,67.45 295.4,67.59 296.24,67.77 297.08,67.96 297.92,68.18 298.75,68.41 299.59,68.67 300.43,68.94 301.27,69.22 302.11,69.52 302.95,69.83 303.79,70.15 304.63,70.47 305.47,70.8 306.3,71.14 307.14,71.48 307.98,71.81 308.82,72.15 309.66,72.49 310.5,72.82 311.34,73.14 312.18,73.46 313.01,73.77 313.85,74.07 314.69,74.44 315.53,75.11 316.37,75.69 317.21,76.18 318.05,76.6 318.88,76.96 319.72,77.25 320.56,77.5 321.4,77.7 322.24,77.86 323.08,78 323.92,78.1 324.76,78.19 325.6,78.26 326.43,78.32 327.27,78.36 328.11,78.39 328.95,78.42 329.79,78.44 330.63,78.45 331.47,78.47 332.31,78.47 333.14,78.48 333.98,78.49 334.82,78.49 335.66,78.49"/><polyline points="245.08,78.49 245.91,78.49 246.75,78.48 247.59,78.48 248.43,78.47 249.27,78.46 250.11,78.45 250.95,78.43 251.78,78.41 252.62,78.38 253.46,78.34 254.3,78.3 255.14,78.24 255.98,78.16 256.82,78.06 257.66,77.95 258.5,77.8 259.33,77.62 260.17,77.4 261.01,77.14 261.85,76.82 262.69,76.44 263.53,76 264.37,75.47 265.21,74.85 266.04,74.14 266.88,73.59 267.72,73.22 268.56,72.84 269.4,72.45 270.24,72.04 271.08,71.63 271.92,71.21 272.75,70.79 273.59,70.36 274.43,69.93 275.27,69.51 276.11,69.08 276.95,68.67 277.79,68.26 278.62,67.86 279.46,67.48 280.3,67.11 281.14,66.77 281.98,66.44 282.82,66.14 283.66,65.86 284.5,65.62 285.34,65.4 286.17,65.21 287.01,65.06 287.85,64.94 288.69,64.86 289.53,64.81 290.37,64.8 291.21,64.83 292.05,64.89 292.88,64.99 293.72,65.12 294.56,65.28 295.4,65.48 296.24,65.71 297.08,65.97 297.92,66.26 298.75,66.57 299.59,66.9 300.43,67.26 301.27,67.63 302.11,68.02 302.95,68.42 303.79,68.83 304.63,69.25 305.47,69.68 306.3,70.1 307.14,70.53 307.98,70.96 308.82,71.38 309.66,71.8 310.5,72.21 311.34,72.61 312.18,73 313.01,73.37 313.85,73.74 314.69,74.44 315.53,75.11 316.37,75.69 317.21,76.18 318.05,76.6 318.88,76.96 319.72,77.25 320.56,77.5 321.4,77.7 322.24,77.86 323.08,78 323.92,78.1 324.76,78.19 325.6,78.26 326.43,78.32 327.27,78.36 328.11,78.39 328.95,78.42 329.79,78.44 330.63,78.45 331.47,78.47 332.31,78.47 333.14,78.48 333.98,78.49 334.82,78.49 335.66,78.49"/><polyline points="245.08,78.49 245.91,78.49 246.75,78.48 247.59,78.48 248.43,78.47 249.27,78.46 250.11,78.45 250.95,78.43 251.78,78.41 252.62,78.38 253.46,78.34 254.3,78.3 255.14,78.24 255.98,78.16 256.82,78.06 257.66,77.95 258.5,77.8 259.33,77.62 260.17,77.4 261.01,77.14 261.85,76.82 262.69,76.44 263.53,76 264.37,75.47 265.21,74.85 266.04,74.14 266.88,73.32 267.72,72.89 268.56,72.44 269.4,71.98 270.24,71.5 271.08,71.01 271.92,70.5 272.75,69.99 273.59,69.47 274.43,68.95 275.27,68.43 276.11,67.91 276.95,67.39 277.79,66.88 278.62,66.39 279.46,65.91 280.3,65.45 281.14,65.01 281.98,64.6 282.82,64.22 283.66,63.87 284.5,63.56 285.34,63.28 286.17,63.04 287.01,62.85 287.85,62.7 288.69,62.59 289.53,62.53 290.37,62.52 291.21,62.55 292.05,62.63 292.88,62.75 293.72,62.92 294.56,63.13 295.4,63.39 296.24,63.68 297.08,64.01 297.92,64.37 298.75,64.76 299.59,65.19 300.43,65.63 301.27,66.1 302.11,66.59 302.95,67.09 303.79,67.6 304.63,68.11 305.47,68.64 306.3,69.16 307.14,69.68 307.98,70.2 308.82,70.71 309.66,71.2 310.5,71.69 311.34,72.16 312.18,72.62 313.01,73.06 313.85,73.66 314.69,74.44 315.53,75.11 316.37,75.69 317.21,76.18 318.05,76.6 318.88,76.96 319.72,77.25 320.56,77.5 321.4,77.7 322.24,77.86 323.08,78 323.92,78.1 324.76,78.19 325.6,78.26 326.43,78.32 327.27,78.36 328.11,78.39 328.95,78.42 329.79,78.44 330.63,78.45 331.47,78.47 332.31,78.47 333.14,78.48 333.98,78.49 334.82,78.49 335.66,78.49"/><polyline points="245.08,78.49 245.91,78.49 246.75,78.48 247.59,78.48 248.43,78.47 249.27,78.46 250.11,78.45 250.95,78.43 251.78,78.41 252.62,78.38 253.46,78.34 254.3,78.3 255.14,78.24 255.98,78.16 256.82,78.06 257.66,77.95 258.5,77.8 259.33,77.62 260.17,77.4 261.01,77.14 261.85,76.82 262.69,76.44 263.53,76 264.37,75.47 265.21,74.85 266.04,74.14 266.88,73.32 267.72,72.62 268.56,72.11 269.4,71.58 270.24,71.03 271.08,70.46 271.92,69.87 272.75,69.27 273.59,68.66 274.43,68.04 275.27,67.42 276.11,66.8 276.95,66.18 277.79,65.57 278.62,64.98 279.46,64.4 280.3,63.84 281.14,63.31 281.98,62.8 282.82,62.34 283.66,61.91 284.5,61.52 285.34,61.18 286.17,60.89 287.01,60.65 287.85,60.46 288.69,60.33 289.53,60.25 290.37,60.23 291.21,60.27 292.05,60.37 292.88,60.53 293.72,60.73 294.56,61 295.4,61.31 296.24,61.67 297.08,62.07 297.92,62.52 298.75,63 299.59,63.51 300.43,64.06 301.27,64.63 302.11,65.21 302.95,65.82 303.79,66.43 304.63,67.05 305.47,67.67 306.3,68.29 307.14,68.91 307.98,69.51 308.82,70.11 309.66,70.69 310.5,71.25 311.34,71.8 312.18,72.32 313.01,72.82 313.85,73.66 314.69,74.44 315.53,75.11 316.37,75.69 317.21,76.18 318.05,76.6 318.88,76.96 319.72,77.25 320.56,77.5 321.4,77.7 322.24,77.86 323.08,78 323.92,78.1 324.76,78.19 325.6,78.26 326.43,78.32 327.27,78.36 328.11,78.39 328.95,78.42 329.79,78.44 330.63,78.45 331.47,78.47 332.31,78.47 333.14,78.48 333.98,78.49 334.82,78.49 335.66,78.49"/><polyline points="245.08,78.49 245.91,78.49 246.75,78.48 247.59,78.48 248.43,78.47 249.27,78.46 250.11,78.45 250.95,78.43 251.78,78.41 252.62,78.38 253.46,78.34 254.3,78.3 255.14,78.24 255.98,78.16 256.82,78.06 257.66,77.95 258.5,77.8 259.33,77.62 260.17,77.4 261.01,77.14 261.85,76.82 262.69,76.44 263.53,76 264.37,75.47 265.21,74.85 266.04,74.14 266.88,73.32 267.72,72.41 268.56,71.85 269.4,71.25 270.24,70.63 271.08,69.98 271.92,69.31 272.75,68.63 273.59,67.92 274.43,67.21 275.27,66.49 276.11,65.76 276.95,65.04 277.79,64.32 278.62,63.62 279.46,62.93 280.3,62.27 281.14,61.63 281.98,61.04 282.82,60.48 283.66,59.96 284.5,59.5 285.34,59.09 286.17,58.74 287.01,58.45 287.85,58.22 288.69,58.06 289.53,57.97 290.37,57.95 291.21,58 292.05,58.12 292.88,58.3 293.72,58.56 294.56,58.87 295.4,59.25 296.24,59.68 297.08,60.16 297.92,60.7 298.75,61.27 299.59,61.88 300.43,62.53 301.27,63.2 302.11,63.9 302.95,64.61 303.79,65.33 304.63,66.05 305.47,66.78 306.3,67.5 307.14,68.21 307.98,68.9 308.82,69.58 309.66,70.24 310.5,70.88 311.34,71.49 312.18,72.08 313.01,72.77 313.85,73.66 314.69,74.44 315.53,75.11 316.37,75.69 317.21,76.18 318.05,76.6 318.88,76.96 319.72,77.25 320.56,77.5 321.4,77.7 322.24,77.86 323.08,78 323.92,78.1 324.76,78.19 325.6,78.26 326.43,78.32 327.27,78.36 328.11,78.39 328.95,78.42 329.79,78.44 330.63,78.45 331.47,78.47 332.31,78.47 333.14,78.48 333.98,78.49 334.82,78.49 335.66,78.49"/><polyline points="245.08,78.49 245.91,78.49 246.75,78.48 247.59,78.48 248.43,78.47 249.27,78.46 250.11,78.45 250.95,78.43 251.78,78.41 252.62,78.38 253.46,78.34 254.3,78.3 255.14,78.24 255.98,78.16 256.82,78.06 257.66,77.95 258.5,77.8 259.33,77.62 260.17,77.4 261.01,77.14 261.85,76.82 262.69,76.44 263.53,76 264.37,75.47 265.21,74.85 266.04,74.14 266.88,73.32 267.72,72.38 268.56,71.63 269.4,70.98 270.24,70.29 271.08,69.56 271.92,68.82 272.75,68.04 273.59,67.25 274.43,66.43 275.27,65.61 276.11,64.78 276.95,63.95 277.79,63.12 278.62,62.31 279.46,61.51 280.3,60.74 281.14,60 281.98,59.3 282.82,58.64 283.66,58.04 284.5,57.49 285.34,57.01 286.17,56.6 287.01,56.25 287.85,55.99 288.69,55.8 289.53,55.69 290.37,55.67 291.21,55.73 292.05,55.87 292.88,56.08 293.72,56.38 294.56,56.75 295.4,57.2 296.24,57.71 297.08,58.28 297.92,58.9 298.75,59.58 299.59,60.29 300.43,61.05 301.27,61.83 302.11,62.63 302.95,63.45 303.79,64.28 304.63,65.11 305.47,65.94 306.3,66.76 307.14,67.57 307.98,68.35 308.82,69.12 309.66,69.86 310.5,70.57 311.34,71.24 312.18,71.88 313.01,72.77 313.85,73.66 314.69,74.44 315.53,75.11 316.37,75.69 317.21,76.18 318.05,76.6 318.88,76.96 319.72,77.25 320.56,77.5 321.4,77.7 322.24,77.86 323.08,78 323.92,78.1 324.76,78.19 325.6,78.26 326.43,78.32 327.27,78.36 328.11,78.39 328.95,78.42 329.79,78.44 330.63,78.45 331.47,78.47 332.31,78.47 333.14,78.48 333.98,78.49 334.82,78.49 335.66,78.49"/><polyline points="245.08,78.49 245.91,78.49 246.75,78.48 247.59,78.48 248.43,78.47 249.27,78.46 250.11,78.45 250.95,78.43 251.78,78.41 252.62,78.38 253.46,78.34 254.3,78.3 255.14,78.24 255.98,78.16 256.82,78.06 257.66,77.95 258.5,77.8 259.33,77.62 260.17,77.4 261.01,77.14 261.85,76.82 262.69,76.44 263.53,76 264.37,75.47 265.21,74.85 266.04,74.14 266.88,73.32 267.72,72.38 268.56,71.46 269.4,70.75 270.24,69.99 271.08,69.2 271.92,68.37 272.75,67.51 273.59,66.63 274.43,65.72 275.27,64.79 276.11,63.85 276.95,62.91 277.79,61.97 278.62,61.05 279.46,60.14 280.3,59.25 281.14,58.4 281.98,57.59 282.82,56.84 283.66,56.14 284.5,55.51 285.34,54.95 286.17,54.47 287.01,54.07 287.85,53.76 288.69,53.54 289.53,53.41 290.37,53.39 291.21,53.45 292.05,53.61 292.88,53.87 293.72,54.22 294.56,54.65 295.4,55.16 296.24,55.75 297.08,56.41 297.92,57.13 298.75,57.91 299.59,58.74 300.43,59.6 301.27,60.5 302.11,61.42 302.95,62.35 303.79,63.29 304.63,64.23 305.47,65.16 306.3,66.08 307.14,66.98 307.98,67.86 308.82,68.71 309.66,69.52 310.5,70.3 311.34,71.04 312.18,71.75 313.01,72.77 313.85,73.66 314.69,74.44 315.53,75.11 316.37,75.69 317.21,76.18 318.05,76.6 318.88,76.96 319.72,77.25 320.56,77.5 321.4,77.7 322.24,77.86 323.08,78 323.92,78.1 324.76,78.19 325.6,78.26 326.43,78.32 327.27,78.36 328.11,78.39 328.95,78.42 329.79,78.44 330.63,78.45 331.47,78.47 332.31,78.47 333.14,78.48 333.98,78.49 334.82,78.49 335.66,78.49"/><polyline points="245.08,78.49 245.91,78.49 246.75,78.48 247.59,78.48 248.43,78.47 249.27,78.46 250.11,78.45 250.95,78.43 251.78,78.41 252.62,78.38 253.46,78.34 254.3,78.3 255.14,78.24 255.98,78.16 256.82,78.06 257.66,77.95 258.5,77.8 259.33,77.62 260.17,77.4 261.01,77.14 261.85,76.82 262.69,76.44 263.53,76 264.37,75.47 265.21,74.85 266.04,74.14 266.88,73.32 267.72,72.38 268.56,71.33 269.4,70.56 270.24,69.74 271.08,68.88 271.92,67.98 272.75,67.03 273.59,66.06 274.43,65.05 275.27,64.02 276.11,62.98 276.95,61.92 277.79,60.87 278.62,59.83 279.46,58.8 280.3,57.8 281.14,56.83 281.98,55.92 282.82,55.06 283.66,54.26 284.5,53.54 285.34,52.89 286.17,52.34 287.01,51.89 287.85,51.53 288.69,51.28 289.53,51.14 290.37,51.1 291.21,51.18 292.05,51.37 292.88,51.66 293.72,52.06 294.56,52.55 295.4,53.14 296.24,53.82 297.08,54.57 297.92,55.39 298.75,56.28 299.59,57.22 300.43,58.19 301.27,59.21 302.11,60.24 302.95,61.29 303.79,62.35 304.63,63.4 305.47,64.44 306.3,65.46 307.14,66.45 307.98,67.41 308.82,68.34 309.66,69.23 310.5,70.07 311.34,70.87 312.18,71.75 313.01,72.77 313.85,73.66 314.69,74.44 315.53,75.11 316.37,75.69 317.21,76.18 318.05,76.6 318.88,76.96 319.72,77.25 320.56,77.5 321.4,77.7 322.24,77.86 323.08,78 323.92,78.1 324.76,78.19 325.6,78.26 326.43,78.32 327.27,78.36 328.11,78.39 328.95,78.42 329.79,78.44 330.63,78.45 331.47,78.47 332.31,78.47 333.14,78.48 333.98,78.49 334.82,78.49 335.66,78.49"/><polyline points="245.08,78.49 245.91,78.49 246.75,78.48 247.59,78.48 248.43,78.47 249.27,78.46 250.11,78.45 250.95,78.43 251.78,78.41 252.62,78.38 253.46,78.34 254.3,78.3 255.14,78.24 255.98,78.16 256.82,78.06 257.66,77.95 258.5,77.8 259.33,77.62 260.17,77.4 261.01,77.14 261.85,76.82 262.69,76.44 263.53,76 264.37,75.47 265.21,74.85 266.04,74.14 266.88,73.32 267.72,72.38 268.56,71.31 269.4,70.4 270.24,69.53 271.08,68.6 271.92,67.62 272.75,66.6 273.59,65.53 274.43,64.43 275.27,63.3 276.11,62.15 276.95,60.98 277.79,59.81 278.62,58.65 279.46,57.5 280.3,56.38 281.14,55.3 281.98,54.27 282.82,53.3 283.66,52.4 284.5,51.58 285.34,50.85 286.17,50.23 287.01,49.71 287.85,49.3 288.69,49.02 289.53,48.86 290.37,48.82 291.21,48.91 292.05,49.12 292.88,49.45 293.72,49.9 294.56,50.46 295.4,51.13 296.24,51.9 297.08,52.75 297.92,53.68 298.75,54.67 299.59,55.73 300.43,56.82 301.27,57.96 302.11,59.11 302.95,60.28 303.79,61.45 304.63,62.61 305.47,63.76 306.3,64.88 307.14,65.96 307.98,67.01 308.82,68.02 309.66,68.98 310.5,69.89 311.34,70.74 312.18,71.75 313.01,72.77 313.85,73.66 314.69,74.44 315.53,75.11 316.37,75.69 317.21,76.18 318.05,76.6 318.88,76.96 319.72,77.25 320.56,77.5 321.4,77.7 322.24,77.86 323.08,78 323.92,78.1 324.76,78.19 325.6,78.26 326.43,78.32 327.27,78.36 328.11,78.39 328.95,78.42 329.79,78.44 330.63,78.45 331.47,78.47 332.31,78.47 333.14,78.48 333.98,78.49 334.82,78.49 335.66,78.49"/><polyline points="245.08,78.49 245.91,78.49 246.75,78.48 247.59,78.48 248.43,78.47 249.27,78.46 250.11,78.45 250.95,78.43 251.78,78.41 252.62,78.38 253.46,78.34 254.3,78.3 255.14,78.24 255.98,78.16 256.82,78.06 257.66,77.95 258.5,77.8 259.33,77.62 260.17,77.4 261.01,77.14 261.85,76.82 262.69,76.44 263.53,76 264.37,75.47 265.21,74.85 266.04,74.14 266.88,73.32 267.72,72.38 268.56,71.31 269.4,70.28 270.24,69.35 271.08,68.36 271.92,67.31 272.75,66.2 273.59,65.05 274.43,63.85 275.27,62.62 276.11,61.36 276.95,60.08 277.79,58.79 278.62,57.51 279.46,56.24 280.3,55 281.14,53.79 281.98,52.64 282.82,51.56 283.66,50.55 284.5,49.64 285.34,48.82 286.17,48.12 287.01,47.54 287.85,47.08 288.69,46.76 289.53,46.58 290.37,46.54 291.21,46.63 292.05,46.87 292.88,47.25 293.72,47.75 294.56,48.39 295.4,49.14 296.24,49.99 297.08,50.94 297.92,51.98 298.75,53.1 299.59,54.27 300.43,55.49 301.27,56.74 302.11,58.02 302.95,59.31 303.79,60.59 304.63,61.87 305.47,63.12 306.3,64.34 307.14,65.52 307.98,66.65 308.82,67.74 309.66,68.76 310.5,69.73 311.34,70.64 312.18,71.75 313.01,72.77 313.85,73.66 314.69,74.44 315.53,75.11 316.37,75.69 317.21,76.18 318.05,76.6 318.88,76.96 319.72,77.25 320.56,77.5 321.4,77.7 322.24,77.86 323.08,78 323.92,78.1 324.76,78.19 325.6,78.26 326.43,78.32 327.27,78.36 328.11,78.39 328.95,78.42 329.79,78.44 330.63,78.45 331.47,78.47 332.31,78.47 333.14,78.48 333.98,78.49 334.82,78.49 335.66,78.49"/><polyline points="245.08,78.49 245.91,78.49 246.75,78.48 247.59,78.48 248.43,78.47 249.27,78.46 250.11,78.45 250.95,78.43 251.78,78.41 252.62,78.38 253.46,78.34 254.3,78.3 255.14,78.24 255.98,78.16 256.82,78.06 257.66,77.95 258.5,77.8 259.33,77.62 260.17,77.4 261.01,77.14 261.85,76.82 262.69,76.44 263.53,76 264.37,75.47 265.21,74.85 266.04,74.14 266.88,73.32 267.72,72.38 268.56,71.31 269.4,70.19 270.24,69.2 271.08,68.15 271.92,67.03 272.75,65.85 273.59,64.61 274.43,63.32 275.27,61.98 276.11,60.61 276.95,59.22 277.79,57.81 278.62,56.41 279.46,55.01 280.3,53.64 281.14,52.31 281.98,51.04 282.82,49.84 283.66,48.73 284.5,47.71 285.34,46.8 286.17,46.02 287.01,45.37 287.85,44.86 288.69,44.5 289.53,44.3 290.37,44.25 291.21,44.36 292.05,44.63 292.88,45.05 293.72,45.61 294.56,46.32 295.4,47.15 296.24,48.1 297.08,49.16 297.92,50.31 298.75,51.54 299.59,52.84 300.43,54.19 301.27,55.57 302.11,56.97 302.95,58.38 303.79,59.78 304.63,61.17 305.47,62.52 306.3,63.84 307.14,65.11 307.98,66.33 308.82,67.49 309.66,68.58 310.5,69.6 311.34,70.61 312.18,71.75 313.01,72.77 313.85,73.66 314.69,74.44 315.53,75.11 316.37,75.69 317.21,76.18 318.05,76.6 318.88,76.96 319.72,77.25 320.56,77.5 321.4,77.7 322.24,77.86 323.08,78 323.92,78.1 324.76,78.19 325.6,78.26 326.43,78.32 327.27,78.36 328.11,78.39 328.95,78.42 329.79,78.44 330.63,78.45 331.47,78.47 332.31,78.47 333.14,78.48 333.98,78.49 334.82,78.49 335.66,78.49"/><polyline points="245.08,78.49 245.91,78.49 246.75,78.48 247.59,78.48 248.43,78.47 249.27,78.46 250.11,78.45 250.95,78.43 251.78,78.41 252.62,78.38 253.46,78.34 254.3,78.3 255.14,78.24 255.98,78.16 256.82,78.06 257.66,77.95 258.5,77.8 259.33,77.62 260.17,77.4 261.01,77.14 261.85,76.82 262.69,76.44 263.53,76 264.37,75.47 265.21,74.85 266.04,74.14 266.88,73.32 267.72,72.38 268.56,71.31 269.4,70.11 270.24,69.08 271.08,67.97 271.92,66.78 272.75,65.52 273.59,64.2 274.43,62.82 275.27,61.38 276.11,59.9 276.95,58.4 277.79,56.87 278.62,55.34 279.46,53.81 280.3,52.32 281.14,50.86 281.98,49.47 282.82,48.15 283.66,46.92 284.5,45.79 285.34,44.79 286.17,43.93 287.01,43.21 287.85,42.65 288.69,42.25 289.53,42.02 290.37,41.97 291.21,42.09 292.05,42.39 292.88,42.85 293.72,43.48 294.56,44.26 295.4,45.18 296.24,46.23 297.08,47.4 297.92,48.66 298.75,50.02 299.59,51.44 300.43,52.91 301.27,54.42 302.11,55.95 302.95,57.48 303.79,59 304.63,60.5 305.47,61.96 306.3,63.38 307.14,64.74 307.98,66.04 308.82,67.27 309.66,68.42 310.5,69.5 311.34,70.61 312.18,71.75 313.01,72.77 313.85,73.66 314.69,74.44 315.53,75.11 316.37,75.69 317.21,76.18 318.05,76.6 318.88,76.96 319.72,77.25 320.56,77.5 321.4,77.7 322.24,77.86 323.08,78 323.92,78.1 324.76,78.19 325.6,78.26 326.43,78.32 327.27,78.36 328.11,78.39 328.95,78.42 329.79,78.44 330.63,78.45 331.47,78.47 332.31,78.47 333.14,78.48 333.98,78.49 334.82,78.49 335.66,78.49"/><polyline points="245.08,78.49 245.91,78.49 246.75,78.48 247.59,78.48 248.43,78.47 249.27,78.46 250.11,78.45 250.95,78.43 251.78,78.41 252.62,78.38 253.46,78.34 254.3,78.3 255.14,78.24 255.98,78.16 256.82,78.06 257.66,77.95 258.5,77.8 259.33,77.62 260.17,77.4 261.01,77.14 261.85,76.82 262.69,76.44 263.53,76 264.37,75.47 265.21,74.85 266.04,74.14 266.88,73.32 267.72,72.38 268.56,71.31 269.4,70.11 270.24,68.98 271.08,67.81 271.92,66.56 272.75,65.23 273.59,63.83 274.43,62.35 275.27,60.82 276.11,59.23 276.95,57.61 277.79,55.96 278.62,54.3 279.46,52.65 280.3,51.02 281.14,49.44 281.98,47.91 282.82,46.47 283.66,45.12 284.5,43.89 285.34,42.79 286.17,41.84 287.01,41.05 287.85,40.43 288.69,39.99 289.53,39.74 290.37,39.69 291.21,39.82 292.05,40.15 292.88,40.66 293.72,41.35 294.56,42.2 295.4,43.21 296.24,44.37 297.08,45.65 297.92,47.04 298.75,48.52 299.59,50.07 300.43,51.67 301.27,53.31 302.11,54.96 302.95,56.62 303.79,58.26 304.63,59.87 305.47,61.44 306.3,62.95 307.14,64.4 307.98,65.77 308.82,67.07 309.66,68.29 310.5,69.42 311.34,70.61 312.18,71.75 313.01,72.77 313.85,73.66 314.69,74.44 315.53,75.11 316.37,75.69 317.21,76.18 318.05,76.6 318.88,76.96 319.72,77.25 320.56,77.5 321.4,77.7 322.24,77.86 323.08,78 323.92,78.1 324.76,78.19 325.6,78.26 326.43,78.32 327.27,78.36 328.11,78.39 328.95,78.42 329.79,78.44 330.63,78.45 331.47,78.47 332.31,78.47 333.14,78.48 333.98,78.49 334.82,78.49 335.66,78.49"/><polyline points="245.08,78.49 245.91,78.49 246.75,78.48 247.59,78.48 248.43,78.47 249.27,78.46 250.11,78.45 250.95,78.43 251.78,78.41 252.62,78.38 253.46,78.34 254.3,78.3 255.14,78.24 255.98,78.16 256.82,78.06 257.66,77.95 258.5,77.8 259.33,77.62 260.17,77.4 261.01,77.14 261.85,76.82 262.69,76.44 263.53,76 264.37,75.47 265.21,74.85 266.04,74.14 266.88,73.32 267.72,72.38 268.56,71.31 269.4,70.11 270.24,68.9 271.08,67.68 271.92,66.37 272.75,64.97 273.59,63.48 274.43,61.92 275.27,60.28 276.11,58.59 276.95,56.85 277.79,55.08 278.62,53.3 279.46,51.52 280.3,49.76 281.14,48.04 281.98,46.38 282.82,44.81 283.66,43.34 284.5,42 285.34,40.8 286.17,39.76 287.01,38.9 287.85,38.22 288.69,37.74 289.53,37.47 290.37,37.4 291.21,37.55 292.05,37.91 292.88,38.47 293.72,39.22 294.56,40.16 295.4,41.26 296.24,42.52 297.08,43.92 297.92,45.43 298.75,47.04 299.59,48.72 300.43,50.46 301.27,52.23 302.11,54.01 302.95,55.79 303.79,57.55 304.63,59.27 305.47,60.94 306.3,62.55 307.14,64.09 307.98,65.54 308.82,66.91 309.66,68.18 310.5,69.37 311.34,70.61 312.18,71.75 313.01,72.77 313.85,73.66 314.69,74.44 315.53,75.11 316.37,75.69 317.21,76.18 318.05,76.6 318.88,76.96 319.72,77.25 320.56,77.5 321.4,77.7 322.24,77.86 323.08,78 323.92,78.1 324.76,78.19 325.6,78.26 326.43,78.32 327.27,78.36 328.11,78.39 328.95,78.42 329.79,78.44 330.63,78.45 331.47,78.47 332.31,78.47 333.14,78.48 333.98,78.49 334.82,78.49 335.66,78.49"/><polyline points="245.08,78.49 245.91,78.49 246.75,78.48 247.59,78.48 248.43,78.47 249.27,78.46 250.11,78.45 250.95,78.43 251.78,78.41 252.62,78.38 253.46,78.34 254.3,78.3 255.14,78.24 255.98,78.16 256.82,78.06 257.66,77.95 258.5,77.8 259.33,77.62 260.17,77.4 261.01,77.14 261.85,76.82 262.69,76.44 263.53,76 264.37,75.47 265.21,74.85 266.04,74.14 266.88,73.32 267.72,72.38 268.56,71.31 269.4,70.11 270.24,68.84 271.08,67.57 271.92,66.2 272.75,64.73 273.59,63.16 274.43,61.51 275.27,59.78 276.11,57.98 276.95,56.13 277.79,54.23 278.62,52.32 279.46,50.41 280.3,48.51 281.14,46.66 281.98,44.87 282.82,43.17 283.66,41.58 284.5,40.12 285.34,38.82 286.17,37.69 287.01,36.75 287.85,36.01 288.69,35.49 289.53,35.19 290.37,35.12 291.21,35.28 292.05,35.67 292.88,36.28 293.72,37.1 294.56,38.12 295.4,39.32 296.24,40.69 297.08,42.2 297.92,43.84 298.75,45.58 299.59,47.4 300.43,49.27 301.27,51.17 302.11,53.09 302.95,54.99 303.79,56.87 304.63,58.71 305.47,60.48 306.3,62.18 307.14,63.8 307.98,65.33 308.82,66.76 309.66,68.09 310.5,69.33 311.34,70.61 312.18,71.75 313.01,72.77 313.85,73.66 314.69,74.44 315.53,75.11 316.37,75.69 317.21,76.18 318.05,76.6 318.88,76.96 319.72,77.25 320.56,77.5 321.4,77.7 322.24,77.86 323.08,78 323.92,78.1 324.76,78.19 325.6,78.26 326.43,78.32 327.27,78.36 328.11,78.39 328.95,78.42 329.79,78.44 330.63,78.45 331.47,78.47 332.31,78.47 333.14,78.48 333.98,78.49 334.82,78.49 335.66,78.49"/><polyline points="245.08,78.49 245.91,78.49 246.75,78.48 247.59,78.48 248.43,78.47 249.27,78.46 250.11,78.45 250.95,78.43 251.78,78.41 252.62,78.38 253.46,78.34 254.3,78.3 255.14,78.24 255.98,78.16 256.82,78.06 257.66,77.95 258.5,77.8 259.33,77.62 260.17,77.4 261.01,77.14 261.85,76.82 262.69,76.44 263.53,76 264.37,75.47 265.21,74.85 266.04,74.14 266.88,73.32 267.72,72.38 268.56,71.31 269.4,70.11 270.24,68.8 271.08,67.48 271.92,66.05 272.75,64.52 273.59,62.87 274.43,61.13 275.27,59.31 276.11,57.4 276.95,55.43 277.79,53.42 278.62,51.38 279.46,49.33 280.3,47.3 281.14,45.31 281.98,43.38 282.82,41.55 283.66,39.83 284.5,38.26 285.34,36.85 286.17,35.62 287.01,34.6 287.85,33.8 288.69,33.24 289.53,32.91 290.37,32.84 291.21,33.01 292.05,33.43 292.88,34.09 293.72,34.98 294.56,36.09 295.4,37.39 296.24,38.87 297.08,40.51 297.92,42.27 298.75,44.14 299.59,46.1 300.43,48.11 301.27,50.15 302.11,52.19 302.95,54.23 303.79,56.23 304.63,58.17 305.47,60.05 306.3,61.84 307.14,63.54 307.98,65.14 308.82,66.64 309.66,68.02 310.5,69.33 311.34,70.61 312.18,71.75 313.01,72.77 313.85,73.66 314.69,74.44 315.53,75.11 316.37,75.69 317.21,76.18 318.05,76.6 318.88,76.96 319.72,77.25 320.56,77.5 321.4,77.7 322.24,77.86 323.08,78 323.92,78.1 324.76,78.19 325.6,78.26 326.43,78.32 327.27,78.36 328.11,78.39 328.95,78.42 329.79,78.44 330.63,78.45 331.47,78.47 332.31,78.47 333.14,78.48 333.98,78.49 334.82,78.49 335.66,78.49"/><polyline points="245.08,78.49 245.91,78.49 246.75,78.48 247.59,78.48 248.43,78.47 249.27,78.46 250.11,78.45 250.95,78.43 251.78,78.41 252.62,78.38 253.46,78.34 254.3,78.3 255.14,78.24 255.98,78.16 256.82,78.06 257.66,77.95 258.5,77.8 259.33,77.62 260.17,77.4 261.01,77.14 261.85,76.82 262.69,76.44 263.53,76 264.37,75.47 265.21,74.85 266.04,74.14 266.88,73.32 267.72,72.38 268.56,71.31 269.4,70.11 270.24,68.78 271.08,67.41 271.92,65.93 272.75,64.32 273.59,62.61 274.43,60.78 275.27,58.86 276.11,56.85 276.95,54.76 277.79,52.63 278.62,50.46 279.46,48.28 280.3,46.11 281.14,43.98 281.98,41.92 282.82,39.95 283.66,38.1 284.5,36.41 285.34,34.88 286.17,33.56 287.01,32.46 287.85,31.6 288.69,30.99 289.53,30.64 290.37,30.56 291.21,30.74 292.05,31.2 292.88,31.91 293.72,32.87 294.56,34.07 295.4,35.47 296.24,37.06 297.08,38.82 297.92,40.72 298.75,42.73 299.59,44.82 300.43,46.97 301.27,49.15 302.11,51.33 302.95,53.49 303.79,55.6 304.63,57.66 305.47,59.64 306.3,61.52 307.14,63.31 307.98,64.98 308.82,66.54 309.66,67.97 310.5,69.33 311.34,70.61 312.18,71.75 313.01,72.77 313.85,73.66 314.69,74.44 315.53,75.11 316.37,75.69 317.21,76.18 318.05,76.6 318.88,76.96 319.72,77.25 320.56,77.5 321.4,77.7 322.24,77.86 323.08,78 323.92,78.1 324.76,78.19 325.6,78.26 326.43,78.32 327.27,78.36 328.11,78.39 328.95,78.42 329.79,78.44 330.63,78.45 331.47,78.47 332.31,78.47 333.14,78.48 333.98,78.49 334.82,78.49 335.66,78.49"/><polyline points="245.08,78.49 245.91,78.49 246.75,78.48 247.59,78.48 248.43,78.47 249.27,78.46 250.11,78.45 250.95,78.43 251.78,78.41 252.62,78.38 253.46,78.34 254.3,78.3 255.14,78.24 255.98,78.16 256.82,78.06 257.66,77.95 258.5,77.8 259.33,77.62 260.17,77.4 261.01,77.14 261.85,76.82 262.69,76.44 263.53,76 264.37,75.47 265.21,74.85 266.04,74.14 266.88,73.32 267.72,72.38 268.56,71.31 269.4,70.11 270.24,68.77 271.08,67.36 271.92,65.82 272.75,64.15 273.59,62.36 274.43,60.45 275.27,58.44 276.11,56.32 276.95,54.12 277.79,51.87 278.62,49.56 279.46,47.25 280.3,44.94 281.14,42.67 281.98,40.47 282.82,38.36 283.66,36.38 284.5,34.56 285.34,32.93 286.17,31.51 287.01,30.32 287.85,29.39 288.69,28.74 289.53,28.36 290.37,28.27 291.21,28.48 292.05,28.97 292.88,29.73 293.72,30.77 294.56,32.05 295.4,33.56 296.24,35.27 297.08,37.16 297.92,39.19 298.75,41.34 299.59,43.57 300.43,45.86 301.27,48.17 302.11,50.49 302.95,52.77 303.79,55.01 304.63,57.18 305.47,59.26 306.3,61.23 307.14,63.09 307.98,64.83 308.82,66.45 309.66,67.93 310.5,69.33 311.34,70.61 312.18,71.75 313.01,72.77 313.85,73.66 314.69,74.44 315.53,75.11 316.37,75.69 317.21,76.18 318.05,76.6 318.88,76.96 319.72,77.25 320.56,77.5 321.4,77.7 322.24,77.86 323.08,78 323.92,78.1 324.76,78.19 325.6,78.26 326.43,78.32 327.27,78.36 328.11,78.39 328.95,78.42 329.79,78.44 330.63,78.45 331.47,78.47 332.31,78.47 333.14,78.48 333.98,78.49 334.82,78.49 335.66,78.49"/><polyline points="245.08,78.49 245.91,78.49 246.75,78.48 247.59,78.48 248.43,78.47 249.27,78.46 250.11,78.45 250.95,78.43 251.78,78.41 252.62,78.38 253.46,78.34 254.3,78.3 255.14,78.24 255.98,78.16 256.82,78.06 257.66,77.95 258.5,77.8 259.33,77.62 260.17,77.4 261.01,77.14 261.85,76.82 262.69,76.44 263.53,76 264.37,75.47 265.21,74.85 266.04,74.14 266.88,73.32 267.72,72.38 268.56,71.31 269.4,70.11 270.24,68.77 271.08,67.31 271.92,65.73 272.75,64 273.59,62.14 274.43,60.15 275.27,58.04 276.11,55.82 276.95,53.51 277.79,51.13 278.62,48.7 279.46,46.24 280.3,43.79 281.14,41.38 281.98,39.03 282.82,36.79 283.66,34.68 284.5,32.73 285.34,30.98 286.17,29.46 287.01,28.19 287.85,27.19 288.69,26.49 289.53,26.08 290.37,25.99 291.21,26.21 292.05,26.73 292.88,27.56 293.72,28.67 294.56,30.04 295.4,31.66 296.24,33.49 297.08,35.5 297.92,37.67 298.75,39.96 299.59,42.34 300.43,44.77 301.27,47.23 302.11,49.67 302.95,52.09 303.79,54.44 304.63,56.72 305.47,58.9 306.3,60.96 307.14,62.9 307.98,64.71 308.82,66.38 309.66,67.91 310.5,69.33 311.34,70.61 312.18,71.75 313.01,72.77 313.85,73.66 314.69,74.44 315.53,75.11 316.37,75.69 317.21,76.18 318.05,76.6 318.88,76.96 319.72,77.25 320.56,77.5 321.4,77.7 322.24,77.86 323.08,78 323.92,78.1 324.76,78.19 325.6,78.26 326.43,78.32 327.27,78.36 328.11,78.39 328.95,78.42 329.79,78.44 330.63,78.45 331.47,78.47 332.31,78.47 333.14,78.48 333.98,78.49 334.82,78.49 335.66,78.49"/><polyline points="245.08,78.49 245.91,78.49 246.75,78.48 247.59,78.48 248.43,78.47 249.27,78.46 250.11,78.45 250.95,78.43 251.78,78.41 252.62,78.38 253.46,78.34 254.3,78.3 255.14,78.24 255.98,78.16 256.82,78.06 257.66,77.95 258.5,77.8 259.33,77.62 260.17,77.4 261.01,77.14 261.85,76.82 262.69,76.44 263.53,76 264.37,75.47 265.21,74.85 266.04,74.14 266.88,73.32 267.72,72.38 268.56,71.31 269.4,70.11 270.24,68.77 271.08,67.28 271.92,65.65 272.75,63.87 273.59,61.94 274.43,59.86 275.27,57.66 276.11,55.34 276.95,52.92 277.79,50.42 278.62,47.85 279.46,45.26 280.3,42.67 281.14,40.11 281.98,37.62 282.82,35.23 283.66,32.99 284.5,30.91 285.34,29.05 286.17,27.42 287.01,26.06 287.85,25 288.69,24.24 289.53,23.81 290.37,23.71 291.21,23.94 292.05,24.5 292.88,25.39 293.72,26.57 294.56,28.04 295.4,29.77 296.24,31.72 297.08,33.87 297.92,36.17 298.75,38.61 299.59,41.13 300.43,43.71 301.27,46.3 302.11,48.88 302.95,51.42 303.79,53.9 304.63,56.28 305.47,58.56 306.3,60.71 307.14,62.72 307.98,64.6 308.82,66.32 309.66,67.9 310.5,69.33 311.34,70.61 312.18,71.75 313.01,72.77 313.85,73.66 314.69,74.44 315.53,75.11 316.37,75.69 317.21,76.18 318.05,76.6 318.88,76.96 319.72,77.25 320.56,77.5 321.4,77.7 322.24,77.86 323.08,78 323.92,78.1 324.76,78.19 325.6,78.26 326.43,78.32 327.27,78.36 328.11,78.39 328.95,78.42 329.79,78.44 330.63,78.45 331.47,78.47 332.31,78.47 333.14,78.48 333.98,78.49 334.82,78.49 335.66,78.49"/><polyline points="263.53,76 265.21,74.85 266.88,73.32 268.56,71.31 270.24,68.77 271.92,65.65 273.59,61.94 275.27,57.66 276.95,52.92 278.62,47.85 280.3,42.67 281.98,37.62 283.66,32.99 285.34,29.05 287.01,26.06 288.69,24.24 290.37,23.71 292.05,24.5 293.72,26.57 295.4,29.77 297.08,33.87 298.75,38.61 300.43,43.71 302.11,48.88 303.79,53.9 305.47,58.56 307.14,62.72 308.82,66.32 310.5,69.33 312.18,71.75 313.85,73.66 315.53,75.11 317.21,76.18" stroke-width="1.4"/></g>
<polygon points="273.26,78.5 274.05,82.27 274.85,85.06 275.65,87.58 276.44,89.93 277.24,92.16 278.04,94.3 278.83,96.38 279.63,98.39 280.16,96.38 280.68,94.3 281.2,92.16 281.73,89.93 282.25,87.58 282.78,85.06 283.3,82.27 283.83,78.5" fill="#1f77c4" fill-opacity="0.85" stroke="#1f77c4" stroke-width="0.6" stroke-linejoin="round"/><polyline points="273.26,78.5 274.05,79.44 274.85,80.14 275.65,80.77 276.44,81.36 277.24,81.91 278.04,82.45 278.83,82.97 279.63,83.47 280.16,82.97 280.68,82.45 281.2,81.91 281.73,81.36 282.25,80.77 282.78,80.14 283.3,79.44 283.83,78.5" fill="none" stroke="#1f77c4" stroke-width="0.45"/><polyline points="273.26,78.5 274.05,80.2 274.85,81.45 275.65,82.58 276.44,83.64 277.24,84.65 278.04,85.61 278.83,86.54 279.63,87.45 280.16,86.54 280.68,85.61 281.2,84.65 281.73,83.64 282.25,82.58 282.78,81.45 283.3,80.2 283.83,78.5" fill="none" stroke="#1f77c4" stroke-width="0.45"/><polyline points="273.26,78.5 274.05,80.95 274.85,82.77 275.65,84.4 276.44,85.93 277.24,87.38 278.04,88.77 278.83,90.12 279.63,91.43 280.16,90.12 280.68,88.77 281.2,87.38 281.73,85.93 282.25,84.4 282.78,82.77 283.3,80.95 283.83,78.5" fill="none" stroke="#1f77c4" stroke-width="0.45"/><polyline points="273.26,78.5 274.05,81.7 274.85,84.08 275.65,86.21 276.44,88.21 277.24,90.11 278.04,91.93 278.83,93.7 279.63,95.41 280.16,93.7 280.68,91.93 281.2,90.11 281.73,88.21 282.25,86.21 282.78,84.08 283.3,81.7 283.83,78.5" fill="none" stroke="#1f77c4" stroke-width="0.45"/><polygon points="293.39,78.5 293.93,83.55 294.48,87.29 295.02,90.65 295.57,93.8 296.11,96.79 296.66,99.66 297.2,102.43 297.75,105.13 298.52,102.43 299.3,99.66 300.08,96.79 300.85,93.8 301.63,90.65 302.4,87.29 303.18,83.55 303.96,78.5" fill="#1f77c4" fill-opacity="0.85" stroke="#1f77c4" stroke-width="0.6" stroke-linejoin="round"/><polyline points="293.39,78.5 293.93,79.76 294.48,80.7 295.02,81.54 295.57,82.32 296.11,83.07 296.66,83.79 297.2,84.48 297.75,85.16 298.52,84.48 299.3,83.79 300.08,83.07 300.85,82.32 301.63,81.54 302.4,80.7 303.18,79.76 303.96,78.5" fill="none" stroke="#1f77c4" stroke-width="0.45"/><polyline points="293.39,78.5 293.93,80.77 294.48,82.45 295.02,83.97 295.57,85.38 296.11,86.73 296.66,88.02 297.2,89.27 297.75,90.48 298.52,89.27 299.3,88.02 300.08,86.73 300.85,85.38 301.63,83.97 302.4,82.45 303.18,80.77 303.96,78.5" fill="none" stroke="#1f77c4" stroke-width="0.45"/><polyline points="293.39,78.5 293.93,81.78 294.48,84.21 295.02,86.4 295.57,88.44 296.11,90.39 296.66,92.25 297.2,94.06 297.75,95.81 298.52,94.06 299.3,92.25 300.08,90.39 300.85,88.44 301.63,86.4 302.4,84.21 303.18,81.78 303.96,78.5" fill="none" stroke="#1f77c4" stroke-width="0.45"/><polyline points="293.39,78.5 293.93,82.79 294.48,85.97 295.02,88.83 295.57,91.5 296.11,94.04 296.66,96.48 297.2,98.84 297.75,101.14 298.52,98.84 299.3,96.48 300.08,94.04 300.85,91.5 301.63,88.83 302.4,85.97 303.18,82.79 303.96,78.5" fill="none" stroke="#1f77c4" stroke-width="0.45"/>
<text class="xl" x="295.4" y="117.5" text-anchor="middle"><tspan>n</tspan><tspan class="sub" dy="1">x</tspan></text>
<text class="yl" transform="translate(218.3,64.3) rotate(-90)" text-anchor="middle">G<tspan class="sub" dy="1">k,k,p</tspan></text>
<g stroke="#f0f0f0" stroke-width="0.6"><line x1="402.91" y1="23.2" x2="402.91" y2="105.3"/><line x1="409.62" y1="23.2" x2="409.62" y2="105.3"/><line x1="416.33" y1="23.2" x2="416.33" y2="105.3"/><line x1="423.04" y1="23.2" x2="423.04" y2="105.3"/><line x1="429.75" y1="23.2" x2="429.75" y2="105.3"/><line x1="436.46" y1="23.2" x2="436.46" y2="105.3"/><line x1="443.17" y1="23.2" x2="443.17" y2="105.3"/><line x1="449.88" y1="23.2" x2="449.88" y2="105.3"/><line x1="456.59" y1="23.2" x2="456.59" y2="105.3"/><line x1="463.3" y1="23.2" x2="463.3" y2="105.3"/><line x1="470.01" y1="23.2" x2="470.01" y2="105.3"/><line x1="476.72" y1="23.2" x2="476.72" y2="105.3"/><line x1="483.43" y1="23.2" x2="483.43" y2="105.3"/><line x1="490.14" y1="23.2" x2="490.14" y2="105.3"/><line x1="496.85" y1="23.2" x2="496.85" y2="105.3"/><line x1="503.56" y1="23.2" x2="503.56" y2="105.3"/><line x1="510.27" y1="23.2" x2="510.27" y2="105.3"/><line x1="516.98" y1="23.2" x2="516.98" y2="105.3"/><line x1="523.69" y1="23.2" x2="523.69" y2="105.3"/><line x1="396.2" y1="85.03" x2="530.4" y2="85.03"/><line x1="396.2" y1="64.5" x2="530.4" y2="64.5"/><line x1="396.2" y1="43.98" x2="530.4" y2="43.98"/></g>
<rect x="396.2" y="23.2" width="134.2" height="82.1" fill="none" stroke="#d0d0d0" stroke-width="0.6"/>
<g stroke="#d0d0d0" stroke-width="0.5"><line x1="396.2" y1="105.3" x2="396.2" y2="104"/><line x1="423.04" y1="105.3" x2="423.04" y2="104"/><line x1="449.88" y1="105.3" x2="449.88" y2="104"/><line x1="476.72" y1="105.3" x2="476.72" y2="104"/><line x1="503.56" y1="105.3" x2="503.56" y2="104"/><line x1="530.4" y1="105.3" x2="530.4" y2="104"/><line x1="396.2" y1="105.55" x2="397.5" y2="105.55"/><line x1="396.2" y1="85.03" x2="397.5" y2="85.03"/><line x1="396.2" y1="64.5" x2="397.5" y2="64.5"/><line x1="396.2" y1="43.98" x2="397.5" y2="43.98"/><line x1="396.2" y1="23.45" x2="397.5" y2="23.45"/></g>
<g class="tl"><text x="396.2" y="111.2" text-anchor="middle">0</text><text x="423.04" y="111.2" text-anchor="middle">20</text><text x="449.88" y="111.2" text-anchor="middle">40</text><text x="476.72" y="111.2" text-anchor="middle">60</text><text x="503.56" y="111.2" text-anchor="middle">80</text><text x="530.4" y="111.2" text-anchor="middle">100</text><text x="394.6" y="106.95" text-anchor="end">-1</text><text x="394.6" y="86.43" text-anchor="end">-0.5</text><text x="394.6" y="65.9" text-anchor="end">0</text><text x="394.6" y="45.38" text-anchor="end">0.5</text><text x="394.6" y="24.85" text-anchor="end">1</text></g>
<polygon points="439.28,64.5 439.5,63.82 439.71,62.94 439.93,61.97 440.15,60.93 440.37,59.83 440.59,58.69 440.8,57.51 441.02,56.29 441.24,57.51 441.46,58.69 441.68,59.83 441.9,60.93 442.11,61.97 442.33,62.94 442.55,63.82 442.77,64.5" fill="#1f77c4" fill-opacity="0.4"/>
<polygon points="443.98,64.5 444.19,63.32 444.41,61.78 444.63,60.07 444.85,58.25 445.07,56.33 445.28,54.33 445.5,52.26 445.72,50.13 445.94,52.26 446.16,54.33 446.37,56.33 446.59,58.25 446.81,60.07 447.03,61.78 447.25,63.32 447.46,64.5" fill="#1f77c4" fill-opacity="0.4"/>
<polygon points="448.67,64.5 448.89,62.81 449.11,60.61 449.33,58.17 449.54,55.57 449.76,52.82 449.98,49.97 450.2,47.01 450.42,43.98 450.63,47.01 450.85,49.97 451.07,52.82 451.29,55.57 451.51,58.17 451.73,60.61 451.94,62.81 452.16,64.5" fill="#1f77c4" fill-opacity="0.4"/>
<polygon points="453.37,64.5 453.59,62.64 453.81,60.22 454.02,57.54 454.24,54.67 454.46,51.66 454.68,48.51 454.9,45.27 455.11,41.92 455.33,45.27 455.55,48.51 455.77,51.66 455.99,54.67 456.2,57.54 456.42,60.22 456.64,62.64 456.86,64.5" fill="#1f77c4" fill-opacity="0.4"/>
<polygon points="458.2,64.5 458.42,62.81 458.64,60.61 458.85,58.17 459.07,55.57 459.29,52.82 459.51,49.97 459.73,47.01 459.94,43.98 460.16,47.01 460.38,49.97 460.6,52.82 460.82,55.57 461.04,58.17 461.25,60.61 461.47,62.81 461.69,64.5" fill="#1f77c4" fill-opacity="0.4"/>
<polygon points="462.9,64.5 463.12,63.32 463.33,61.78 463.55,60.07 463.77,58.25 463.99,56.33 464.21,54.33 464.42,52.26 464.64,50.13 464.86,52.26 465.08,54.33 465.3,56.33 465.51,58.25 465.73,60.07 465.95,61.78 466.17,63.32 466.39,64.5" fill="#1f77c4" fill-opacity="0.4"/>
<polygon points="467.59,64.5 467.81,63.82 468.03,62.94 468.25,61.97 468.47,60.93 468.68,59.83 468.9,58.69 469.12,57.51 469.34,56.29 469.56,57.51 469.78,58.69 469.99,59.83 470.21,60.93 470.43,61.97 470.65,62.94 470.87,63.82 471.08,64.5" fill="#1f77c4" fill-opacity="0.4"/>
<g fill="none" stroke="#1f77c4" stroke-width="0.9" stroke-linejoin="round"><polyline points="397.54,64.5 398.88,64.5 400.23,64.5 401.57,64.5 402.91,64.5 404.25,64.5 405.59,64.5 406.94,64.5 408.28,64.5 409.62,64.5 410.96,64.5 412.3,64.5 413.65,64.5 414.99,64.5 416.33,64.5 417.67,64.5 419.01,64.5 420.36,64.5 421.7,64.5 423.04,64.5 424.38,64.5 425.72,64.5 427.07,64.5 428.41,64.5 429.75,64.5 431.09,64.5 432.43,64.5 433.78,64.5 435.12,64.5 436.46,64.5 437.8,64.5 439.14,64.5 440.49,64.5 441.83,64.5 443.17,64.5 444.51,64.5 445.85,64.5 447.2,64.5 448.54,64.5 449.88,64.5 451.22,64.5 452.56,64.5 453.91,64.5 455.25,64.5 456.59,64.5 457.93,64.5 459.27,64.5 460.62,64.5 461.96,64.5 463.3,64.5 464.64,64.5 465.98,64.5 467.33,64.5 468.67,64.5 470.01,64.5 471.35,64.5 472.69,64.5 474.04,64.5 475.38,64.5 476.72,64.5 478.06,64.5 479.4,64.5 480.75,64.5 482.09,64.5 483.43,64.5 484.77,64.5 486.11,64.5 487.46,64.5 488.8,64.5 490.14,64.5 491.48,64.5 492.82,64.5 494.17,64.5 495.51,64.5 496.85,64.5 498.19,64.5 499.53,64.5 500.88,64.5 502.22,64.5 503.56,64.5 504.9,64.5 506.24,64.5 507.59,64.5 508.93,64.5 510.27,64.5"/></g><g fill="none" stroke="#f0141e" stroke-width="1.05" stroke-linejoin="round"><polyline points="397.54,64.5 398.21,64.5 398.88,64.5 399.56,64.5 400.23,64.5 400.9,64.5 401.57,64.5 402.24,64.5 402.91,64.5 403.58,64.5 404.25,64.5 404.92,64.5 405.59,64.5 406.26,64.5 406.94,64.5 407.61,64.5 408.28,64.5 408.95,64.5 409.62,64.5 410.29,64.5 410.96,64.5 411.63,64.5 412.3,64.5 412.97,64.5 413.65,64.5 414.32,64.5 414.99,64.5 415.66,64.5 416.33,64.5 417,64.5 417.67,64.5 418.34,64.5 419.01,64.5 419.69,64.5 420.36,64.5 421.03,64.5 421.7,64.5 422.37,64.5 423.04,64.5 423.71,64.5 424.38,64.5 425.05,64.5 425.72,64.5 426.39,64.5 427.07,64.5 427.74,64.5 428.41,64.5 429.08,64.5 429.75,64.5 430.42,64.5 431.09,64.5 431.76,64.5 432.43,64.5 433.11,64.5 433.78,64.5 434.45,64.5 435.12,64.5 435.79,64.5 436.46,64.5 437.13,64.5 437.8,64.5 438.47,64.5 439.14,64.5 439.81,64.5 440.49,64.5 441.16,64.5 441.83,64.5 442.5,64.5 443.17,64.5 443.84,64.5 444.51,64.5 445.18,64.5 445.85,64.5 446.52,64.5 447.2,64.5 447.87,64.5 448.54,64.5 449.21,64.5 449.88,64.5 450.55,64.5 451.22,64.5 451.89,64.5 452.56,64.5 453.24,64.5 453.91,64.5 454.58,64.5 455.25,64.5 455.92,64.5 456.59,64.5 457.26,64.5 457.93,64.5 458.6,64.5 459.27,64.5 459.94,64.5 460.62,64.5 461.29,64.5 461.96,64.5 462.63,64.5 463.3,64.5 463.97,64.5 464.64,64.5 465.31,64.5 465.98,64.5 466.65,64.5 467.33,64.5 468,64.5 468.67,64.5 469.34,64.5 470.01,64.5 470.68,64.5 471.35,64.5 472.02,64.5 472.69,64.5 473.37,64.5 474.04,64.5 474.71,64.5 475.38,64.5 476.05,64.5 476.72,64.5 477.39,64.5 478.06,64.5 478.73,64.5 479.4,64.5 480.07,64.5 480.75,64.5 481.42,64.5 482.09,64.5 482.76,64.5 483.43,64.5"/><polyline points="397.54,64.5 398.21,64.5 398.88,64.5 399.56,64.5 400.23,64.5 400.9,64.5 401.57,64.5 402.24,64.5 402.91,64.5 403.58,64.5 404.25,64.5 404.92,64.49 405.59,64.49 406.26,64.49 406.94,64.49 407.61,64.49 408.28,64.48 408.95,64.48 409.62,64.47 410.29,64.47 410.96,64.46 411.63,64.45 412.3,64.44 412.97,64.42 413.65,64.41 414.32,64.39 414.99,64.37 415.66,64.34 416.33,64.31 417,64.27 417.67,64.23 418.34,64.18 419.01,64.12 419.69,64.05 420.36,63.97 421.03,63.88 421.7,63.77 422.37,63.65 423.04,63.51 423.71,63.42 424.38,63.39 425.05,63.36 425.72,63.33 426.39,63.3 427.07,63.27 427.74,63.23 428.41,63.2 429.08,63.17 429.75,63.14 430.42,63.1 431.09,63.07 431.76,63.04 432.43,63.01 433.11,62.97 433.78,62.94 434.45,62.91 435.12,62.88 435.79,62.85 436.46,62.82 437.13,62.79 437.8,62.76 438.47,62.73 439.14,62.7 439.81,62.67 440.49,62.64 441.16,62.62 441.83,62.59 442.5,62.57 443.17,62.54 443.84,62.52 444.51,62.5 445.18,62.48 445.85,62.46 446.52,62.44 447.2,62.43 447.87,62.41 448.54,62.4 449.21,62.38 449.88,62.37 450.55,62.36 451.22,62.35 451.89,62.35 452.56,62.34 453.24,62.34 453.91,62.34 454.58,62.34 455.25,62.35 455.92,62.35 456.59,62.36 457.26,62.37 457.93,62.38 458.6,62.39 459.27,62.41 459.94,62.42 460.62,62.44 461.29,62.46 461.96,62.48 462.63,62.5 463.3,62.52 463.97,62.54 464.64,62.56 465.31,62.59 465.98,62.61 466.65,62.64 467.33,62.67 468,62.69 468.67,62.72 469.34,62.75 470.01,62.78 470.68,62.81 471.35,62.84 472.02,62.87 472.69,62.9 473.37,62.94 474.04,62.97 474.71,63 475.38,63.03 476.05,63.06 476.72,63.1 477.39,63.13 478.06,63.16 478.73,63.19 479.4,63.23 480.07,63.26 480.75,63.29 481.42,63.32 482.09,63.36 482.76,63.39 483.43,63.42"/><polyline points="397.54,64.5 398.21,64.5 398.88,64.5 399.56,64.5 400.23,64.5 400.9,64.5 401.57,64.5 402.24,64.5 402.91,64.5 403.58,64.5 404.25,64.5 404.92,64.49 405.59,64.49 406.26,64.49 406.94,64.49 407.61,64.49 408.28,64.48 408.95,64.48 409.62,64.47 410.29,64.47 410.96,64.46 411.63,64.45 412.3,64.44 412.97,64.42 413.65,64.41 414.32,64.39 414.99,64.37 415.66,64.34 416.33,64.31 417,64.27 417.67,64.23 418.34,64.18 419.01,64.12 419.69,64.05 420.36,63.97 421.03,63.88 421.7,63.77 422.37,63.65 423.04,63.51 423.71,63.35 424.38,63.17 425.05,62.96 425.72,62.74 426.39,62.67 427.07,62.6 427.74,62.53 428.41,62.45 429.08,62.38 429.75,62.3 430.42,62.22 431.09,62.14 431.76,62.07 432.43,61.99 433.11,61.91 433.78,61.83 434.45,61.75 435.12,61.67 435.79,61.59 436.46,61.51 437.13,61.43 437.8,61.35 438.47,61.27 439.14,61.19 439.81,61.12 440.49,61.05 441.16,60.97 441.83,60.9 442.5,60.83 443.17,60.77 443.84,60.71 444.51,60.64 445.18,60.59 445.85,60.53 446.52,60.48 447.2,60.43 447.87,60.38 448.54,60.34 449.21,60.31 449.88,60.27 450.55,60.24 451.22,60.22 451.89,60.2 452.56,60.19 453.24,60.18 453.91,60.18 454.58,60.19 455.25,60.2 455.92,60.22 456.59,60.24 457.26,60.27 457.93,60.3 458.6,60.34 459.27,60.38 459.94,60.42 460.62,60.47 461.29,60.52 461.96,60.57 462.63,60.63 463.3,60.69 463.97,60.76 464.64,60.82 465.31,60.89 465.98,60.96 466.65,61.03 467.33,61.1 468,61.18 468.67,61.26 469.34,61.33 470.01,61.41 470.68,61.49 471.35,61.57 472.02,61.65 472.69,61.73 473.37,61.81 474.04,61.89 474.71,61.97 475.38,62.05 476.05,62.13 476.72,62.21 477.39,62.29 478.06,62.36 478.73,62.44 479.4,62.51 480.07,62.59 480.75,62.66 481.42,62.73 482.09,62.92 482.76,63.13 483.43,63.32"/><polyline points="397.54,64.5 398.21,64.5 398.88,64.5 399.56,64.5 400.23,64.5 400.9,64.5 401.57,64.5 402.24,64.5 402.91,64.5 403.58,64.5 404.25,64.5 404.92,64.49 405.59,64.49 406.26,64.49 406.94,64.49 407.61,64.49 408.28,64.48 408.95,64.48 409.62,64.47 410.29,64.47 410.96,64.46 411.63,64.45 412.3,64.44 412.97,64.42 413.65,64.41 414.32,64.39 414.99,64.37 415.66,64.34 416.33,64.31 417,64.27 417.67,64.23 418.34,64.18 419.01,64.12 419.69,64.05 420.36,63.97 421.03,63.88 421.7,63.77 422.37,63.65 423.04,63.51 423.71,63.35 424.38,63.17 425.05,62.96 425.72,62.73 426.39,62.47 427.07,62.19 427.74,62.07 428.41,61.96 429.08,61.84 429.75,61.72 430.42,61.59 431.09,61.47 431.76,61.34 432.43,61.21 433.11,61.08 433.78,60.95 434.45,60.81 435.12,60.68 435.79,60.54 436.46,60.41 437.13,60.27 437.8,60.14 438.47,60 439.14,59.87 439.81,59.73 440.49,59.6 441.16,59.47 441.83,59.35 442.5,59.23 443.17,59.11 443.84,58.99 444.51,58.88 445.18,58.77 445.85,58.67 446.52,58.58 447.2,58.49 447.87,58.4 448.54,58.33 449.21,58.26 449.88,58.2 450.55,58.14 451.22,58.1 451.89,58.06 452.56,58.04 453.24,58.02 453.91,58.02 454.58,58.03 455.25,58.06 455.92,58.09 456.59,58.13 457.26,58.18 457.93,58.24 458.6,58.31 459.27,58.39 459.94,58.47 460.62,58.56 461.29,58.65 461.96,58.75 462.63,58.86 463.3,58.97 463.97,59.08 464.64,59.2 465.31,59.32 465.98,59.45 466.65,59.58 467.33,59.71 468,59.84 468.67,59.97 469.34,60.11 470.01,60.24 470.68,60.38 471.35,60.52 472.02,60.65 472.69,60.79 473.37,60.92 474.04,61.05 474.71,61.19 475.38,61.32 476.05,61.44 476.72,61.57 477.39,61.69 478.06,61.82 478.73,61.93 479.4,62.05 480.07,62.16 480.75,62.41 481.42,62.68 482.09,62.92 482.76,63.13 483.43,63.32"/><polyline points="397.54,64.5 398.21,64.5 398.88,64.5 399.56,64.5 400.23,64.5 400.9,64.5 401.57,64.5 402.24,64.5 402.91,64.5 403.58,64.5 404.25,64.5 404.92,64.49 405.59,64.49 406.26,64.49 406.94,64.49 407.61,64.49 408.28,64.48 408.95,64.48 409.62,64.47 410.29,64.47 410.96,64.46 411.63,64.45 412.3,64.44 412.97,64.42 413.65,64.41 414.32,64.39 414.99,64.37 415.66,64.34 416.33,64.31 417,64.27 417.67,64.23 418.34,64.18 419.01,64.12 419.69,64.05 420.36,63.97 421.03,63.88 421.7,63.77 422.37,63.65 423.04,63.51 423.71,63.35 424.38,63.17 425.05,62.96 425.72,62.73 426.39,62.47 427.07,62.17 427.74,61.84 428.41,61.62 429.08,61.46 429.75,61.3 430.42,61.13 431.09,60.96 431.76,60.78 432.43,60.6 433.11,60.42 433.78,60.23 434.45,60.04 435.12,59.85 435.79,59.66 436.46,59.46 437.13,59.26 437.8,59.07 438.47,58.87 439.14,58.67 439.81,58.47 440.49,58.28 441.16,58.09 441.83,57.9 442.5,57.71 443.17,57.53 443.84,57.36 444.51,57.19 445.18,57.03 445.85,56.87 446.52,56.72 447.2,56.58 447.87,56.46 448.54,56.34 449.21,56.23 449.88,56.13 450.55,56.05 451.22,55.98 451.89,55.93 452.56,55.89 453.24,55.86 453.91,55.86 454.58,55.88 455.25,55.92 455.92,55.97 456.59,56.04 457.26,56.12 457.93,56.21 458.6,56.31 459.27,56.43 459.94,56.56 460.62,56.69 461.29,56.84 461.96,56.99 462.63,57.16 463.3,57.32 463.97,57.5 464.64,57.68 465.31,57.86 465.98,58.05 466.65,58.24 467.33,58.44 468,58.63 468.67,58.83 469.34,59.03 470.01,59.22 470.68,59.42 471.35,59.62 472.02,59.81 472.69,60 473.37,60.19 474.04,60.38 474.71,60.56 475.38,60.75 476.05,60.92 476.72,61.09 477.39,61.26 478.06,61.43 478.73,61.59 479.4,61.77 480.07,62.11 480.75,62.41 481.42,62.68 482.09,62.92 482.76,63.13 483.43,63.32"/><polyline points="397.54,64.5 398.21,64.5 398.88,64.5 399.56,64.5 400.23,64.5 400.9,64.5 401.57,64.5 402.24,64.5 402.91,64.5 403.58,64.5 404.25,64.5 404.92,64.49 405.59,64.49 406.26,64.49 406.94,64.49 407.61,64.49 408.28,64.48 408.95,64.48 409.62,64.47 410.29,64.47 410.96,64.46 411.63,64.45 412.3,64.44 412.97,64.42 413.65,64.41 414.32,64.39 414.99,64.37 415.66,64.34 416.33,64.31 417,64.27 417.67,64.23 418.34,64.18 419.01,64.12 419.69,64.05 420.36,63.97 421.03,63.88 421.7,63.77 422.37,63.65 423.04,63.51 423.71,63.35 424.38,63.17 425.05,62.96 425.72,62.73 426.39,62.47 427.07,62.17 427.74,61.84 428.41,61.47 429.08,61.19 429.75,60.99 430.42,60.78 431.09,60.56 431.76,60.34 432.43,60.11 433.11,59.88 433.78,59.64 434.45,59.39 435.12,59.14 435.79,58.89 436.46,58.63 437.13,58.37 437.8,58.11 438.47,57.85 439.14,57.58 439.81,57.32 440.49,57.06 441.16,56.8 441.83,56.54 442.5,56.28 443.17,56.04 443.84,55.8 444.51,55.56 445.18,55.34 445.85,55.12 446.52,54.91 447.2,54.72 447.87,54.54 448.54,54.37 449.21,54.22 449.88,54.09 450.55,53.97 451.22,53.87 451.89,53.79 452.56,53.74 453.24,53.7 453.91,53.7 454.58,53.73 455.25,53.78 455.92,53.85 456.59,53.95 457.26,54.06 457.93,54.19 458.6,54.34 459.27,54.5 459.94,54.68 460.62,54.87 461.29,55.08 461.96,55.29 462.63,55.52 463.3,55.75 463.97,55.99 464.64,56.23 465.31,56.49 465.98,56.74 466.65,57 467.33,57.27 468,57.53 468.67,57.79 469.34,58.06 470.01,58.32 470.68,58.58 471.35,58.84 472.02,59.09 472.69,59.34 473.37,59.59 474.04,59.83 474.71,60.07 475.38,60.3 476.05,60.52 476.72,60.74 477.39,60.95 478.06,61.15 478.73,61.39 479.4,61.77 480.07,62.11 480.75,62.41 481.42,62.68 482.09,62.92 482.76,63.13 483.43,63.32"/><polyline points="397.54,64.5 398.21,64.5 398.88,64.5 399.56,64.5 400.23,64.5 400.9,64.5 401.57,64.5 402.24,64.5 402.91,64.5 403.58,64.5 404.25,64.5 404.92,64.49 405.59,64.49 406.26,64.49 406.94,64.49 407.61,64.49 408.28,64.48 408.95,64.48 409.62,64.47 410.29,64.47 410.96,64.46 411.63,64.45 412.3,64.44 412.97,64.42 413.65,64.41 414.32,64.39 414.99,64.37 415.66,64.34 416.33,64.31 417,64.27 417.67,64.23 418.34,64.18 419.01,64.12 419.69,64.05 420.36,63.97 421.03,63.88 421.7,63.77 422.37,63.65 423.04,63.51 423.71,63.35 424.38,63.17 425.05,62.96 425.72,62.73 426.39,62.47 427.07,62.17 427.74,61.84 428.41,61.47 429.08,61.06 429.75,60.76 430.42,60.51 431.09,60.26 431.76,59.99 432.43,59.72 433.11,59.43 433.78,59.14 434.45,58.84 435.12,58.53 435.79,58.22 436.46,57.9 437.13,57.58 437.8,57.25 438.47,56.92 439.14,56.58 439.81,56.25 440.49,55.91 441.16,55.58 441.83,55.25 442.5,54.93 443.17,54.6 443.84,54.29 444.51,53.99 445.18,53.69 445.85,53.41 446.52,53.14 447.2,52.89 447.87,52.65 448.54,52.43 449.21,52.23 449.88,52.05 450.55,51.9 451.22,51.77 451.89,51.66 452.56,51.59 453.24,51.55 453.91,51.54 454.58,51.58 455.25,51.65 455.92,51.74 456.59,51.87 457.26,52.02 457.93,52.19 458.6,52.39 459.27,52.6 459.94,52.84 460.62,53.09 461.29,53.36 461.96,53.64 462.63,53.93 463.3,54.23 463.97,54.54 464.64,54.86 465.31,55.19 465.98,55.51 466.65,55.85 467.33,56.18 468,56.52 468.67,56.85 469.34,57.18 470.01,57.51 470.68,57.84 471.35,58.16 472.02,58.47 472.69,58.78 473.37,59.08 474.04,59.37 474.71,59.66 475.38,59.94 476.05,60.2 476.72,60.46 477.39,60.71 478.06,60.98 478.73,61.39 479.4,61.77 480.07,62.11 480.75,62.41 481.42,62.68 482.09,62.92 482.76,63.13 483.43,63.32"/><polyline points="397.54,64.5 398.21,64.5 398.88,64.5 399.56,64.5 400.23,64.5 400.9,64.5 401.57,64.5 402.24,64.5 402.91,64.5 403.58,64.5 404.25,64.5 404.92,64.49 405.59,64.49 406.26,64.49 406.94,64.49 407.61,64.49 408.28,64.48 408.95,64.48 409.62,64.47 410.29,64.47 410.96,64.46 411.63,64.45 412.3,64.44 412.97,64.42 413.65,64.41 414.32,64.39 414.99,64.37 415.66,64.34 416.33,64.31 417,64.27 417.67,64.23 418.34,64.18 419.01,64.12 419.69,64.05 420.36,63.97 421.03,63.88 421.7,63.77 422.37,63.65 423.04,63.51 423.71,63.35 424.38,63.17 425.05,62.96 425.72,62.73 426.39,62.47 427.07,62.17 427.74,61.84 428.41,61.47 429.08,61.06 429.75,60.61 430.42,60.31 431.09,60.02 431.76,59.71 432.43,59.39 433.11,59.06 433.78,58.72 434.45,58.37 435.12,58.01 435.79,57.63 436.46,57.25 437.13,56.86 437.8,56.47 438.47,56.07 439.14,55.66 439.81,55.25 440.49,54.84 441.16,54.44 441.83,54.03 442.5,53.63 443.17,53.23 443.84,52.84 444.51,52.46 445.18,52.1 445.85,51.74 446.52,51.4 447.2,51.08 447.87,50.78 448.54,50.51 449.21,50.26 449.88,50.03 450.55,49.83 451.22,49.67 451.89,49.54 452.56,49.44 453.24,49.39 453.91,49.38 454.58,49.43 455.25,49.52 455.92,49.64 456.59,49.8 457.26,49.99 457.93,50.21 458.6,50.46 459.27,50.73 459.94,51.02 460.62,51.34 461.29,51.67 461.96,52.02 462.63,52.39 463.3,52.77 463.97,53.15 464.64,53.55 465.31,53.95 465.98,54.35 466.65,54.76 467.33,55.17 468,55.58 468.67,55.99 469.34,56.39 470.01,56.78 470.68,57.17 471.35,57.56 472.02,57.93 472.69,58.3 473.37,58.65 474.04,59 474.71,59.33 475.38,59.65 476.05,59.96 476.72,60.26 477.39,60.54 478.06,60.98 478.73,61.39 479.4,61.77 480.07,62.11 480.75,62.41 481.42,62.68 482.09,62.92 482.76,63.13 483.43,63.32"/><polyline points="397.54,64.5 398.21,64.5 398.88,64.5 399.56,64.5 400.23,64.5 400.9,64.5 401.57,64.5 402.24,64.5 402.91,64.5 403.58,64.5 404.25,64.5 404.92,64.49 405.59,64.49 406.26,64.49 406.94,64.49 407.61,64.49 408.28,64.48 408.95,64.48 409.62,64.47 410.29,64.47 410.96,64.46 411.63,64.45 412.3,64.44 412.97,64.42 413.65,64.41 414.32,64.39 414.99,64.37 415.66,64.34 416.33,64.31 417,64.27 417.67,64.23 418.34,64.18 419.01,64.12 419.69,64.05 420.36,63.97 421.03,63.88 421.7,63.77 422.37,63.65 423.04,63.51 423.71,63.35 424.38,63.17 425.05,62.96 425.72,62.73 426.39,62.47 427.07,62.17 427.74,61.84 428.41,61.47 429.08,61.06 429.75,60.61 430.42,60.16 431.09,59.84 431.76,59.49 432.43,59.13 433.11,58.76 433.78,58.37 434.45,57.96 435.12,57.55 435.79,57.11 436.46,56.67 437.13,56.22 437.8,55.76 438.47,55.29 439.14,54.81 439.81,54.33 440.49,53.84 441.16,53.35 441.83,52.87 442.5,52.39 443.17,51.91 443.84,51.44 444.51,50.98 445.18,50.54 445.85,50.11 446.52,49.7 447.2,49.31 447.87,48.94 448.54,48.6 449.21,48.3 449.88,48.02 450.55,47.78 451.22,47.58 451.89,47.41 452.56,47.3 453.24,47.23 453.91,47.22 454.58,47.28 455.25,47.39 455.92,47.54 456.59,47.73 457.26,47.97 457.93,48.24 458.6,48.54 459.27,48.87 459.94,49.23 460.62,49.62 461.29,50.02 461.96,50.45 462.63,50.89 463.3,51.35 463.97,51.81 464.64,52.29 465.31,52.77 465.98,53.26 466.65,53.74 467.33,54.23 468,54.71 468.67,55.19 469.34,55.66 470.01,56.13 470.68,56.58 471.35,57.03 472.02,57.46 472.69,57.88 473.37,58.29 474.04,58.68 474.71,59.06 475.38,59.42 476.05,59.77 476.72,60.1 477.39,60.51 478.06,60.98 478.73,61.39 479.4,61.77 480.07,62.11 480.75,62.41 481.42,62.68 482.09,62.92 482.76,63.13 483.43,63.32"/><polyline points="397.54,64.5 398.21,64.5 398.88,64.5 399.56,64.5 400.23,64.5 400.9,64.5 401.57,64.5 402.24,64.5 402.91,64.5 403.58,64.5 404.25,64.5 404.92,64.49 405.59,64.49 406.26,64.49 406.94,64.49 407.61,64.49 408.28,64.48 408.95,64.48 409.62,64.47 410.29,64.47 410.96,64.46 411.63,64.45 412.3,64.44 412.97,64.42 413.65,64.41 414.32,64.39 414.99,64.37 415.66,64.34 416.33,64.31 417,64.27 417.67,64.23 418.34,64.18 419.01,64.12 419.69,64.05 420.36,63.97 421.03,63.88 421.7,63.77 422.37,63.65 423.04,63.51 423.71,63.35 424.38,63.17 425.05,62.96 425.72,62.73 426.39,62.47 427.07,62.17 427.74,61.84 428.41,61.47 429.08,61.06 429.75,60.61 430.42,60.11 431.09,59.7 431.76,59.32 432.43,58.92 433.11,58.5 433.78,58.07 434.45,57.61 435.12,57.14 435.79,56.66 436.46,56.15 437.13,55.64 437.8,55.11 438.47,54.56 439.14,54.01 439.81,53.46 440.49,52.89 441.16,52.33 441.83,51.76 442.5,51.19 443.17,50.64 443.84,50.08 444.51,49.54 445.18,49.02 445.85,48.51 446.52,48.02 447.2,47.56 447.87,47.12 448.54,46.72 449.21,46.35 449.88,46.02 450.55,45.73 451.22,45.49 451.89,45.29 452.56,45.15 453.24,45.07 453.91,45.06 454.58,45.13 455.25,45.26 455.92,45.44 456.59,45.68 457.26,45.96 457.93,46.28 458.6,46.64 459.27,47.04 459.94,47.47 460.62,47.93 461.29,48.41 461.96,48.91 462.63,49.44 463.3,49.97 463.97,50.52 464.64,51.08 465.31,51.65 465.98,52.21 466.65,52.78 467.33,53.34 468,53.9 468.67,54.46 469.34,55 470.01,55.53 470.68,56.05 471.35,56.56 472.02,57.05 472.69,57.52 473.37,57.98 474.04,58.42 474.71,58.84 475.38,59.24 476.05,59.62 476.72,60 477.39,60.51 478.06,60.98 478.73,61.39 479.4,61.77 480.07,62.11 480.75,62.41 481.42,62.68 482.09,62.92 482.76,63.13 483.43,63.32"/><polyline points="397.54,64.5 398.21,64.5 398.88,64.5 399.56,64.5 400.23,64.5 400.9,64.5 401.57,64.5 402.24,64.5 402.91,64.5 403.58,64.5 404.25,64.5 404.92,64.49 405.59,64.49 406.26,64.49 406.94,64.49 407.61,64.49 408.28,64.48 408.95,64.48 409.62,64.47 410.29,64.47 410.96,64.46 411.63,64.45 412.3,64.44 412.97,64.42 413.65,64.41 414.32,64.39 414.99,64.37 415.66,64.34 416.33,64.31 417,64.27 417.67,64.23 418.34,64.18 419.01,64.12 419.69,64.05 420.36,63.97 421.03,63.88 421.7,63.77 422.37,63.65 423.04,63.51 423.71,63.35 424.38,63.17 425.05,62.96 425.72,62.73 426.39,62.47 427.07,62.17 427.74,61.84 428.41,61.47 429.08,61.06 429.75,60.61 430.42,60.11 431.09,59.6 431.76,59.18 432.43,58.75 433.11,58.29 433.78,57.81 434.45,57.31 435.12,56.79 435.79,56.25 436.46,55.69 437.13,55.11 437.8,54.51 438.47,53.9 439.14,53.27 439.81,52.64 440.49,52 441.16,51.35 441.83,50.7 442.5,50.05 443.17,49.41 443.84,48.77 444.51,48.14 445.18,47.53 445.85,46.94 446.52,46.37 447.2,45.83 447.87,45.32 448.54,44.85 449.21,44.42 449.88,44.03 450.55,43.69 451.22,43.4 451.89,43.17 452.56,43.01 453.24,42.91 453.91,42.9 454.58,42.98 455.25,43.14 455.92,43.35 456.59,43.63 457.26,43.96 457.93,44.33 458.6,44.76 459.27,45.22 459.94,45.73 460.62,46.26 461.29,46.82 461.96,47.41 462.63,48.02 463.3,48.64 463.97,49.28 464.64,49.92 465.31,50.57 465.98,51.22 466.65,51.87 467.33,52.51 468,53.15 468.67,53.77 469.34,54.39 470.01,54.99 470.68,55.57 471.35,56.14 472.02,56.68 472.69,57.21 473.37,57.71 474.04,58.2 474.71,58.66 475.38,59.1 476.05,59.51 476.72,60 477.39,60.51 478.06,60.98 478.73,61.39 479.4,61.77 480.07,62.11 480.75,62.41 481.42,62.68 482.09,62.92 482.76,63.13 483.43,63.32"/><polyline points="397.54,64.5 398.21,64.5 398.88,64.5 399.56,64.5 400.23,64.5 400.9,64.5 401.57,64.5 402.24,64.5 402.91,64.5 403.58,64.5 404.25,64.5 404.92,64.49 405.59,64.49 406.26,64.49 406.94,64.49 407.61,64.49 408.28,64.48 408.95,64.48 409.62,64.47 410.29,64.47 410.96,64.46 411.63,64.45 412.3,64.44 412.97,64.42 413.65,64.41 414.32,64.39 414.99,64.37 415.66,64.34 416.33,64.31 417,64.27 417.67,64.23 418.34,64.18 419.01,64.12 419.69,64.05 420.36,63.97 421.03,63.88 421.7,63.77 422.37,63.65 423.04,63.51 423.71,63.35 424.38,63.17 425.05,62.96 425.72,62.73 426.39,62.47 427.07,62.17 427.74,61.84 428.41,61.47 429.08,61.06 429.75,60.61 430.42,60.11 431.09,59.56 431.76,59.08 432.43,58.61 433.11,58.12 433.78,57.6 434.45,57.05 435.12,56.48 435.79,55.88 436.46,55.27 437.13,54.62 437.8,53.96 438.47,53.28 439.14,52.58 439.81,51.87 440.49,51.15 441.16,50.42 441.83,49.69 442.5,48.95 443.17,48.22 443.84,47.49 444.51,46.78 445.18,46.08 445.85,45.4 446.52,44.75 447.2,44.13 447.87,43.54 448.54,42.99 449.21,42.5 449.88,42.05 450.55,41.65 451.22,41.32 451.89,41.06 452.56,40.87 453.24,40.76 453.91,40.74 454.58,40.84 455.25,41.01 455.92,41.26 456.59,41.58 457.26,41.96 457.93,42.4 458.6,42.89 459.27,43.43 459.94,44.01 460.62,44.62 461.29,45.27 461.96,45.94 462.63,46.63 463.3,47.35 463.97,48.07 464.64,48.8 465.31,49.54 465.98,50.27 466.65,51 467.33,51.73 468,52.44 468.67,53.14 469.34,53.83 470.01,54.49 470.68,55.14 471.35,55.76 472.02,56.36 472.69,56.94 473.37,57.49 474.04,58.02 474.71,58.52 475.38,58.99 476.05,59.44 476.72,60 477.39,60.51 478.06,60.98 478.73,61.39 479.4,61.77 480.07,62.11 480.75,62.41 481.42,62.68 482.09,62.92 482.76,63.13 483.43,63.32"/><polyline points="397.54,64.5 398.21,64.5 398.88,64.5 399.56,64.5 400.23,64.5 400.9,64.5 401.57,64.5 402.24,64.5 402.91,64.5 403.58,64.5 404.25,64.5 404.92,64.49 405.59,64.49 406.26,64.49 406.94,64.49 407.61,64.49 408.28,64.48 408.95,64.48 409.62,64.47 410.29,64.47 410.96,64.46 411.63,64.45 412.3,64.44 412.97,64.42 413.65,64.41 414.32,64.39 414.99,64.37 415.66,64.34 416.33,64.31 417,64.27 417.67,64.23 418.34,64.18 419.01,64.12 419.69,64.05 420.36,63.97 421.03,63.88 421.7,63.77 422.37,63.65 423.04,63.51 423.71,63.35 424.38,63.17 425.05,62.96 425.72,62.73 426.39,62.47 427.07,62.17 427.74,61.84 428.41,61.47 429.08,61.06 429.75,60.61 430.42,60.11 431.09,59.56 431.76,59.01 432.43,58.51 433.11,57.98 433.78,57.42 434.45,56.83 435.12,56.21 435.79,55.56 436.46,54.89 437.13,54.18 437.8,53.46 438.47,52.71 439.14,51.94 439.81,51.15 440.49,50.35 441.16,49.53 441.83,48.71 442.5,47.89 443.17,47.07 443.84,46.25 444.51,45.44 445.18,44.65 445.85,43.89 446.52,43.15 447.2,42.44 447.87,41.78 448.54,41.16 449.21,40.59 449.88,40.07 450.55,39.63 451.22,39.25 451.89,38.94 452.56,38.73 453.24,38.6 453.91,38.59 454.58,38.69 455.25,38.89 455.92,39.18 456.59,39.54 457.26,39.98 457.93,40.48 458.6,41.04 459.27,41.65 459.94,42.31 460.62,43 461.29,43.74 461.96,44.5 462.63,45.28 463.3,46.09 463.97,46.9 464.64,47.72 465.31,48.55 465.98,49.37 466.65,50.18 467.33,50.99 468,51.78 468.67,52.55 469.34,53.31 470.01,54.04 470.68,54.75 471.35,55.43 472.02,56.08 472.69,56.71 473.37,57.3 474.04,57.87 474.71,58.4 475.38,58.91 476.05,59.44 476.72,60 477.39,60.51 478.06,60.98 478.73,61.39 479.4,61.77 480.07,62.11 480.75,62.41 481.42,62.68 482.09,62.92 482.76,63.13 483.43,63.32"/><polyline points="397.54,64.5 398.21,64.5 398.88,64.5 399.56,64.5 400.23,64.5 400.9,64.5 401.57,64.5 402.24,64.5 402.91,64.5 403.58,64.5 404.25,64.5 404.92,64.49 405.59,64.49 406.26,64.49 406.94,64.49 407.61,64.49 408.28,64.48 408.95,64.48 409.62,64.47 410.29,64.47 410.96,64.46 411.63,64.45 412.3,64.44 412.97,64.42 413.65,64.41 414.32,64.39 414.99,64.37 415.66,64.34 416.33,64.31 417,64.27 417.67,64.23 418.34,64.18 419.01,64.12 419.69,64.05 420.36,63.97 421.03,63.88 421.7,63.77 422.37,63.65 423.04,63.51 423.71,63.35 424.38,63.17 425.05,62.96 425.72,62.73 426.39,62.47 427.07,62.17 427.74,61.84 428.41,61.47 429.08,61.06 429.75,60.61 430.42,60.11 431.09,59.56 431.76,58.96 432.43,58.42 433.11,57.86 433.78,57.27 434.45,56.64 435.12,55.97 435.79,55.27 436.46,54.54 437.13,53.78 437.8,52.99 438.47,52.17 439.14,51.33 439.81,50.47 440.49,49.58 441.16,48.68 441.83,47.78 442.5,46.86 443.17,45.95 443.84,45.04 444.51,44.14 445.18,43.26 445.85,42.4 446.52,41.57 447.2,40.78 447.87,40.03 448.54,39.33 449.21,38.69 449.88,38.11 450.55,37.6 451.22,37.18 451.89,36.83 452.56,36.59 453.24,36.44 453.91,36.43 454.58,36.55 455.25,36.78 455.92,37.1 456.59,37.51 457.26,38 457.93,38.57 458.6,39.2 459.27,39.89 459.94,40.63 460.62,41.41 461.29,42.23 461.96,43.09 462.63,43.96 463.3,44.86 463.97,45.77 464.64,46.68 465.31,47.59 465.98,48.5 466.65,49.4 467.33,50.29 468,51.16 468.67,52.01 469.34,52.83 470.01,53.63 470.68,54.39 471.35,55.13 472.02,55.83 472.69,56.51 473.37,57.14 474.04,57.75 474.71,58.32 475.38,58.85 476.05,59.44 476.72,60 477.39,60.51 478.06,60.98 478.73,61.39 479.4,61.77 480.07,62.11 480.75,62.41 481.42,62.68 482.09,62.92 482.76,63.13 483.43,63.32"/><polyline points="397.54,64.5 398.21,64.5 398.88,64.5 399.56,64.5 400.23,64.5 400.9,64.5 401.57,64.5 402.24,64.5 402.91,64.5 403.58,64.5 404.25,64.5 404.92,64.49 405.59,64.49 406.26,64.49 406.94,64.49 407.61,64.49 408.28,64.48 408.95,64.48 409.62,64.47 410.29,64.47 410.96,64.46 411.63,64.45 412.3,64.44 412.97,64.42 413.65,64.41 414.32,64.39 414.99,64.37 415.66,64.34 416.33,64.31 417,64.27 417.67,64.23 418.34,64.18 419.01,64.12 419.69,64.05 420.36,63.97 421.03,63.88 421.7,63.77 422.37,63.65 423.04,63.51 423.71,63.35 424.38,63.17 425.05,62.96 425.72,62.73 426.39,62.47 427.07,62.17 427.74,61.84 428.41,61.47 429.08,61.06 429.75,60.61 430.42,60.11 431.09,59.56 431.76,58.96 432.43,58.36 433.11,57.77 433.78,57.14 434.45,56.47 435.12,55.76 435.79,55.02 436.46,54.23 437.13,53.42 437.8,52.56 438.47,51.68 439.14,50.76 439.81,49.82 440.49,48.86 441.16,47.87 441.83,46.88 442.5,45.87 443.17,44.87 443.84,43.86 444.51,42.87 445.18,41.89 445.85,40.94 446.52,40.02 447.2,39.14 447.87,38.3 448.54,37.52 449.21,36.8 449.88,36.15 450.55,35.59 451.22,35.11 451.89,34.72 452.56,34.45 453.24,34.28 453.91,34.27 454.58,34.4 455.25,34.66 455.92,35.02 456.59,35.48 457.26,36.03 457.93,36.67 458.6,37.37 459.27,38.14 459.94,38.96 460.62,39.84 461.29,40.75 461.96,41.7 462.63,42.67 463.3,43.66 463.97,44.67 464.64,45.67 465.31,46.68 465.98,47.68 466.65,48.66 467.33,49.63 468,50.57 468.67,51.5 469.34,52.39 470.01,53.25 470.68,54.07 471.35,54.86 472.02,55.62 472.69,56.33 473.37,57.01 474.04,57.65 474.71,58.25 475.38,58.83 476.05,59.44 476.72,60 477.39,60.51 478.06,60.98 478.73,61.39 479.4,61.77 480.07,62.11 480.75,62.41 481.42,62.68 482.09,62.92 482.76,63.13 483.43,63.32"/><polyline points="397.54,64.5 398.21,64.5 398.88,64.5 399.56,64.5 400.23,64.5 400.9,64.5 401.57,64.5 402.24,64.5 402.91,64.5 403.58,64.5 404.25,64.5 404.92,64.49 405.59,64.49 406.26,64.49 406.94,64.49 407.61,64.49 408.28,64.48 408.95,64.48 409.62,64.47 410.29,64.47 410.96,64.46 411.63,64.45 412.3,64.44 412.97,64.42 413.65,64.41 414.32,64.39 414.99,64.37 415.66,64.34 416.33,64.31 417,64.27 417.67,64.23 418.34,64.18 419.01,64.12 419.69,64.05 420.36,63.97 421.03,63.88 421.7,63.77 422.37,63.65 423.04,63.51 423.71,63.35 424.38,63.17 425.05,62.96 425.72,62.73 426.39,62.47 427.07,62.17 427.74,61.84 428.41,61.47 429.08,61.06 429.75,60.61 430.42,60.11 431.09,59.56 431.76,58.96 432.43,58.32 433.11,57.7 433.78,57.04 434.45,56.33 435.12,55.58 435.79,54.79 436.46,53.96 437.13,53.08 437.8,52.16 438.47,51.21 439.14,50.23 439.81,49.21 440.49,48.16 441.16,47.1 441.83,46.01 442.5,44.92 443.17,43.82 443.84,42.72 444.51,41.63 445.18,40.55 445.85,39.5 446.52,38.48 447.2,37.51 447.87,36.59 448.54,35.72 449.21,34.92 449.88,34.21 450.55,33.58 451.22,33.04 451.89,32.62 452.56,32.31 453.24,32.13 453.91,32.11 454.58,32.26 455.25,32.55 455.92,32.95 456.59,33.46 457.26,34.07 457.93,34.77 458.6,35.56 459.27,36.41 459.94,37.32 460.62,38.29 461.29,39.3 461.96,40.34 462.63,41.41 463.3,42.5 463.97,43.6 464.64,44.7 465.31,45.8 465.98,46.88 466.65,47.95 467.33,49 468,50.03 468.67,51.02 469.34,51.98 470.01,52.9 470.68,53.78 471.35,54.63 472.02,55.43 472.69,56.19 473.37,56.9 474.04,57.57 474.71,58.2 475.38,58.83 476.05,59.44 476.72,60 477.39,60.51 478.06,60.98 478.73,61.39 479.4,61.77 480.07,62.11 480.75,62.41 481.42,62.68 482.09,62.92 482.76,63.13 483.43,63.32"/><polyline points="397.54,64.5 398.21,64.5 398.88,64.5 399.56,64.5 400.23,64.5 400.9,64.5 401.57,64.5 402.24,64.5 402.91,64.5 403.58,64.5 404.25,64.5 404.92,64.49 405.59,64.49 406.26,64.49 406.94,64.49 407.61,64.49 408.28,64.48 408.95,64.48 409.62,64.47 410.29,64.47 410.96,64.46 411.63,64.45 412.3,64.44 412.97,64.42 413.65,64.41 414.32,64.39 414.99,64.37 415.66,64.34 416.33,64.31 417,64.27 417.67,64.23 418.34,64.18 419.01,64.12 419.69,64.05 420.36,63.97 421.03,63.88 421.7,63.77 422.37,63.65 423.04,63.51 423.71,63.35 424.38,63.17 425.05,62.96 425.72,62.73 426.39,62.47 427.07,62.17 427.74,61.84 428.41,61.47 429.08,61.06 429.75,60.61 430.42,60.11 431.09,59.56 431.76,58.96 432.43,58.3 433.11,57.65 433.78,56.96 434.45,56.22 435.12,55.43 435.79,54.59 436.46,53.7 437.13,52.77 437.8,51.8 438.47,50.78 439.14,49.72 439.81,48.63 440.49,47.51 441.16,46.35 441.83,45.18 442.5,43.99 443.17,42.8 443.84,41.6 444.51,40.41 445.18,39.24 445.85,38.09 446.52,36.97 447.2,35.9 447.87,34.89 448.54,33.93 449.21,33.06 449.88,32.27 450.55,31.57 451.22,30.98 451.89,30.51 452.56,30.17 453.24,29.97 453.91,29.95 454.58,30.12 455.25,30.43 455.92,30.88 456.59,31.45 457.26,32.12 457.93,32.89 458.6,33.75 459.27,34.69 459.94,35.69 460.62,36.75 461.29,37.86 461.96,39 462.63,40.17 463.3,41.36 463.97,42.56 464.64,43.75 465.31,44.94 465.98,46.12 466.65,47.28 467.33,48.41 468,49.51 468.67,50.57 469.34,51.6 470.01,52.58 470.68,53.52 471.35,54.42 472.02,55.26 472.69,56.06 473.37,56.81 474.04,57.52 474.71,58.17 475.38,58.83 476.05,59.44 476.72,60 477.39,60.51 478.06,60.98 478.73,61.39 479.4,61.77 480.07,62.11 480.75,62.41 481.42,62.68 482.09,62.92 482.76,63.13 483.43,63.32"/><polyline points="397.54,64.5 398.21,64.5 398.88,64.5 399.56,64.5 400.23,64.5 400.9,64.5 401.57,64.5 402.24,64.5 402.91,64.5 403.58,64.5 404.25,64.5 404.92,64.49 405.59,64.49 406.26,64.49 406.94,64.49 407.61,64.49 408.28,64.48 408.95,64.48 409.62,64.47 410.29,64.47 410.96,64.46 411.63,64.45 412.3,64.44 412.97,64.42 413.65,64.41 414.32,64.39 414.99,64.37 415.66,64.34 416.33,64.31 417,64.27 417.67,64.23 418.34,64.18 419.01,64.12 419.69,64.05 420.36,63.97 421.03,63.88 421.7,63.77 422.37,63.65 423.04,63.51 423.71,63.35 424.38,63.17 425.05,62.96 425.72,62.73 426.39,62.47 427.07,62.17 427.74,61.84 428.41,61.47 429.08,61.06 429.75,60.61 430.42,60.11 431.09,59.56 431.76,58.96 432.43,58.3 433.11,57.62 433.78,56.89 434.45,56.12 435.12,55.29 435.79,54.41 436.46,53.48 437.13,52.49 437.8,51.46 438.47,50.38 439.14,49.25 439.81,48.08 440.49,46.88 441.16,45.64 441.83,44.38 442.5,43.1 443.17,41.8 443.84,40.51 444.51,39.22 445.18,37.94 445.85,36.69 446.52,35.48 447.2,34.31 447.87,33.2 448.54,32.16 449.21,31.2 449.88,30.33 450.55,29.57 451.22,28.93 451.89,28.41 452.56,28.03 453.24,27.81 453.91,27.79 454.58,27.97 455.25,28.32 455.92,28.81 456.59,29.43 457.26,30.17 457.93,31.02 458.6,31.96 459.27,32.99 459.94,34.08 460.62,35.24 461.29,36.45 461.96,37.69 462.63,38.96 463.3,40.25 463.97,41.55 464.64,42.84 465.31,44.12 465.98,45.39 466.65,46.63 467.33,47.84 468,49.02 468.67,50.15 469.34,51.25 470.01,52.29 470.68,53.28 471.35,54.23 472.02,55.12 472.69,55.96 473.37,56.74 474.04,57.47 474.71,58.16 475.38,58.83 476.05,59.44 476.72,60 477.39,60.51 478.06,60.98 478.73,61.39 479.4,61.77 480.07,62.11 480.75,62.41 481.42,62.68 482.09,62.92 482.76,63.13 483.43,63.32"/><polyline points="397.54,64.5 398.21,64.5 398.88,64.5 399.56,64.5 400.23,64.5 400.9,64.5 401.57,64.5 402.24,64.5 402.91,64.5 403.58,64.5 404.25,64.5 404.92,64.49 405.59,64.49 406.26,64.49 406.94,64.49 407.61,64.49 408.28,64.48 408.95,64.48 409.62,64.47 410.29,64.47 410.96,64.46 411.63,64.45 412.3,64.44 412.97,64.42 413.65,64.41 414.32,64.39 414.99,64.37 415.66,64.34 416.33,64.31 417,64.27 417.67,64.23 418.34,64.18 419.01,64.12 419.69,64.05 420.36,63.97 421.03,63.88 421.7,63.77 422.37,63.65 423.04,63.51 423.71,63.35 424.38,63.17 425.05,62.96 425.72,62.73 426.39,62.47 427.07,62.17 427.74,61.84 428.41,61.47 429.08,61.06 429.75,60.61 430.42,60.11 431.09,59.56 431.76,58.96 432.43,58.3 433.11,57.59 433.78,56.84 434.45,56.04 435.12,55.17 435.79,54.25 436.46,53.27 437.13,52.24 437.8,51.14 438.47,50 439.14,48.8 439.81,47.56 440.49,46.28 441.16,44.96 441.83,43.6 442.5,42.23 443.17,40.84 443.84,39.44 444.51,38.05 445.18,36.67 445.85,35.32 446.52,34 447.2,32.74 447.87,31.53 448.54,30.4 449.21,29.35 449.88,28.41 450.55,27.58 451.22,26.87 451.89,26.31 452.56,25.9 453.24,25.66 453.91,25.63 454.58,25.83 455.25,26.21 455.92,26.75 456.59,27.43 457.26,28.23 457.93,29.16 458.6,30.18 459.27,31.3 459.94,32.49 460.62,33.75 461.29,35.05 461.96,36.4 462.63,37.77 463.3,39.16 463.97,40.56 464.64,41.95 465.31,43.33 465.98,44.69 466.65,46.02 467.33,47.31 468,48.56 468.67,49.76 469.34,50.92 470.01,52.02 470.68,53.07 471.35,54.06 472.02,54.99 472.69,55.87 473.37,56.69 474.04,57.45 474.71,58.16 475.38,58.83 476.05,59.44 476.72,60 477.39,60.51 478.06,60.98 478.73,61.39 479.4,61.77 480.07,62.11 480.75,62.41 481.42,62.68 482.09,62.92 482.76,63.13 483.43,63.32"/><polyline points="397.54,64.5 398.21,64.5 398.88,64.5 399.56,64.5 400.23,64.5 400.9,64.5 401.57,64.5 402.24,64.5 402.91,64.5 403.58,64.5 404.25,64.5 404.92,64.49 405.59,64.49 406.26,64.49 406.94,64.49 407.61,64.49 408.28,64.48 408.95,64.48 409.62,64.47 410.29,64.47 410.96,64.46 411.63,64.45 412.3,64.44 412.97,64.42 413.65,64.41 414.32,64.39 414.99,64.37 415.66,64.34 416.33,64.31 417,64.27 417.67,64.23 418.34,64.18 419.01,64.12 419.69,64.05 420.36,63.97 421.03,63.88 421.7,63.77 422.37,63.65 423.04,63.51 423.71,63.35 424.38,63.17 425.05,62.96 425.72,62.73 426.39,62.47 427.07,62.17 427.74,61.84 428.41,61.47 429.08,61.06 429.75,60.61 430.42,60.11 431.09,59.56 431.76,58.96 432.43,58.3 433.11,57.58 433.78,56.81 434.45,55.97 435.12,55.07 435.79,54.11 436.46,53.09 437.13,52 437.8,50.85 438.47,49.65 439.14,48.38 439.81,47.07 440.49,45.7 441.16,44.3 441.83,42.86 442.5,41.39 443.17,39.9 443.84,38.4 444.51,36.91 445.18,35.43 445.85,33.97 446.52,32.55 447.2,31.18 447.87,29.87 448.54,28.65 449.21,27.52 449.88,26.49 450.55,25.59 451.22,24.82 451.89,24.21 452.56,23.76 453.24,23.5 453.91,23.47 454.58,23.69 455.25,24.1 455.92,24.69 456.59,25.42 457.26,26.3 457.93,27.3 458.6,28.41 459.27,29.62 459.94,30.91 460.62,32.27 461.29,33.68 461.96,35.13 462.63,36.61 463.3,38.1 463.97,39.6 464.64,41.09 465.31,42.56 465.98,44.01 466.65,45.43 467.33,46.8 468,48.12 468.67,49.4 469.34,50.62 470.01,51.78 470.68,52.88 471.35,53.91 472.02,54.89 472.69,55.8 473.37,56.65 474.04,57.43 474.71,58.16 475.38,58.83 476.05,59.44 476.72,60 477.39,60.51 478.06,60.98 478.73,61.39 479.4,61.77 480.07,62.11 480.75,62.41 481.42,62.68 482.09,62.92 482.76,63.13 483.43,63.32"/><polyline points="425.72,62.73 427.07,62.17 428.41,61.47 429.75,60.61 431.09,59.56 432.43,58.3 433.78,56.81 435.12,55.07 436.46,53.09 437.8,50.85 439.14,48.38 440.49,45.7 441.83,42.86 443.17,39.9 444.51,36.91 445.85,33.97 447.2,31.18 448.54,28.65 449.88,26.49 451.22,24.82 452.56,23.76 453.91,23.47 455.25,24.1 456.59,25.42 457.93,27.3 459.27,29.62 460.62,32.27 461.96,35.13 463.3,38.1 464.64,41.09 465.98,44.01 467.33,46.8 468.67,49.4 470.01,51.78 471.35,53.91 472.69,55.8 474.04,57.43 475.38,58.83 476.72,60 478.06,60.98 479.4,61.77 480.75,62.41" stroke-width="1.4"/></g>
<polygon points="427.2,64.5 427.4,64.54 427.6,64.63 427.8,64.76 428.01,64.91 428.21,65.08 428.41,65.28 428.61,65.49 428.81,65.73 429.01,65.49 429.21,65.28 429.41,65.08 429.62,64.91 429.82,64.76 430.02,64.63 430.22,64.54 430.42,64.5" fill="#1f77c4" fill-opacity="1.0" stroke="#1f77c4" stroke-width="0.6" stroke-linejoin="round"/><polygon points="432.3,64.5 432.5,64.64 432.7,64.92 432.9,65.31 433.11,65.79 433.31,66.34 433.51,66.96 433.71,67.65 433.91,68.4 434.11,67.65 434.31,66.96 434.51,66.34 434.72,65.79 434.92,65.31 435.12,64.92 435.32,64.64 435.52,64.5" fill="#1f77c4" fill-opacity="1.0" stroke="#1f77c4" stroke-width="0.6" stroke-linejoin="round"/><polygon points="437.27,64.5 437.47,64.76 437.67,65.29 437.87,66 438.07,66.88 438.27,67.91 438.47,69.06 438.67,70.33 438.88,71.72 439.08,70.33 439.28,69.06 439.48,67.91 439.68,66.88 439.88,66 440.08,65.29 440.28,64.76 440.49,64.5" fill="#1f77c4" fill-opacity="1.0" stroke="#1f77c4" stroke-width="0.6" stroke-linejoin="round"/><polygon points="441.56,64.5 441.76,65.05 441.96,66.17 442.16,67.7 442.36,69.56 442.57,71.74 442.77,74.19 442.97,76.9 443.17,79.85 443.37,76.9 443.57,74.19 443.77,71.74 443.98,69.56 444.18,67.7 444.38,66.17 444.58,65.05 444.78,64.5" fill="#1f77c4" fill-opacity="1.0" stroke="#1f77c4" stroke-width="0.6" stroke-linejoin="round"/><polygon points="446.52,64.5 446.73,65.19 446.93,66.6 447.13,68.52 447.33,70.86 447.53,73.6 447.73,76.68 447.93,80.08 448.14,83.79 448.34,80.08 448.54,76.68 448.74,73.6 448.94,70.86 449.14,68.52 449.34,66.6 449.54,65.19 449.75,64.5" fill="#1f77c4" fill-opacity="1.0" stroke="#1f77c4" stroke-width="0.6" stroke-linejoin="round"/><polygon points="450.95,64.5 451.15,65.48 451.36,67.48 451.56,70.19 451.76,73.52 451.96,77.39 452.16,81.75 452.36,86.58 452.56,91.84 452.77,86.58 452.97,81.75 453.17,77.39 453.37,73.52 453.57,70.19 453.77,67.48 453.97,65.48 454.17,64.5" fill="#1f77c4" fill-opacity="1.0" stroke="#1f77c4" stroke-width="0.6" stroke-linejoin="round"/><polygon points="456.05,64.5 456.25,65.23 456.46,66.7 456.66,68.71 456.86,71.18 457.06,74.04 457.26,77.27 457.46,80.84 457.66,84.74 457.86,80.84 458.07,77.27 458.27,74.04 458.47,71.18 458.67,68.71 458.87,66.7 459.07,65.23 459.27,64.5" fill="#1f77c4" fill-opacity="1.0" stroke="#1f77c4" stroke-width="0.6" stroke-linejoin="round"/><polygon points="460.62,64.5 460.82,65.21 461.02,66.64 461.22,68.6 461.42,71 461.62,73.79 461.82,76.94 462.03,80.41 462.23,84.2 462.43,80.41 462.63,76.94 462.83,73.79 463.03,71 463.23,68.6 463.43,66.64 463.64,65.21 463.84,64.5" fill="#1f77c4" fill-opacity="1.0" stroke="#1f77c4" stroke-width="0.6" stroke-linejoin="round"/><polygon points="465.31,64.5 465.51,64.82 465.72,65.46 465.92,66.34 466.12,67.41 466.32,68.66 466.52,70.07 466.72,71.63 466.92,73.33 467.12,71.63 467.33,70.07 467.53,68.66 467.73,67.41 467.93,66.34 468.13,65.46 468.33,64.82 468.53,64.5" fill="#1f77c4" fill-opacity="1.0" stroke="#1f77c4" stroke-width="0.6" stroke-linejoin="round"/><polygon points="470.01,64.5 470.21,64.72 470.41,65.17 470.61,65.78 470.82,66.53 471.02,67.4 471.22,68.39 471.42,69.47 471.62,70.66 471.82,69.47 472.02,68.39 472.22,67.4 472.43,66.53 472.63,65.78 472.83,65.17 473.03,64.72 473.23,64.5" fill="#1f77c4" fill-opacity="1.0" stroke="#1f77c4" stroke-width="0.6" stroke-linejoin="round"/><polygon points="474.57,64.5 474.77,64.56 474.98,64.68 475.18,64.84 475.38,65.04 475.58,65.27 475.78,65.54 475.98,65.83 476.18,66.14 476.38,65.83 476.59,65.54 476.79,65.27 476.99,65.04 477.19,64.84 477.39,64.68 477.59,64.56 477.79,64.5" fill="#1f77c4" fill-opacity="1.0" stroke="#1f77c4" stroke-width="0.6" stroke-linejoin="round"/><polygon points="479.14,64.5 479.34,64.52 479.54,64.57 479.74,64.63 479.94,64.7 480.14,64.79 480.34,64.89 480.54,65 480.75,65.12 480.95,65 481.15,64.89 481.35,64.79 481.55,64.7 481.75,64.63 481.95,64.57 482.16,64.52 482.36,64.5" fill="#1f77c4" fill-opacity="1.0" stroke="#1f77c4" stroke-width="0.6" stroke-linejoin="round"/>
<text class="xl" x="463.3" y="117.4" text-anchor="middle"><tspan>n</tspan><tspan class="sub" dy="1">x</tspan></text>
<text class="yl" transform="translate(386.2,64.25) rotate(-90)" text-anchor="middle">G<tspan class="sub" dy="1">k,k,p</tspan></text>
<g stroke="#f0f0f0" stroke-width="0.6"><line x1="60.68" y1="130.1" x2="60.68" y2="213"/><line x1="64.06" y1="130.1" x2="64.06" y2="213"/><line x1="67.44" y1="130.1" x2="67.44" y2="213"/><line x1="70.82" y1="130.1" x2="70.82" y2="213"/><line x1="74.2" y1="130.1" x2="74.2" y2="213"/><line x1="77.58" y1="130.1" x2="77.58" y2="213"/><line x1="80.96" y1="130.1" x2="80.96" y2="213"/><line x1="84.34" y1="130.1" x2="84.34" y2="213"/><line x1="87.72" y1="130.1" x2="87.72" y2="213"/><line x1="91.1" y1="130.1" x2="91.1" y2="213"/><line x1="94.48" y1="130.1" x2="94.48" y2="213"/><line x1="97.86" y1="130.1" x2="97.86" y2="213"/><line x1="101.24" y1="130.1" x2="101.24" y2="213"/><line x1="104.62" y1="130.1" x2="104.62" y2="213"/><line x1="108" y1="130.1" x2="108" y2="213"/><line x1="111.38" y1="130.1" x2="111.38" y2="213"/><line x1="114.76" y1="130.1" x2="114.76" y2="213"/><line x1="118.14" y1="130.1" x2="118.14" y2="213"/><line x1="121.52" y1="130.1" x2="121.52" y2="213"/><line x1="124.9" y1="130.1" x2="124.9" y2="213"/><line x1="128.28" y1="130.1" x2="128.28" y2="213"/><line x1="131.66" y1="130.1" x2="131.66" y2="213"/><line x1="135.04" y1="130.1" x2="135.04" y2="213"/><line x1="138.42" y1="130.1" x2="138.42" y2="213"/><line x1="141.8" y1="130.1" x2="141.8" y2="213"/><line x1="145.18" y1="130.1" x2="145.18" y2="213"/><line x1="148.56" y1="130.1" x2="148.56" y2="213"/><line x1="151.94" y1="130.1" x2="151.94" y2="213"/><line x1="155.32" y1="130.1" x2="155.32" y2="213"/><line x1="158.7" y1="130.1" x2="158.7" y2="213"/><line x1="162.08" y1="130.1" x2="162.08" y2="213"/><line x1="165.46" y1="130.1" x2="165.46" y2="213"/><line x1="168.84" y1="130.1" x2="168.84" y2="213"/><line x1="172.22" y1="130.1" x2="172.22" y2="213"/><line x1="175.6" y1="130.1" x2="175.6" y2="213"/><line x1="178.98" y1="130.1" x2="178.98" y2="213"/><line x1="182.36" y1="130.1" x2="182.36" y2="213"/><line x1="185.74" y1="130.1" x2="185.74" y2="213"/><line x1="189.12" y1="130.1" x2="189.12" y2="213"/><line x1="57.3" y1="192.22" x2="192.5" y2="192.22"/><line x1="57.3" y1="171.5" x2="192.5" y2="171.5"/><line x1="57.3" y1="150.77" x2="192.5" y2="150.77"/></g>
<rect x="57.3" y="130.1" width="135.2" height="82.9" fill="none" stroke="#d0d0d0" stroke-width="0.6"/>
<g stroke="#d0d0d0" stroke-width="0.5"><line x1="57.3" y1="213" x2="57.3" y2="211.7"/><line x1="74.2" y1="213" x2="74.2" y2="211.7"/><line x1="91.1" y1="213" x2="91.1" y2="211.7"/><line x1="108" y1="213" x2="108" y2="211.7"/><line x1="124.9" y1="213" x2="124.9" y2="211.7"/><line x1="141.8" y1="213" x2="141.8" y2="211.7"/><line x1="158.7" y1="213" x2="158.7" y2="211.7"/><line x1="175.6" y1="213" x2="175.6" y2="211.7"/><line x1="192.5" y1="213" x2="192.5" y2="211.7"/><line x1="57.3" y1="212.95" x2="58.6" y2="212.95"/><line x1="57.3" y1="192.22" x2="58.6" y2="192.22"/><line x1="57.3" y1="171.5" x2="58.6" y2="171.5"/><line x1="57.3" y1="150.77" x2="58.6" y2="150.77"/><line x1="57.3" y1="130.05" x2="58.6" y2="130.05"/></g>
<g class="tl"><text x="57.3" y="218.9" text-anchor="middle">0</text><text x="74.2" y="218.9" text-anchor="middle">5</text><text x="91.1" y="218.9" text-anchor="middle">10</text><text x="108" y="218.9" text-anchor="middle">15</text><text x="124.9" y="218.9" text-anchor="middle">20</text><text x="141.8" y="218.9" text-anchor="middle">25</text><text x="158.7" y="218.9" text-anchor="middle">30</text><text x="175.6" y="218.9" text-anchor="middle">35</text><text x="192.5" y="218.9" text-anchor="middle">40</text><text x="55.7" y="214.35" text-anchor="end">-1</text><text x="55.7" y="193.62" text-anchor="end">-0.5</text><text x="55.7" y="172.9" text-anchor="end">0</text><text x="55.7" y="152.17" text-anchor="end">0.5</text><text x="55.7" y="131.45" text-anchor="end">1</text></g>
<g opacity="0.8"><g fill="none" stroke="#1f77c4" stroke-width="0.9" stroke-linejoin="round"><polyline points="97.86,171.5 101.24,171.46 104.62,171.29 108,170.92 111.38,170.53 114.76,170.19 118.14,170.36 121.52,171.5"/><polyline points="97.86,171.5 101.24,171.4 104.62,171 108,170.11 111.38,169.16 114.76,168.37 118.14,168.76 121.52,171.5"/><polyline points="97.86,171.5 101.24,171.33 104.62,170.67 108,169.18 111.38,167.6 114.76,166.28 118.14,166.94 121.52,171.5"/><polyline points="97.86,171.5 101.24,171.25 104.62,170.26 108,168.02 111.38,165.66 114.76,163.67 118.14,164.66 121.52,171.5"/><polyline points="97.86,171.5 101.24,171.17 104.62,169.84 108,166.86 111.38,163.71 114.76,161.05 118.14,162.38 121.52,171.5"/><polyline points="97.86,171.5 101.24,171.08 104.62,169.39 108,165.58 111.38,161.56 114.76,158.18 118.14,159.87 121.52,171.5"/><polyline points="97.86,171.5 101.24,170.98 104.62,168.89 108,164.19 111.38,159.23 114.76,155.05 118.14,157.14 121.52,171.5"/><polyline points="97.86,171.5 101.24,170.89 104.62,168.47 108,163.03 111.38,157.28 114.76,152.44 118.14,154.86 121.52,171.5"/><polyline points="97.86,171.5 101.24,170.8 104.62,168.02 108,161.75 111.38,155.14 114.76,149.56 118.14,152.35 121.52,171.5"/><polyline points="97.86,171.5 101.24,170.74 104.62,167.69 108,160.82 111.38,153.58 114.76,147.48 118.14,150.53 121.52,171.5"/><polyline points="97.86,171.5 101.24,170.67 104.62,167.35 108,159.89 111.38,152.02 114.76,145.39 118.14,148.7 121.52,171.5"/><line x1="101.24" y1="171.46" x2="101.24" y2="170.67"/><line x1="104.62" y1="171.29" x2="104.62" y2="167.35"/><line x1="108" y1="170.92" x2="108" y2="159.89"/><line x1="111.38" y1="170.53" x2="111.38" y2="152.02"/><line x1="114.76" y1="170.19" x2="114.76" y2="145.39"/><line x1="118.14" y1="170.36" x2="118.14" y2="148.7"/></g></g>
<g fill="none" stroke="#1f77c4" stroke-width="0.9" stroke-linejoin="round"><polyline points="87.72,171.5 91.1,171.5 94.48,171.5 97.86,171.5 101.24,171.5 104.62,171.5 108,171.5 111.38,171.5 114.76,171.5 118.14,171.5 121.52,171.5 124.9,171.5 128.28,171.5 131.66,171.5 135.04,171.5 138.42,171.5 141.8,171.5 145.18,171.5 148.56,171.5 151.94,171.5 155.32,171.5 158.7,171.5 162.08,171.5 165.46,171.5 168.84,171.5 172.22,171.5 175.6,171.5 178.98,171.5 182.36,171.5"/><polyline points="87.72,171.5 91.1,171.5 94.48,171.5 97.86,171.5 101.24,171.5 104.62,171.5 108,171.5 111.38,171.5 114.76,171.5 118.14,171.5 121.52,171.5 124.9,172.2 128.28,172.91 131.66,172.74 135.04,172.37 138.42,172 141.8,171.69 145.18,171.54 148.56,171.5 151.94,171.5 155.32,171.5 158.7,171.5 162.08,171.5 165.46,171.5 168.84,171.5 172.22,171.5 175.6,171.5 178.98,171.5 182.36,171.5"/><polyline points="87.72,171.5 91.1,171.5 94.48,171.5 97.86,171.5 101.24,171.5 104.62,171.5 108,171.5 111.38,171.5 114.76,171.5 118.14,171.5 121.52,171.5 124.9,173.19 128.28,174.88 131.66,174.48 135.04,173.59 138.42,172.69 141.8,171.95 145.18,171.6 148.56,171.5 151.94,171.5 155.32,171.5 158.7,171.5 162.08,171.5 165.46,171.5 168.84,171.5 172.22,171.5 175.6,171.5 178.98,171.5 182.36,171.5"/><polyline points="87.72,171.5 91.1,171.5 94.48,171.5 97.86,171.5 101.24,171.5 104.62,171.5 108,171.5 111.38,171.5 114.76,171.5 118.14,171.5 121.52,171.5 124.9,174.32 128.28,177.14 131.66,176.47 135.04,174.98 138.42,173.49 141.8,172.25 145.18,171.67 148.56,171.5 151.94,171.5 155.32,171.5 158.7,171.5 162.08,171.5 165.46,171.5 168.84,171.5 172.22,171.5 175.6,171.5 178.98,171.5 182.36,171.5"/><polyline points="87.72,171.5 91.1,171.5 94.48,171.5 97.86,171.5 101.24,171.5 104.62,171.5 108,171.5 111.38,171.5 114.76,171.5 118.14,171.5 121.52,171.5 124.9,175.73 128.28,179.96 131.66,178.96 135.04,176.72 138.42,174.48 141.8,172.62 145.18,171.75 148.56,171.5 151.94,171.5 155.32,171.5 158.7,171.5 162.08,171.5 165.46,171.5 168.84,171.5 172.22,171.5 175.6,171.5 178.98,171.5 182.36,171.5"/><polyline points="87.72,171.5 91.1,171.5 94.48,171.5 97.86,171.5 101.24,171.5 104.62,171.5 108,171.5 111.38,171.5 114.76,171.5 118.14,171.5 121.52,171.5 124.9,177.14 128.28,182.77 131.66,181.45 135.04,178.46 138.42,175.48 141.8,172.99 145.18,171.83 148.56,171.5 151.94,171.5 155.32,171.5 158.7,171.5 162.08,171.5 165.46,171.5 168.84,171.5 172.22,171.5 175.6,171.5 178.98,171.5 182.36,171.5"/><polyline points="87.72,171.5 91.1,171.5 94.48,171.5 97.86,171.5 101.24,171.5 104.62,171.5 108,171.5 111.38,171.5 114.76,171.5 118.14,171.5 121.52,171.5 124.9,178.69 128.28,185.87 131.66,184.18 135.04,180.38 138.42,176.57 141.8,173.4 145.18,171.92 148.56,171.5 151.94,171.5 155.32,171.5 158.7,171.5 162.08,171.5 165.46,171.5 168.84,171.5 172.22,171.5 175.6,171.5 178.98,171.5 182.36,171.5"/><polyline points="87.72,171.5 91.1,171.5 94.48,171.5 97.86,171.5 101.24,171.5 104.62,171.5 108,171.5 111.38,171.5 114.76,171.5 118.14,171.5 121.52,171.5 124.9,180.38 128.28,189.26 131.66,187.17 135.04,182.47 138.42,177.77 141.8,173.85 145.18,172.02 148.56,171.5 151.94,171.5 155.32,171.5 158.7,171.5 162.08,171.5 165.46,171.5 168.84,171.5 172.22,171.5 175.6,171.5 178.98,171.5 182.36,171.5"/><polyline points="87.72,171.5 91.1,171.5 94.48,171.5 97.86,171.5 101.24,171.5 104.62,171.5 108,171.5 111.38,171.5 114.76,171.5 118.14,171.5 121.52,171.5 124.9,181.79 128.28,192.08 131.66,189.66 135.04,184.21 138.42,178.76 141.8,174.22 145.18,172.11 148.56,171.5 151.94,171.5 155.32,171.5 158.7,171.5 162.08,171.5 165.46,171.5 168.84,171.5 172.22,171.5 175.6,171.5 178.98,171.5 182.36,171.5"/><polyline points="87.72,171.5 91.1,171.5 94.48,171.5 97.86,171.5 101.24,171.5 104.62,171.5 108,171.5 111.38,171.5 114.76,171.5 118.14,171.5 121.52,171.5 124.9,183.34 128.28,195.18 131.66,192.39 135.04,186.12 138.42,179.86 141.8,174.63 145.18,172.2 148.56,171.5 151.94,171.5 155.32,171.5 158.7,171.5 162.08,171.5 165.46,171.5 168.84,171.5 172.22,171.5 175.6,171.5 178.98,171.5 182.36,171.5"/><polyline points="87.72,171.5 91.1,171.5 94.48,171.5 97.86,171.5 101.24,171.5 104.62,171.5 108,171.5 111.38,171.5 114.76,171.5 118.14,171.5 121.52,171.5 124.9,184.47 128.28,197.43 131.66,194.38 135.04,187.52 138.42,180.65 141.8,174.93 145.18,172.26 148.56,171.5 151.94,171.5 155.32,171.5 158.7,171.5 162.08,171.5 165.46,171.5 168.84,171.5 172.22,171.5 175.6,171.5 178.98,171.5 182.36,171.5"/><polyline points="87.72,171.5 91.1,171.5 94.48,171.5 97.86,171.5 101.24,171.5 104.62,171.5 108,171.5 111.38,171.5 114.76,171.5 118.14,171.5 121.52,171.5 124.9,185.59 128.28,199.69 131.66,196.37 135.04,188.91 138.42,181.45 141.8,175.23 145.18,172.33 148.56,171.5 151.94,171.5 155.32,171.5 158.7,171.5 162.08,171.5 165.46,171.5 168.84,171.5 172.22,171.5 175.6,171.5 178.98,171.5 182.36,171.5"/><line x1="124.9" y1="185.59" x2="124.9" y2="171.5"/><line x1="128.28" y1="199.69" x2="128.28" y2="171.5"/><line x1="131.66" y1="196.37" x2="131.66" y2="171.5"/><line x1="135.04" y1="188.91" x2="135.04" y2="171.5"/><line x1="138.42" y1="181.45" x2="138.42" y2="171.5"/><line x1="141.8" y1="175.23" x2="141.8" y2="171.5"/><line x1="145.18" y1="172.33" x2="145.18" y2="171.5"/></g><g fill="none" stroke="#f0141e" stroke-width="0.9" stroke-linejoin="round"><polyline points="60.68,171.5 64.06,171.5 67.44,171.5 70.82,171.5 74.2,171.5 77.58,171.5 80.96,171.5 84.34,171.5 87.72,171.5 91.1,171.5 94.48,171.5 97.86,171.5 101.24,171.5 104.62,171.5 108,171.5 111.38,171.5 114.76,171.5 118.14,171.5 121.52,171.5 124.9,171.5 128.28,171.5 131.66,171.5 135.04,171.5 138.42,171.5 141.8,171.5 145.18,171.5 148.56,171.5 151.94,171.5"/><polyline points="60.68,171.5 64.06,171.5 67.44,171.5 70.82,171.5 74.2,171.5 77.58,171.5 80.96,171.5 84.34,171.49 87.72,171.48 91.1,171.44 94.48,171.38 97.86,171.27 101.24,171.08 104.62,170.82 108,170.48 111.38,170.11 114.76,169.77 118.14,169.52 121.52,169.43 124.9,169.52 128.28,169.77 131.66,170.11 135.04,170.48 138.42,170.82 141.8,171.08 145.18,171.27 148.56,171.38 151.94,171.44"/><polyline points="60.68,171.5 64.06,171.5 67.44,171.5 70.82,171.5 74.2,171.5 77.58,171.5 80.96,171.49 84.34,171.48 87.72,171.44 91.1,171.37 94.48,171.21 97.86,170.94 101.24,170.5 104.62,169.87 108,169.06 111.38,168.17 114.76,167.34 118.14,166.74 121.52,166.53 124.9,166.74 128.28,167.34 131.66,168.17 135.04,169.06 138.42,169.87 141.8,170.5 145.18,170.94 148.56,171.21 151.94,171.37"/><polyline points="60.68,171.5 64.06,171.5 67.44,171.5 70.82,171.5 74.2,171.5 77.58,171.5 80.96,171.49 84.34,171.46 87.72,171.4 91.1,171.28 94.48,171.02 97.86,170.57 101.24,169.83 104.62,168.78 108,167.44 111.38,165.95 114.76,164.56 118.14,163.57 121.52,163.21 124.9,163.57 128.28,164.56 131.66,165.95 135.04,167.44 138.42,168.78 141.8,169.83 145.18,170.57 148.56,171.02 151.94,171.28"/><polyline points="60.68,171.5 64.06,171.5 67.44,171.5 70.82,171.5 74.2,171.5 77.58,171.49 80.96,171.48 84.34,171.44 87.72,171.36 91.1,171.16 94.48,170.78 97.86,170.1 101.24,169 104.62,167.42 108,165.4 111.38,163.17 114.76,161.09 118.14,159.61 121.52,159.06 124.9,159.61 128.28,161.09 131.66,163.17 135.04,165.4 138.42,167.42 141.8,169 145.18,170.1 148.56,170.78 151.94,171.16"/><polyline points="60.68,171.5 64.06,171.5 67.44,171.5 70.82,171.5 74.2,171.5 77.58,171.49 80.96,171.47 84.34,171.42 87.72,171.31 91.1,171.05 94.48,170.54 97.86,169.63 101.24,168.17 104.62,166.06 108,163.37 111.38,160.4 114.76,157.63 118.14,155.64 121.52,154.92 124.9,155.64 128.28,157.63 131.66,160.4 135.04,163.37 138.42,166.06 141.8,168.17 145.18,169.63 148.56,170.54 151.94,171.05"/><polyline points="60.68,171.5 64.06,171.5 67.44,171.5 70.82,171.5 74.2,171.5 77.58,171.49 80.96,171.47 84.34,171.4 87.72,171.25 91.1,170.93 94.48,170.28 97.86,169.12 101.24,167.25 104.62,164.56 108,161.14 111.38,157.34 114.76,153.81 118.14,151.28 121.52,150.36 124.9,151.28 128.28,153.81 131.66,157.34 135.04,161.14 138.42,164.56 141.8,167.25 145.18,169.12 148.56,170.28 151.94,170.93"/><polyline points="60.68,171.5 64.06,171.5 67.44,171.5 70.82,171.5 74.2,171.5 77.58,171.49 80.96,171.46 84.34,171.38 87.72,171.2 91.1,170.79 94.48,169.99 97.86,168.56 101.24,166.25 104.62,162.93 108,158.7 111.38,154.01 114.76,149.65 118.14,146.52 121.52,145.39 124.9,146.52 128.28,149.65 131.66,154.01 135.04,158.7 138.42,162.93 141.8,166.25 145.18,168.56 148.56,169.99 151.94,170.79"/><polyline points="60.68,171.5 64.06,171.5 67.44,171.5 70.82,171.5 74.2,171.5 77.58,171.48 80.96,171.45 84.34,171.36 87.72,171.15 91.1,170.68 94.48,169.75 97.86,168.09 101.24,165.41 104.62,161.57 108,156.67 111.38,151.24 114.76,146.18 118.14,142.56 121.52,141.24 124.9,142.56 128.28,146.18 131.66,151.24 135.04,156.67 138.42,161.57 141.8,165.41 145.18,168.09 148.56,169.75 151.94,170.68"/><polyline points="60.68,171.5 64.06,171.5 67.44,171.5 70.82,171.5 74.2,171.49 77.58,171.48 80.96,171.44 84.34,171.34 87.72,171.1 91.1,170.56 94.48,169.49 97.86,167.58 101.24,164.5 104.62,160.07 108,154.43 111.38,148.18 114.76,142.37 118.14,138.2 121.52,136.68 124.9,138.2 128.28,142.37 131.66,148.18 135.04,154.43 138.42,160.07 141.8,164.5 145.18,167.58 148.56,169.49 151.94,170.56"/><polyline points="60.68,171.5 64.06,171.5 67.44,171.5 70.82,171.5 74.2,171.49 77.58,171.48 80.96,171.44 84.34,171.33 87.72,171.06 91.1,170.47 94.48,169.3 97.86,167.2 101.24,163.83 104.62,158.98 108,152.81 111.38,145.96 114.76,139.59 118.14,135.03 121.52,133.37 124.9,135.03 128.28,139.59 131.66,145.96 135.04,152.81 138.42,158.98 141.8,163.83 145.18,167.2 148.56,169.3 151.94,170.47"/><polyline points="60.68,171.5 64.06,171.5 67.44,171.5 70.82,171.5 74.2,171.49 77.58,171.48 80.96,171.43 84.34,171.31 87.72,171.02 91.1,170.38 94.48,169.11 97.86,166.83 101.24,163.16 104.62,157.89 108,151.18 111.38,143.74 114.76,136.82 118.14,131.86 121.52,130.05 124.9,131.86 128.28,136.82 131.66,143.74 135.04,151.18 138.42,157.89 141.8,163.16 145.18,166.83 148.56,169.11 151.94,170.38"/><line x1="84.34" y1="171.5" x2="84.34" y2="171.31"/><line x1="87.72" y1="171.5" x2="87.72" y2="171.02"/><line x1="91.1" y1="171.5" x2="91.1" y2="170.38"/><line x1="94.48" y1="171.5" x2="94.48" y2="169.11"/><line x1="97.86" y1="171.5" x2="97.86" y2="166.83"/><line x1="101.24" y1="171.5" x2="101.24" y2="163.16"/><line x1="104.62" y1="171.5" x2="104.62" y2="157.89"/><line x1="108" y1="171.5" x2="108" y2="151.18"/><line x1="111.38" y1="171.5" x2="111.38" y2="143.74"/><line x1="114.76" y1="171.5" x2="114.76" y2="136.82"/><line x1="118.14" y1="171.5" x2="118.14" y2="131.86"/><line x1="121.52" y1="171.5" x2="121.52" y2="130.05"/><line x1="124.9" y1="171.5" x2="124.9" y2="131.86"/><line x1="128.28" y1="171.5" x2="128.28" y2="136.82"/><line x1="131.66" y1="171.5" x2="131.66" y2="143.74"/><line x1="135.04" y1="171.5" x2="135.04" y2="151.18"/><line x1="138.42" y1="171.5" x2="138.42" y2="157.89"/><line x1="141.8" y1="171.5" x2="141.8" y2="163.16"/><line x1="145.18" y1="171.5" x2="145.18" y2="166.83"/><line x1="148.56" y1="171.5" x2="148.56" y2="169.11"/><line x1="151.94" y1="171.5" x2="151.94" y2="170.38"/></g>
<g opacity="0.5"><g fill="none" stroke="#1f77c4" stroke-width="0.9" stroke-linejoin="round"><polyline points="97.86,171.5 101.24,171.29 104.62,170.46 108,168.6 111.38,166.63 114.76,164.97 118.14,165.8 121.52,171.5"/><polyline points="97.86,171.5 101.24,171.09 104.62,169.43 108,165.7 111.38,161.76 114.76,158.44 118.14,160.1 121.52,171.5"/><polyline points="97.86,171.5 101.24,170.88 104.62,168.39 108,162.8 111.38,156.89 114.76,151.91 118.14,154.4 121.52,171.5"/><polyline points="97.86,171.5 101.24,170.67 104.62,167.35 108,159.89 111.38,152.02 114.76,145.39 118.14,148.7 121.52,171.5"/><line x1="101.24" y1="171.29" x2="101.24" y2="170.67"/><line x1="104.62" y1="170.46" x2="104.62" y2="167.35"/><line x1="108" y1="168.6" x2="108" y2="159.89"/><line x1="111.38" y1="166.63" x2="111.38" y2="152.02"/><line x1="114.76" y1="164.97" x2="114.76" y2="145.39"/><line x1="118.14" y1="165.8" x2="118.14" y2="148.7"/></g></g>

<text class="xl" x="124.9" y="225.1" text-anchor="middle"><tspan>n</tspan><tspan class="sub" dy="1">x</tspan></text>
<text class="yl" transform="translate(47.3,171.55) rotate(-90)" text-anchor="middle">G<tspan class="sub" dy="1">k,k,p</tspan></text>
<g stroke="#f0f0f0" stroke-width="0.6"><line x1="231.56" y1="132.3" x2="231.56" y2="217.75"/><line x1="234.91" y1="132.3" x2="234.91" y2="217.75"/><line x1="238.27" y1="132.3" x2="238.27" y2="217.75"/><line x1="241.63" y1="132.3" x2="241.63" y2="217.75"/><line x1="244.99" y1="132.3" x2="244.99" y2="217.75"/><line x1="248.34" y1="132.3" x2="248.34" y2="217.75"/><line x1="251.7" y1="132.3" x2="251.7" y2="217.75"/><line x1="255.06" y1="132.3" x2="255.06" y2="217.75"/><line x1="258.42" y1="132.3" x2="258.42" y2="217.75"/><line x1="261.77" y1="132.3" x2="261.77" y2="217.75"/><line x1="265.13" y1="132.3" x2="265.13" y2="217.75"/><line x1="268.49" y1="132.3" x2="268.49" y2="217.75"/><line x1="271.85" y1="132.3" x2="271.85" y2="217.75"/><line x1="275.2" y1="132.3" x2="275.2" y2="217.75"/><line x1="278.56" y1="132.3" x2="278.56" y2="217.75"/><line x1="281.92" y1="132.3" x2="281.92" y2="217.75"/><line x1="285.28" y1="132.3" x2="285.28" y2="217.75"/><line x1="288.63" y1="132.3" x2="288.63" y2="217.75"/><line x1="291.99" y1="132.3" x2="291.99" y2="217.75"/><line x1="295.35" y1="132.3" x2="295.35" y2="217.75"/><line x1="298.71" y1="132.3" x2="298.71" y2="217.75"/><line x1="302.06" y1="132.3" x2="302.06" y2="217.75"/><line x1="305.42" y1="132.3" x2="305.42" y2="217.75"/><line x1="308.78" y1="132.3" x2="308.78" y2="217.75"/><line x1="312.14" y1="132.3" x2="312.14" y2="217.75"/><line x1="315.5" y1="132.3" x2="315.5" y2="217.75"/><line x1="318.85" y1="132.3" x2="318.85" y2="217.75"/><line x1="322.21" y1="132.3" x2="322.21" y2="217.75"/><line x1="325.57" y1="132.3" x2="325.57" y2="217.75"/><line x1="328.93" y1="132.3" x2="328.93" y2="217.75"/><line x1="332.28" y1="132.3" x2="332.28" y2="217.75"/><line x1="335.64" y1="132.3" x2="335.64" y2="217.75"/><line x1="339" y1="132.3" x2="339" y2="217.75"/><line x1="342.36" y1="132.3" x2="342.36" y2="217.75"/><line x1="345.71" y1="132.3" x2="345.71" y2="217.75"/><line x1="349.07" y1="132.3" x2="349.07" y2="217.75"/><line x1="352.43" y1="132.3" x2="352.43" y2="217.75"/><line x1="355.78" y1="132.3" x2="355.78" y2="217.75"/><line x1="359.14" y1="132.3" x2="359.14" y2="217.75"/><line x1="228.2" y1="189.5" x2="362.5" y2="189.5"/><line x1="228.2" y1="161.02" x2="362.5" y2="161.02"/></g>
<rect x="228.2" y="132.3" width="134.3" height="85.45" fill="none" stroke="#d0d0d0" stroke-width="0.6"/>
<g stroke="#d0d0d0" stroke-width="0.5"><line x1="228.2" y1="217.75" x2="228.2" y2="216.45"/><line x1="244.99" y1="217.75" x2="244.99" y2="216.45"/><line x1="261.77" y1="217.75" x2="261.77" y2="216.45"/><line x1="278.56" y1="217.75" x2="278.56" y2="216.45"/><line x1="295.35" y1="217.75" x2="295.35" y2="216.45"/><line x1="312.14" y1="217.75" x2="312.14" y2="216.45"/><line x1="328.93" y1="217.75" x2="328.93" y2="216.45"/><line x1="345.71" y1="217.75" x2="345.71" y2="216.45"/><line x1="362.5" y1="217.75" x2="362.5" y2="216.45"/><line x1="228.2" y1="217.98" x2="229.5" y2="217.98"/><line x1="228.2" y1="189.5" x2="229.5" y2="189.5"/><line x1="228.2" y1="161.02" x2="229.5" y2="161.02"/><line x1="228.2" y1="132.53" x2="229.5" y2="132.53"/></g>
<g class="tl"><text x="228.2" y="223.65" text-anchor="middle">0</text><text x="244.99" y="223.65" text-anchor="middle">5</text><text x="261.77" y="223.65" text-anchor="middle">10</text><text x="278.56" y="223.65" text-anchor="middle">15</text><text x="295.35" y="223.65" text-anchor="middle">20</text><text x="312.14" y="223.65" text-anchor="middle">25</text><text x="328.93" y="223.65" text-anchor="middle">30</text><text x="345.71" y="223.65" text-anchor="middle">35</text><text x="362.5" y="223.65" text-anchor="middle">40</text><text x="226.6" y="219.38" text-anchor="end">-0.5</text><text x="226.6" y="190.9" text-anchor="end">0</text><text x="226.6" y="162.42" text-anchor="end">0.5</text><text x="226.6" y="133.93" text-anchor="end">1</text></g>
<g opacity="0.6"><g fill="none" stroke="#1f77c4" stroke-width="0.9" stroke-linejoin="round"><polyline points="285.28,189.5 288.63,189.5 291.99,189.5 295.35,189.5 298.71,189.5"/><polyline points="285.28,189.5 288.63,189.5 291.99,187.74 295.35,189.5 298.71,189.5"/><polyline points="285.28,189.5 288.63,189.5 291.99,185.28 295.35,189.5 298.71,189.5"/><polyline points="285.28,189.5 288.63,189.5 291.99,182.47 295.35,189.5 298.71,189.5"/><polyline points="285.28,189.5 288.63,189.5 291.99,178.96 295.35,189.5 298.71,189.5"/><polyline points="285.28,189.5 288.63,189.5 291.99,175.44 295.35,189.5 298.71,189.5"/><polyline points="285.28,189.5 288.63,189.5 291.99,171.57 295.35,189.5 298.71,189.5"/><polyline points="285.28,189.5 288.63,189.5 291.99,167.36 295.35,189.5 298.71,189.5"/><polyline points="285.28,189.5 288.63,189.5 291.99,163.84 295.35,189.5 298.71,189.5"/><polyline points="285.28,189.5 288.63,189.5 291.99,159.98 295.35,189.5 298.71,189.5"/><polyline points="285.28,189.5 288.63,189.5 291.99,157.16 295.35,189.5 298.71,189.5"/><polyline points="285.28,189.5 288.63,189.5 291.99,154.35 295.35,189.5 298.71,189.5"/><line x1="291.99" y1="189.5" x2="291.99" y2="154.35"/></g></g>
<g fill="none" stroke="#1f77c4" stroke-width="0.9" stroke-linejoin="round"><polyline points="231.56,189.5 234.91,189.5 238.27,189.5 241.63,189.5 244.99,189.5 248.34,189.5 251.7,189.5 255.06,189.5 258.42,189.5 261.77,189.5 265.13,189.5 268.49,189.5 271.85,189.5 275.2,189.5 278.56,189.5 281.92,189.5 285.28,189.5 288.63,189.5 291.99,189.5 295.35,189.5 298.71,189.5 302.06,189.5 305.42,189.5 308.78,189.5 312.14,189.5 315.5,189.5 318.85,189.5 322.21,189.5 325.57,189.5 328.93,189.5 332.28,189.5 335.64,189.5 339,189.5 342.36,189.5 345.71,189.5 349.07,189.5 352.43,189.5"/><polyline points="231.56,189.5 234.91,189.5 238.27,189.5 241.63,189.5 244.99,189.5 248.34,189.5 251.7,189.5 255.06,189.5 258.42,189.5 261.77,189.56 265.13,189.59 268.49,189.5 271.85,189.5 275.2,189.5 278.56,189.5 281.92,189.5 285.28,189.5 288.63,189.5 291.99,189.5 295.35,189.5 298.71,189.5 302.06,189.5 305.42,189.5 308.78,189.5 312.14,189.5 315.5,189.5 318.85,189.59 322.21,189.56 325.57,189.5 328.93,189.5 332.28,189.5 335.64,189.5 339,189.5 342.36,189.5 345.71,189.5 349.07,189.5 352.43,189.5"/><polyline points="231.56,189.5 234.91,189.5 238.27,189.5 241.63,189.5 244.99,189.5 248.34,189.5 251.7,189.5 255.06,189.5 258.42,189.5 261.77,189.64 265.13,189.71 268.49,189.5 271.85,189.5 275.2,189.5 278.56,189.5 281.92,189.5 285.28,189.5 288.63,189.5 291.99,189.5 295.35,189.5 298.71,189.5 302.06,189.5 305.42,189.5 308.78,189.5 312.14,189.5 315.5,189.5 318.85,189.71 322.21,189.64 325.57,189.5 328.93,189.5 332.28,189.5 335.64,189.5 339,189.5 342.36,189.5 345.71,189.5 349.07,189.5 352.43,189.5"/><polyline points="231.56,189.5 234.91,189.5 238.27,189.5 241.63,189.5 244.99,189.5 248.34,189.5 251.7,189.5 255.06,189.5 258.42,189.5 261.77,189.73 265.13,189.84 268.49,189.5 271.85,189.5 275.2,189.5 278.56,189.5 281.92,189.5 285.28,189.5 288.63,189.5 291.99,189.5 295.35,189.5 298.71,189.5 302.06,189.5 305.42,189.5 308.78,189.5 312.14,189.5 315.5,189.5 318.85,189.84 322.21,189.73 325.57,189.5 328.93,189.5 332.28,189.5 335.64,189.5 339,189.5 342.36,189.5 345.71,189.5 349.07,189.5 352.43,189.5"/><polyline points="231.56,189.5 234.91,189.5 238.27,189.5 241.63,189.5 244.99,189.5 248.34,189.5 251.7,189.5 255.06,189.5 258.42,189.5 261.77,189.84 265.13,190.01 268.49,189.5 271.85,189.5 275.2,189.5 278.56,189.5 281.92,189.5 285.28,189.5 288.63,189.5 291.99,189.5 295.35,189.5 298.71,189.5 302.06,189.5 305.42,189.5 308.78,189.5 312.14,189.5 315.5,189.5 318.85,190.01 322.21,189.84 325.57,189.5 328.93,189.5 332.28,189.5 335.64,189.5 339,189.5 342.36,189.5 345.71,189.5 349.07,189.5 352.43,189.5"/><polyline points="231.56,189.5 234.91,189.5 238.27,189.5 241.63,189.5 244.99,189.5 248.34,189.5 251.7,189.5 255.06,189.5 258.42,189.5 261.77,189.96 265.13,190.18 268.49,189.5 271.85,189.5 275.2,189.5 278.56,189.5 281.92,189.5 285.28,189.5 288.63,189.5 291.99,189.5 295.35,189.5 298.71,189.5 302.06,189.5 305.42,189.5 308.78,189.5 312.14,189.5 315.5,189.5 318.85,190.18 322.21,189.96 325.57,189.5 328.93,189.5 332.28,189.5 335.64,189.5 339,189.5 342.36,189.5 345.71,189.5 349.07,189.5 352.43,189.5"/><polyline points="231.56,189.5 234.91,189.5 238.27,189.5 241.63,189.5 244.99,189.5 248.34,189.5 251.7,189.5 255.06,189.5 258.42,189.5 261.77,190.08 265.13,190.37 268.49,189.5 271.85,189.5 275.2,189.5 278.56,189.5 281.92,189.5 285.28,189.5 288.63,189.5 291.99,189.5 295.35,189.5 298.71,189.5 302.06,189.5 305.42,189.5 308.78,189.5 312.14,189.5 315.5,189.5 318.85,190.37 322.21,190.08 325.57,189.5 328.93,189.5 332.28,189.5 335.64,189.5 339,189.5 342.36,189.5 345.71,189.5 349.07,189.5 352.43,189.5"/><polyline points="231.56,189.5 234.91,189.5 238.27,189.5 241.63,189.5 244.99,189.5 248.34,189.5 251.7,189.5 255.06,189.5 258.42,189.5 261.77,190.22 265.13,190.58 268.49,189.5 271.85,189.5 275.2,189.5 278.56,189.5 281.92,189.5 285.28,189.5 288.63,189.5 291.99,189.5 295.35,189.5 298.71,189.5 302.06,189.5 305.42,189.5 308.78,189.5 312.14,189.5 315.5,189.5 318.85,190.58 322.21,190.22 325.57,189.5 328.93,189.5 332.28,189.5 335.64,189.5 339,189.5 342.36,189.5 345.71,189.5 349.07,189.5 352.43,189.5"/><polyline points="231.56,189.5 234.91,189.5 238.27,189.5 241.63,189.5 244.99,189.5 248.34,189.5 251.7,189.5 255.06,189.5 258.42,189.5 261.77,190.33 265.13,190.75 268.49,189.5 271.85,189.5 275.2,189.5 278.56,189.5 281.92,189.5 285.28,189.5 288.63,189.5 291.99,189.5 295.35,189.5 298.71,189.5 302.06,189.5 305.42,189.5 308.78,189.5 312.14,189.5 315.5,189.5 318.85,190.75 322.21,190.33 325.57,189.5 328.93,189.5 332.28,189.5 335.64,189.5 339,189.5 342.36,189.5 345.71,189.5 349.07,189.5 352.43,189.5"/><polyline points="231.56,189.5 234.91,189.5 238.27,189.5 241.63,189.5 244.99,189.5 248.34,189.5 251.7,189.5 255.06,189.5 258.42,189.5 261.77,190.46 265.13,190.94 268.49,189.5 271.85,189.5 275.2,189.5 278.56,189.5 281.92,189.5 285.28,189.5 288.63,189.5 291.99,189.5 295.35,189.5 298.71,189.5 302.06,189.5 305.42,189.5 308.78,189.5 312.14,189.5 315.5,189.5 318.85,190.94 322.21,190.46 325.57,189.5 328.93,189.5 332.28,189.5 335.64,189.5 339,189.5 342.36,189.5 345.71,189.5 349.07,189.5 352.43,189.5"/><polyline points="231.56,189.5 234.91,189.5 238.27,189.5 241.63,189.5 244.99,189.5 248.34,189.5 251.7,189.5 255.06,189.5 258.42,189.5 261.77,190.55 265.13,191.07 268.49,189.5 271.85,189.5 275.2,189.5 278.56,189.5 281.92,189.5 285.28,189.5 288.63,189.5 291.99,189.5 295.35,189.5 298.71,189.5 302.06,189.5 305.42,189.5 308.78,189.5 312.14,189.5 315.5,189.5 318.85,191.07 322.21,190.55 325.57,189.5 328.93,189.5 332.28,189.5 335.64,189.5 339,189.5 342.36,189.5 345.71,189.5 349.07,189.5 352.43,189.5"/><polyline points="231.56,189.5 234.91,189.5 238.27,189.5 241.63,189.5 244.99,189.5 248.34,189.5 251.7,189.5 255.06,189.5 258.42,189.5 261.77,190.64 265.13,191.21 268.49,189.5 271.85,189.5 275.2,189.5 278.56,189.5 281.92,189.5 285.28,189.5 288.63,189.5 291.99,189.5 295.35,189.5 298.71,189.5 302.06,189.5 305.42,189.5 308.78,189.5 312.14,189.5 315.5,189.5 318.85,191.21 322.21,190.64 325.57,189.5 328.93,189.5 332.28,189.5 335.64,189.5 339,189.5 342.36,189.5 345.71,189.5 349.07,189.5 352.43,189.5"/><line x1="261.77" y1="190.64" x2="261.77" y2="189.5"/><line x1="265.13" y1="191.21" x2="265.13" y2="189.5"/><line x1="318.85" y1="191.21" x2="318.85" y2="189.5"/><line x1="322.21" y1="190.64" x2="322.21" y2="189.5"/></g><g fill="none" stroke="#f0141e" stroke-width="0.9" stroke-linejoin="round"><polyline points="231.56,189.5 234.91,189.5 238.27,189.5 241.63,189.5 244.99,189.5 248.34,189.5 251.7,189.5 255.06,189.5 258.42,189.5 261.77,189.5 265.13,189.5 268.49,189.5 271.85,189.5 275.2,189.5 278.56,189.5 281.92,189.5 285.28,189.5 288.63,189.5 291.99,189.5 295.35,189.5 298.71,189.5 302.06,189.5 305.42,189.5 308.78,189.5 312.14,189.5 315.5,189.5 318.85,189.5 322.21,189.5"/><polyline points="231.56,189.5 234.91,189.5 238.27,189.5 241.63,189.5 244.99,189.5 248.34,189.5 251.7,189.5 255.06,189.49 258.42,189.47 261.77,189.42 265.13,189.34 268.49,189.18 271.85,188.93 275.2,188.56 278.56,188.1 281.92,187.59 285.28,187.12 288.63,186.78 291.99,186.65 295.35,186.78 298.71,187.12 302.06,187.59 305.42,188.1 308.78,188.56 312.14,188.93 315.5,189.18 318.85,189.34 322.21,189.42"/><polyline points="231.56,189.5 234.91,189.5 238.27,189.5 241.63,189.5 244.99,189.5 248.34,189.5 251.7,189.49 255.06,189.47 258.42,189.42 261.77,189.31 265.13,189.11 268.49,188.73 271.85,188.13 275.2,187.26 278.56,186.15 281.92,184.92 285.28,183.78 288.63,182.96 291.99,182.66 295.35,182.96 298.71,183.78 302.06,184.92 305.42,186.15 308.78,187.26 312.14,188.13 315.5,188.73 318.85,189.11 322.21,189.31"/><polyline points="231.56,189.5 234.91,189.5 238.27,189.5 241.63,189.5 244.99,189.5 248.34,189.49 251.7,189.48 255.06,189.45 258.42,189.37 261.77,189.19 265.13,188.84 268.49,188.22 271.85,187.21 275.2,185.76 278.56,183.91 281.92,181.87 285.28,179.97 288.63,178.6 291.99,178.11 295.35,178.6 298.71,179.97 302.06,181.87 305.42,183.91 308.78,185.76 312.14,187.21 315.5,188.22 318.85,188.84 322.21,189.19"/><polyline points="231.56,189.5 234.91,189.5 238.27,189.5 241.63,189.5 244.99,189.5 248.34,189.49 251.7,189.47 255.06,189.42 258.42,189.3 261.77,189.04 265.13,188.51 268.49,187.57 271.85,186.06 275.2,183.89 278.56,181.12 281.92,178.06 285.28,175.2 288.63,173.15 291.99,172.41 295.35,173.15 298.71,175.2 302.06,178.06 305.42,181.12 308.78,183.89 312.14,186.06 315.5,187.57 318.85,188.51 322.21,189.04"/><polyline points="231.56,189.5 234.91,189.5 238.27,189.5 241.63,189.5 244.99,189.5 248.34,189.49 251.7,189.46 255.06,189.4 258.42,189.24 261.77,188.88 265.13,188.18 268.49,186.93 271.85,184.92 275.2,182.02 278.56,178.33 281.92,174.24 285.28,170.43 288.63,167.71 291.99,166.71 295.35,167.71 298.71,170.43 302.06,174.24 305.42,178.33 308.78,182.02 312.14,184.92 315.5,186.93 318.85,188.18 322.21,188.88"/><polyline points="231.56,189.5 234.91,189.5 238.27,189.5 241.63,189.5 244.99,189.5 248.34,189.48 251.7,189.45 255.06,189.37 258.42,189.16 261.77,188.71 265.13,187.82 268.49,186.23 271.85,183.66 275.2,179.96 278.56,175.26 281.92,170.04 285.28,165.19 288.63,161.71 291.99,160.45 295.35,161.71 298.71,165.19 302.06,170.04 305.42,175.26 308.78,179.96 312.14,183.66 315.5,186.23 318.85,187.82 322.21,188.71"/><polyline points="231.56,189.5 234.91,189.5 238.27,189.5 241.63,189.5 244.99,189.49 248.34,189.48 251.7,189.44 255.06,189.34 258.42,189.08 261.77,188.53 265.13,187.43 268.49,185.46 271.85,182.28 275.2,177.72 278.56,171.91 281.92,165.47 285.28,159.47 288.63,155.17 291.99,153.61 295.35,155.17 298.71,159.47 302.06,165.47 305.42,171.91 308.78,177.72 312.14,182.28 315.5,185.46 318.85,187.43 322.21,188.53"/><polyline points="231.56,189.5 234.91,189.5 238.27,189.5 241.63,189.5 244.99,189.49 248.34,189.48 251.7,189.43 255.06,189.31 258.42,189.02 261.77,188.37 265.13,187.1 268.49,184.81 271.85,181.14 275.2,175.85 278.56,169.11 281.92,161.65 285.28,154.7 288.63,149.73 291.99,147.91 295.35,149.73 298.71,154.7 302.06,161.65 305.42,169.11 308.78,175.85 312.14,181.14 315.5,184.81 318.85,187.1 322.21,188.37"/><polyline points="231.56,189.5 234.91,189.5 238.27,189.5 241.63,189.5 244.99,189.49 248.34,189.47 251.7,189.42 255.06,189.28 258.42,188.94 261.77,188.2 265.13,186.74 268.49,184.11 271.85,179.88 275.2,173.79 278.56,166.04 281.92,157.46 285.28,149.46 288.63,143.73 291.99,141.65 295.35,143.73 298.71,149.46 302.06,157.46 305.42,166.04 308.78,173.79 312.14,179.88 315.5,184.11 318.85,186.74 322.21,188.2"/><polyline points="231.56,189.5 234.91,189.5 238.27,189.5 241.63,189.5 244.99,189.49 248.34,189.47 251.7,189.41 255.06,189.26 258.42,188.89 261.77,188.08 265.13,186.47 268.49,183.59 271.85,178.96 275.2,172.29 278.56,163.81 281.92,154.4 285.28,145.65 288.63,139.37 291.99,137.09 295.35,139.37 298.71,145.65 302.06,154.4 305.42,163.81 308.78,172.29 312.14,178.96 315.5,183.59 318.85,186.47 322.21,188.08"/><polyline points="231.56,189.5 234.91,189.5 238.27,189.5 241.63,189.5 244.99,189.49 248.34,189.47 251.7,189.41 255.06,189.24 258.42,188.84 261.77,187.96 265.13,186.21 268.49,183.08 271.85,178.04 275.2,170.8 278.56,161.57 281.92,151.35 285.28,141.83 288.63,135.02 291.99,132.53 295.35,135.02 298.71,141.83 302.06,151.35 305.42,161.57 308.78,170.8 312.14,178.04 315.5,183.08 318.85,186.21 322.21,187.96"/><line x1="255.06" y1="189.5" x2="255.06" y2="189.24"/><line x1="258.42" y1="189.5" x2="258.42" y2="188.84"/><line x1="261.77" y1="189.5" x2="261.77" y2="187.96"/><line x1="265.13" y1="189.5" x2="265.13" y2="186.21"/><line x1="268.49" y1="189.5" x2="268.49" y2="183.08"/><line x1="271.85" y1="189.5" x2="271.85" y2="178.04"/><line x1="275.2" y1="189.5" x2="275.2" y2="170.8"/><line x1="278.56" y1="189.5" x2="278.56" y2="161.57"/><line x1="281.92" y1="189.5" x2="281.92" y2="151.35"/><line x1="285.28" y1="189.5" x2="285.28" y2="141.83"/><line x1="288.63" y1="189.5" x2="288.63" y2="135.02"/><line x1="291.99" y1="189.5" x2="291.99" y2="132.53"/><line x1="295.35" y1="189.5" x2="295.35" y2="135.02"/><line x1="298.71" y1="189.5" x2="298.71" y2="141.83"/><line x1="302.06" y1="189.5" x2="302.06" y2="151.35"/><line x1="305.42" y1="189.5" x2="305.42" y2="161.57"/><line x1="308.78" y1="189.5" x2="308.78" y2="170.8"/><line x1="312.14" y1="189.5" x2="312.14" y2="178.04"/><line x1="315.5" y1="189.5" x2="315.5" y2="183.08"/><line x1="318.85" y1="189.5" x2="318.85" y2="186.21"/><line x1="322.21" y1="189.5" x2="322.21" y2="187.96"/></g>
<polygon points="277.22,189.5 277.79,192.56 278.35,195.62 278.92,198.69 279.49,201.75 280.05,204.81 280.62,207.87 281.19,210.93 281.75,214 282.49,210.93 283.22,207.87 283.96,204.81 284.69,201.75 285.42,198.69 286.16,195.62 286.89,192.56 287.63,189.5" fill="#1f77c4" fill-opacity="0.55" stroke="#1f77c4" stroke-width="0.6" stroke-linejoin="round"/><polyline points="277.22,189.5 277.79,190.27 278.35,191.03 278.92,191.8 279.49,192.56 280.05,193.33 280.62,194.09 281.19,194.86 281.75,195.62 282.49,194.86 283.22,194.09 283.96,193.33 284.69,192.56 285.42,191.8 286.16,191.03 286.89,190.27 287.63,189.5" fill="none" stroke="#1f77c4" stroke-width="0.45"/><polyline points="277.22,189.5 277.79,190.88 278.35,192.26 278.92,193.63 279.49,195.01 280.05,196.39 280.62,197.77 281.19,199.15 281.75,200.52 282.49,199.15 283.22,197.77 283.96,196.39 284.69,195.01 285.42,193.63 286.16,192.26 286.89,190.88 287.63,189.5" fill="none" stroke="#1f77c4" stroke-width="0.45"/><polyline points="277.22,189.5 277.79,191.49 278.35,193.48 278.92,195.47 279.49,197.46 280.05,199.45 280.62,201.44 281.19,203.43 281.75,205.42 282.49,203.43 283.22,201.44 283.96,199.45 284.69,197.46 285.42,195.47 286.16,193.48 286.89,191.49 287.63,189.5" fill="none" stroke="#1f77c4" stroke-width="0.45"/><polyline points="277.22,189.5 277.79,192.1 278.35,194.71 278.92,197.31 279.49,199.91 280.05,202.51 280.62,205.12 281.19,207.72 281.75,210.32 282.49,207.72 283.22,205.12 283.96,202.51 284.69,199.91 285.42,197.31 286.16,194.71 286.89,192.1 287.63,189.5" fill="none" stroke="#1f77c4" stroke-width="0.45"/><polygon points="297.7,189.5 298.27,192.42 298.83,195.34 299.4,198.26 299.97,201.18 300.53,204.1 301.1,207.02 301.67,209.94 302.23,212.86 302.8,209.94 303.37,207.02 303.93,204.1 304.5,201.18 305.07,198.26 305.63,195.34 306.2,192.42 306.77,189.5" fill="#1f77c4" fill-opacity="0.55" stroke="#1f77c4" stroke-width="0.6" stroke-linejoin="round"/><polyline points="297.7,189.5 298.27,190.23 298.83,190.96 299.4,191.69 299.97,192.42 300.53,193.15 301.1,193.88 301.67,194.61 302.23,195.34 302.8,194.61 303.37,193.88 303.93,193.15 304.5,192.42 305.07,191.69 305.63,190.96 306.2,190.23 306.77,189.5" fill="none" stroke="#1f77c4" stroke-width="0.45"/><polyline points="297.7,189.5 298.27,190.81 298.83,192.13 299.4,193.44 299.97,194.76 300.53,196.07 301.1,197.38 301.67,198.7 302.23,200.01 302.8,198.7 303.37,197.38 303.93,196.07 304.5,194.76 305.07,193.44 305.63,192.13 306.2,190.81 306.77,189.5" fill="none" stroke="#1f77c4" stroke-width="0.45"/><polyline points="297.7,189.5 298.27,191.4 298.83,193.3 299.4,195.19 299.97,197.09 300.53,198.99 301.1,200.89 301.67,202.78 302.23,204.68 302.8,202.78 303.37,200.89 303.93,198.99 304.5,197.09 305.07,195.19 305.63,193.3 306.2,191.4 306.77,189.5" fill="none" stroke="#1f77c4" stroke-width="0.45"/><polyline points="297.7,189.5 298.27,191.98 298.83,194.46 299.4,196.94 299.97,199.43 300.53,201.91 301.1,204.39 301.67,206.87 302.23,209.35 302.8,206.87 303.37,204.39 303.93,201.91 304.5,199.43 305.07,196.94 305.63,194.46 306.2,191.98 306.77,189.5" fill="none" stroke="#1f77c4" stroke-width="0.45"/>
<text class="xl" x="295.35" y="229.85" text-anchor="middle"><tspan>n</tspan><tspan class="sub" dy="1">x</tspan></text>
<text class="yl" transform="translate(218.2,175.03) rotate(-90)" text-anchor="middle">G<tspan class="sub" dy="1">k,k,p</tspan></text>
<g stroke="#f0f0f0" stroke-width="0.6"><line x1="399.46" y1="131.2" x2="399.46" y2="215.5"/><line x1="402.83" y1="131.2" x2="402.83" y2="215.5"/><line x1="406.19" y1="131.2" x2="406.19" y2="215.5"/><line x1="409.55" y1="131.2" x2="409.55" y2="215.5"/><line x1="412.91" y1="131.2" x2="412.91" y2="215.5"/><line x1="416.28" y1="131.2" x2="416.28" y2="215.5"/><line x1="419.64" y1="131.2" x2="419.64" y2="215.5"/><line x1="423" y1="131.2" x2="423" y2="215.5"/><line x1="426.36" y1="131.2" x2="426.36" y2="215.5"/><line x1="429.73" y1="131.2" x2="429.73" y2="215.5"/><line x1="433.09" y1="131.2" x2="433.09" y2="215.5"/><line x1="436.45" y1="131.2" x2="436.45" y2="215.5"/><line x1="439.81" y1="131.2" x2="439.81" y2="215.5"/><line x1="443.18" y1="131.2" x2="443.18" y2="215.5"/><line x1="446.54" y1="131.2" x2="446.54" y2="215.5"/><line x1="449.9" y1="131.2" x2="449.9" y2="215.5"/><line x1="453.26" y1="131.2" x2="453.26" y2="215.5"/><line x1="456.62" y1="131.2" x2="456.62" y2="215.5"/><line x1="459.99" y1="131.2" x2="459.99" y2="215.5"/><line x1="463.35" y1="131.2" x2="463.35" y2="215.5"/><line x1="466.71" y1="131.2" x2="466.71" y2="215.5"/><line x1="470.08" y1="131.2" x2="470.08" y2="215.5"/><line x1="473.44" y1="131.2" x2="473.44" y2="215.5"/><line x1="476.8" y1="131.2" x2="476.8" y2="215.5"/><line x1="480.16" y1="131.2" x2="480.16" y2="215.5"/><line x1="483.53" y1="131.2" x2="483.53" y2="215.5"/><line x1="486.89" y1="131.2" x2="486.89" y2="215.5"/><line x1="490.25" y1="131.2" x2="490.25" y2="215.5"/><line x1="493.61" y1="131.2" x2="493.61" y2="215.5"/><line x1="496.98" y1="131.2" x2="496.98" y2="215.5"/><line x1="500.34" y1="131.2" x2="500.34" y2="215.5"/><line x1="503.7" y1="131.2" x2="503.7" y2="215.5"/><line x1="507.06" y1="131.2" x2="507.06" y2="215.5"/><line x1="510.43" y1="131.2" x2="510.43" y2="215.5"/><line x1="513.79" y1="131.2" x2="513.79" y2="215.5"/><line x1="517.15" y1="131.2" x2="517.15" y2="215.5"/><line x1="520.51" y1="131.2" x2="520.51" y2="215.5"/><line x1="523.88" y1="131.2" x2="523.88" y2="215.5"/><line x1="527.24" y1="131.2" x2="527.24" y2="215.5"/><line x1="396.1" y1="194.58" x2="530.6" y2="194.58"/><line x1="396.1" y1="173.5" x2="530.6" y2="173.5"/><line x1="396.1" y1="152.42" x2="530.6" y2="152.42"/></g>
<rect x="396.1" y="131.2" width="134.5" height="84.3" fill="none" stroke="#d0d0d0" stroke-width="0.6"/>
<g stroke="#d0d0d0" stroke-width="0.5"><line x1="396.1" y1="215.5" x2="396.1" y2="214.2"/><line x1="412.91" y1="215.5" x2="412.91" y2="214.2"/><line x1="429.73" y1="215.5" x2="429.73" y2="214.2"/><line x1="446.54" y1="215.5" x2="446.54" y2="214.2"/><line x1="463.35" y1="215.5" x2="463.35" y2="214.2"/><line x1="480.16" y1="215.5" x2="480.16" y2="214.2"/><line x1="496.98" y1="215.5" x2="496.98" y2="214.2"/><line x1="513.79" y1="215.5" x2="513.79" y2="214.2"/><line x1="530.6" y1="215.5" x2="530.6" y2="214.2"/><line x1="396.1" y1="215.65" x2="397.4" y2="215.65"/><line x1="396.1" y1="194.58" x2="397.4" y2="194.58"/><line x1="396.1" y1="173.5" x2="397.4" y2="173.5"/><line x1="396.1" y1="152.42" x2="397.4" y2="152.42"/><line x1="396.1" y1="131.35" x2="397.4" y2="131.35"/></g>
<g class="tl"><text x="396.1" y="221.4" text-anchor="middle">0</text><text x="412.91" y="221.4" text-anchor="middle">5</text><text x="429.73" y="221.4" text-anchor="middle">10</text><text x="446.54" y="221.4" text-anchor="middle">15</text><text x="463.35" y="221.4" text-anchor="middle">20</text><text x="480.16" y="221.4" text-anchor="middle">25</text><text x="496.98" y="221.4" text-anchor="middle">30</text><text x="513.79" y="221.4" text-anchor="middle">35</text><text x="530.6" y="221.4" text-anchor="middle">40</text><text x="394.5" y="217.05" text-anchor="end">-1</text><text x="394.5" y="195.98" text-anchor="end">-0.5</text><text x="394.5" y="174.9" text-anchor="end">0</text><text x="394.5" y="153.82" text-anchor="end">0.5</text><text x="394.5" y="132.75" text-anchor="end">1</text></g>
<g opacity="0.55"><g fill="none" stroke="#1f77c4" stroke-width="0.9" stroke-linejoin="round"><polyline points="439.81,173.5 443.18,173.5 446.54,173.5 449.9,173.5 453.26,173.5 456.62,173.5 459.99,173.5 463.35,173.5 466.71,173.5 470.08,173.5 473.44,173.5 476.8,173.5 480.16,173.5 483.53,173.5"/><polyline points="439.81,173.5 443.18,173.5 446.54,173.08 449.9,173.5 453.26,173.5 456.62,172.34 459.99,173.5 463.35,173.5 466.71,172.55 470.08,173.5 473.44,173.5 476.8,173.25 480.16,173.5 483.53,173.5"/><polyline points="439.81,173.5 443.18,173.5 446.54,172.49 449.9,173.5 453.26,173.5 456.62,170.72 459.99,173.5 463.35,173.5 466.71,171.22 470.08,173.5 473.44,173.5 476.8,172.89 480.16,173.5 483.53,173.5"/><polyline points="439.81,173.5 443.18,173.5 446.54,171.81 449.9,173.5 453.26,173.5 456.62,168.86 459.99,173.5 463.35,173.5 466.71,169.71 470.08,173.5 473.44,173.5 476.8,172.49 480.16,173.5 483.53,173.5"/><polyline points="439.81,173.5 443.18,173.5 446.54,170.97 449.9,173.5 453.26,173.5 456.62,166.55 459.99,173.5 463.35,173.5 466.71,167.81 470.08,173.5 473.44,173.5 476.8,171.98 480.16,173.5 483.53,173.5"/><polyline points="439.81,173.5 443.18,173.5 446.54,170.13 449.9,173.5 453.26,173.5 456.62,164.23 459.99,173.5 463.35,173.5 466.71,165.91 470.08,173.5 473.44,173.5 476.8,171.48 480.16,173.5 483.53,173.5"/><polyline points="439.81,173.5 443.18,173.5 446.54,169.2 449.9,173.5 453.26,173.5 456.62,161.68 459.99,173.5 463.35,173.5 466.71,163.83 470.08,173.5 473.44,173.5 476.8,170.92 480.16,173.5 483.53,173.5"/><polyline points="439.81,173.5 443.18,173.5 446.54,168.19 449.9,173.5 453.26,173.5 456.62,158.9 459.99,173.5 463.35,173.5 466.71,161.55 470.08,173.5 473.44,173.5 476.8,170.31 480.16,173.5 483.53,173.5"/><polyline points="439.81,173.5 443.18,173.5 446.54,167.35 449.9,173.5 453.26,173.5 456.62,156.58 459.99,173.5 463.35,173.5 466.71,159.65 470.08,173.5 473.44,173.5 476.8,169.81 480.16,173.5 483.53,173.5"/><polyline points="439.81,173.5 443.18,173.5 446.54,166.42 449.9,173.5 453.26,173.5 456.62,154.03 459.99,173.5 463.35,173.5 466.71,157.57 470.08,173.5 473.44,173.5 476.8,169.25 480.16,173.5 483.53,173.5"/><polyline points="439.81,173.5 443.18,173.5 446.54,165.74 449.9,173.5 453.26,173.5 456.62,152.17 459.99,173.5 463.35,173.5 466.71,156.05 470.08,173.5 473.44,173.5 476.8,168.85 480.16,173.5 483.53,173.5"/><polyline points="439.81,173.5 443.18,173.5 446.54,165.07 449.9,173.5 453.26,173.5 456.62,150.32 459.99,173.5 463.35,173.5 466.71,154.53 470.08,173.5 473.44,173.5 476.8,168.44 480.16,173.5 483.53,173.5"/><line x1="446.54" y1="173.5" x2="446.54" y2="165.07"/><line x1="456.62" y1="173.5" x2="456.62" y2="150.32"/><line x1="466.71" y1="173.5" x2="466.71" y2="154.53"/><line x1="476.8" y1="173.5" x2="476.8" y2="168.44"/></g></g>
<g fill="none" stroke="#1f77c4" stroke-width="0.9" stroke-linejoin="round"><polyline points="399.46,173.5 402.83,173.5 406.19,173.5 409.55,173.5 412.91,173.5 416.28,173.5 419.64,173.5 423,173.5 426.36,173.5 429.73,173.5 433.09,173.5 436.45,173.5 439.81,173.5 443.18,173.5 446.54,173.5 449.9,173.5 453.26,173.5 456.62,173.5 459.99,173.5 463.35,173.5 466.71,173.5 470.08,173.5 473.44,173.5 476.8,173.5 480.16,173.5 483.53,173.5 486.89,173.5 490.25,173.5 493.61,173.5 496.98,173.5 500.34,173.5 503.7,173.5 507.06,173.5 510.43,173.5 513.79,173.5 517.15,173.5 520.51,173.5"/></g><g fill="none" stroke="#f0141e" stroke-width="0.9" stroke-linejoin="round"><polyline points="399.46,173.5 402.83,173.5 406.19,173.5 409.55,173.5 412.91,173.5 416.28,173.5 419.64,173.5 423,173.5 426.36,173.5 429.73,173.5 433.09,173.5 436.45,173.5 439.81,173.5 443.18,173.5 446.54,173.5 449.9,173.5 453.26,173.5 456.62,173.5 459.99,173.5 463.35,173.5 466.71,173.5 470.08,173.5 473.44,173.5 476.8,173.5 480.16,173.5 483.53,173.5 486.89,173.5 490.25,173.5 493.61,173.5"/><polyline points="399.46,173.5 402.83,173.5 406.19,173.5 409.55,173.5 412.91,173.5 416.28,173.5 419.64,173.5 423,173.49 426.36,173.48 429.73,173.44 433.09,173.38 436.45,173.26 439.81,173.08 443.18,172.81 446.54,172.47 449.9,172.09 453.26,171.74 456.62,171.48 459.99,171.39 463.35,171.48 466.71,171.74 470.08,172.09 473.44,172.47 476.8,172.81 480.16,173.08 483.53,173.26 486.89,173.38 490.25,173.44 493.61,173.48"/><polyline points="399.46,173.5 402.83,173.5 406.19,173.5 409.55,173.5 412.91,173.5 416.28,173.5 419.64,173.49 423,173.48 426.36,173.44 429.73,173.36 433.09,173.21 436.45,172.93 439.81,172.48 443.18,171.84 446.54,171.02 449.9,170.11 453.26,169.27 456.62,168.66 459.99,168.44 463.35,168.66 466.71,169.27 470.08,170.11 473.44,171.02 476.8,171.84 480.16,172.48 483.53,172.93 486.89,173.21 490.25,173.36 493.61,173.44"/><polyline points="399.46,173.5 402.83,173.5 406.19,173.5 409.55,173.5 412.91,173.5 416.28,173.5 419.64,173.49 423,173.46 426.36,173.4 429.73,173.27 433.09,173.01 436.45,172.55 439.81,171.8 443.18,170.73 446.54,169.37 449.9,167.85 453.26,166.45 456.62,165.44 459.99,165.07 463.35,165.44 466.71,166.45 470.08,167.85 473.44,169.37 476.8,170.73 480.16,171.8 483.53,172.55 486.89,173.01 490.25,173.27 493.61,173.4"/><polyline points="399.46,173.5 402.83,173.5 406.19,173.5 409.55,173.5 412.91,173.5 416.28,173.49 419.64,173.48 423,173.44 426.36,173.35 429.73,173.16 433.09,172.77 436.45,172.08 439.81,170.96 443.18,169.35 446.54,167.3 449.9,165.03 453.26,162.92 456.62,161.41 459.99,160.85 463.35,161.41 466.71,162.92 470.08,165.03 473.44,167.3 476.8,169.35 480.16,170.96 483.53,172.08 486.89,172.77 490.25,173.16 493.61,173.35"/><polyline points="399.46,173.5 402.83,173.5 406.19,173.5 409.55,173.5 412.91,173.5 416.28,173.49 419.64,173.47 423,173.42 426.36,173.3 429.73,173.04 433.09,172.53 436.45,171.6 439.81,170.11 443.18,167.96 446.54,165.23 449.9,162.21 453.26,159.39 456.62,157.37 459.99,156.64 463.35,157.37 466.71,159.39 470.08,162.21 473.44,165.23 476.8,167.96 480.16,170.11 483.53,171.6 486.89,172.53 490.25,173.04 493.61,173.3"/><polyline points="399.46,173.5 402.83,173.5 406.19,173.5 409.55,173.5 412.91,173.5 416.28,173.49 419.64,173.46 423,173.4 426.36,173.25 429.73,172.92 433.09,172.26 436.45,171.08 439.81,169.18 443.18,166.44 446.54,162.96 449.9,159.1 453.26,155.51 456.62,152.94 459.99,152 463.35,152.94 466.71,155.51 470.08,159.1 473.44,162.96 476.8,166.44 480.16,169.18 483.53,171.08 486.89,172.26 490.25,172.92 493.61,173.25"/><polyline points="399.46,173.5 402.83,173.5 406.19,173.5 409.55,173.5 412.91,173.5 416.28,173.49 419.64,173.46 423,173.38 426.36,173.19 429.73,172.78 433.09,171.97 436.45,170.51 439.81,168.16 443.18,164.78 446.54,160.48 449.9,155.72 453.26,151.28 456.62,148.1 459.99,146.95 463.35,148.1 466.71,151.28 470.08,155.72 473.44,160.48 476.8,164.78 480.16,168.16 483.53,170.51 486.89,171.97 490.25,172.78 493.61,173.19"/><polyline points="399.46,173.5 402.83,173.5 406.19,173.5 409.55,173.5 412.91,173.5 416.28,173.48 419.64,173.45 423,173.36 426.36,173.14 429.73,172.67 433.09,171.72 436.45,170.03 439.81,167.31 443.18,163.4 446.54,158.42 449.9,152.89 453.26,147.75 456.62,144.07 459.99,142.73 463.35,144.07 466.71,147.75 470.08,152.89 473.44,158.42 476.8,163.4 480.16,167.31 483.53,170.03 486.89,171.72 490.25,172.67 493.61,173.14"/><polyline points="399.46,173.5 402.83,173.5 406.19,173.5 409.55,173.5 412.91,173.49 416.28,173.48 419.64,173.44 423,173.34 426.36,173.09 429.73,172.54 433.09,171.45 436.45,169.51 439.81,166.38 443.18,161.88 446.54,156.14 449.9,149.79 453.26,143.87 456.62,139.64 459.99,138.09 463.35,139.64 466.71,143.87 470.08,149.79 473.44,156.14 476.8,161.88 480.16,166.38 483.53,169.51 486.89,171.45 490.25,172.54 493.61,173.09"/><polyline points="399.46,173.5 402.83,173.5 406.19,173.5 409.55,173.5 412.91,173.49 416.28,173.48 419.64,173.44 423,173.32 426.36,173.05 429.73,172.45 433.09,171.26 436.45,169.13 439.81,165.7 443.18,160.77 446.54,154.49 449.9,147.53 453.26,141.05 456.62,136.41 459.99,134.72 463.35,136.41 466.71,141.05 470.08,147.53 473.44,154.49 476.8,160.77 480.16,165.7 483.53,169.13 486.89,171.26 490.25,172.45 493.61,173.05"/><polyline points="399.46,173.5 402.83,173.5 406.19,173.5 409.55,173.5 412.91,173.49 416.28,173.48 419.64,173.43 423,173.31 426.36,173.01 429.73,172.36 433.09,171.07 436.45,168.75 439.81,165.02 443.18,159.66 446.54,152.84 449.9,145.27 453.26,138.23 456.62,133.19 459.99,131.35 463.35,133.19 466.71,138.23 470.08,145.27 473.44,152.84 476.8,159.66 480.16,165.02 483.53,168.75 486.89,171.07 490.25,172.36 493.61,173.01"/><line x1="423" y1="173.5" x2="423" y2="173.31"/><line x1="426.36" y1="173.5" x2="426.36" y2="173.01"/><line x1="429.73" y1="173.5" x2="429.73" y2="172.36"/><line x1="433.09" y1="173.5" x2="433.09" y2="171.07"/><line x1="436.45" y1="173.5" x2="436.45" y2="168.75"/><line x1="439.81" y1="173.5" x2="439.81" y2="165.02"/><line x1="443.18" y1="173.5" x2="443.18" y2="159.66"/><line x1="446.54" y1="173.5" x2="446.54" y2="152.84"/><line x1="449.9" y1="173.5" x2="449.9" y2="145.27"/><line x1="453.26" y1="173.5" x2="453.26" y2="138.23"/><line x1="456.62" y1="173.5" x2="456.62" y2="133.19"/><line x1="459.99" y1="173.5" x2="459.99" y2="131.35"/><line x1="463.35" y1="173.5" x2="463.35" y2="133.19"/><line x1="466.71" y1="173.5" x2="466.71" y2="138.23"/><line x1="470.08" y1="173.5" x2="470.08" y2="145.27"/><line x1="473.44" y1="173.5" x2="473.44" y2="152.84"/><line x1="476.8" y1="173.5" x2="476.8" y2="159.66"/><line x1="480.16" y1="173.5" x2="480.16" y2="165.02"/><line x1="483.53" y1="173.5" x2="483.53" y2="168.75"/><line x1="486.89" y1="173.5" x2="486.89" y2="171.07"/><line x1="490.25" y1="173.5" x2="490.25" y2="172.36"/><line x1="493.61" y1="173.5" x2="493.61" y2="173.01"/></g>
<polygon points="440.32,173.5 440.65,173.94 440.99,174.65 441.33,175.53 441.66,176.53 442,177.65 442.33,178.85 442.67,180.14 443.01,181.51 443.34,180.14 443.68,178.85 444.02,177.65 444.35,176.53 444.69,175.53 445.02,174.65 445.36,173.94 445.7,173.5" fill="#1f77c4" fill-opacity="1.0" stroke="#1f77c4" stroke-width="0.6" stroke-linejoin="round"/><polygon points="450.24,173.5 450.59,174.78 450.95,176.87 451.31,179.44 451.67,182.38 452.02,185.64 452.38,189.17 452.74,192.94 453.09,196.94 453.45,192.94 453.81,189.17 454.17,185.64 454.52,182.38 454.88,179.44 455.24,176.87 455.6,174.78 455.95,173.5" fill="#1f77c4" fill-opacity="1.0" stroke="#1f77c4" stroke-width="0.6" stroke-linejoin="round"/><polygon points="460.16,173.5 460.51,174.99 460.87,177.43 461.23,180.44 461.58,183.88 461.94,187.69 462.3,191.81 462.66,196.23 463.01,200.9 463.37,196.23 463.73,191.81 464.09,187.69 464.44,183.88 464.8,180.44 465.16,177.43 465.51,174.99 465.87,173.5" fill="#1f77c4" fill-opacity="1.0" stroke="#1f77c4" stroke-width="0.6" stroke-linejoin="round"/><polygon points="470.92,173.5 471.23,174.19 471.55,175.32 471.86,176.7 472.18,178.29 472.49,180.05 472.81,181.95 473.12,183.99 473.44,186.15 473.75,183.99 474.07,181.95 474.38,180.05 474.7,178.29 475.01,176.7 475.33,175.32 475.64,174.19 475.96,173.5" fill="#1f77c4" fill-opacity="1.0" stroke="#1f77c4" stroke-width="0.6" stroke-linejoin="round"/><polygon points="481.84,173.5 482.05,173.76 482.26,174.03 482.47,174.29 482.68,174.55 482.89,174.82 483.1,175.08 483.31,175.34 483.53,175.61 483.74,175.34 483.95,175.08 484.16,174.82 484.37,174.55 484.58,174.29 484.79,174.03 485,173.76 485.21,173.5" fill="#1f77c4" fill-opacity="1.0" stroke="#1f77c4" stroke-width="0.6" stroke-linejoin="round"/><polygon points="431.07,173.5 431.24,173.63 431.41,173.76 431.57,173.9 431.74,174.03 431.91,174.16 432.08,174.29 432.25,174.42 432.42,174.55 432.58,174.42 432.75,174.29 432.92,174.16 433.09,174.03 433.26,173.9 433.42,173.76 433.59,173.63 433.76,173.5" fill="#1f77c4" fill-opacity="1.0" stroke="#1f77c4" stroke-width="0.6" stroke-linejoin="round"/>
<text class="xl" x="463.35" y="227.6" text-anchor="middle"><tspan>n</tspan><tspan class="sub" dy="1">x</tspan></text>
<text class="yl" transform="translate(386.1,173.35) rotate(-90)" text-anchor="middle">G<tspan class="sub" dy="1">k,k,p</tspan></text>
<g stroke="#f0f0f0" stroke-width="0.6"><line x1="61.81" y1="238.2" x2="61.81" y2="322.75"/><line x1="66.31" y1="238.2" x2="66.31" y2="322.75"/><line x1="70.82" y1="238.2" x2="70.82" y2="322.75"/><line x1="75.33" y1="238.2" x2="75.33" y2="322.75"/><line x1="79.83" y1="238.2" x2="79.83" y2="322.75"/><line x1="84.34" y1="238.2" x2="84.34" y2="322.75"/><line x1="88.85" y1="238.2" x2="88.85" y2="322.75"/><line x1="93.35" y1="238.2" x2="93.35" y2="322.75"/><line x1="97.86" y1="238.2" x2="97.86" y2="322.75"/><line x1="102.37" y1="238.2" x2="102.37" y2="322.75"/><line x1="106.87" y1="238.2" x2="106.87" y2="322.75"/><line x1="111.38" y1="238.2" x2="111.38" y2="322.75"/><line x1="115.89" y1="238.2" x2="115.89" y2="322.75"/><line x1="120.39" y1="238.2" x2="120.39" y2="322.75"/><line x1="124.9" y1="238.2" x2="124.9" y2="322.75"/><line x1="129.41" y1="238.2" x2="129.41" y2="322.75"/><line x1="133.91" y1="238.2" x2="133.91" y2="322.75"/><line x1="138.42" y1="238.2" x2="138.42" y2="322.75"/><line x1="142.93" y1="238.2" x2="142.93" y2="322.75"/><line x1="147.43" y1="238.2" x2="147.43" y2="322.75"/><line x1="151.94" y1="238.2" x2="151.94" y2="322.75"/><line x1="156.45" y1="238.2" x2="156.45" y2="322.75"/><line x1="160.95" y1="238.2" x2="160.95" y2="322.75"/><line x1="165.46" y1="238.2" x2="165.46" y2="322.75"/><line x1="169.97" y1="238.2" x2="169.97" y2="322.75"/><line x1="174.47" y1="238.2" x2="174.47" y2="322.75"/><line x1="178.98" y1="238.2" x2="178.98" y2="322.75"/><line x1="183.49" y1="238.2" x2="183.49" y2="322.75"/><line x1="187.99" y1="238.2" x2="187.99" y2="322.75"/><line x1="57.3" y1="294.5" x2="192.5" y2="294.5"/><line x1="57.3" y1="266.32" x2="192.5" y2="266.32"/></g>
<rect x="57.3" y="238.2" width="135.2" height="84.55" fill="none" stroke="#d0d0d0" stroke-width="0.6"/>
<g stroke="#d0d0d0" stroke-width="0.5"><line x1="57.3" y1="322.75" x2="57.3" y2="321.45"/><line x1="79.83" y1="322.75" x2="79.83" y2="321.45"/><line x1="102.37" y1="322.75" x2="102.37" y2="321.45"/><line x1="124.9" y1="322.75" x2="124.9" y2="321.45"/><line x1="147.43" y1="322.75" x2="147.43" y2="321.45"/><line x1="169.97" y1="322.75" x2="169.97" y2="321.45"/><line x1="192.5" y1="322.75" x2="192.5" y2="321.45"/><line x1="57.3" y1="322.68" x2="58.6" y2="322.68"/><line x1="57.3" y1="294.5" x2="58.6" y2="294.5"/><line x1="57.3" y1="266.32" x2="58.6" y2="266.32"/><line x1="57.3" y1="238.13" x2="58.6" y2="238.13"/></g>
<g class="tl"><text x="57.3" y="328.65" text-anchor="middle">0</text><text x="79.83" y="328.65" text-anchor="middle">5</text><text x="102.37" y="328.65" text-anchor="middle">10</text><text x="124.9" y="328.65" text-anchor="middle">15</text><text x="147.43" y="328.65" text-anchor="middle">20</text><text x="169.97" y="328.65" text-anchor="middle">25</text><text x="192.5" y="328.65" text-anchor="middle">30</text><text x="55.7" y="324.08" text-anchor="end">-0.5</text><text x="55.7" y="295.9" text-anchor="end">0</text><text x="55.7" y="267.72" text-anchor="end">0.5</text><text x="55.7" y="239.53" text-anchor="end">1</text></g>
<g fill="none" stroke="#f0141e" stroke-width="0.9" stroke-linejoin="round"><polyline points="61.81,294.5 66.31,294.5 70.82,294.5 75.33,294.5 79.83,294.5 84.34,294.5 88.85,294.5 93.35,294.5 97.86,294.5 102.37,294.5 106.87,294.5 111.38,294.5 115.89,294.5 120.39,294.5 124.9,294.5 129.41,294.5 133.91,294.5 138.42,294.5 142.93,294.5 147.43,294.5 151.94,294.5 156.45,294.5 160.95,294.5 165.46,294.5 169.97,294.5 174.47,294.5 178.98,294.5"/><polyline points="61.81,294.5 66.31,294.5 70.82,294.5 75.33,294.5 79.83,294.5 84.34,294.5 88.85,294.5 93.35,294.5 97.86,294.5 102.37,294.49 106.87,294.45 111.38,294.25 115.89,293.77 120.39,293.37 124.9,293.77 129.41,294.25 133.91,294.45 138.42,294.49 142.93,294.5 147.43,294.5 151.94,294.5 156.45,294.5 160.95,294.5 165.46,294.5 169.97,294.5 174.47,294.5 178.98,294.5"/><polyline points="61.81,294.5 66.31,294.5 70.82,294.5 75.33,294.5 79.83,294.5 84.34,294.5 88.85,294.5 93.35,294.5 97.86,294.5 102.37,294.48 106.87,294.3 111.38,293.49 115.89,291.56 120.39,289.99 124.9,291.56 129.41,293.49 133.91,294.3 138.42,294.48 142.93,294.5 147.43,294.5 151.94,294.5 156.45,294.5 160.95,294.5 165.46,294.5 169.97,294.5 174.47,294.5 178.98,294.5"/><polyline points="61.81,294.5 66.31,294.5 70.82,294.5 75.33,294.5 79.83,294.5 84.34,294.5 88.85,294.5 93.35,294.5 97.86,294.49 102.37,294.43 106.87,293.89 111.38,291.46 115.89,285.69 120.39,280.97 124.9,285.69 129.41,291.46 133.91,293.89 138.42,294.43 142.93,294.49 147.43,294.5 151.94,294.5 156.45,294.5 160.95,294.5 165.46,294.5 169.97,294.5 174.47,294.5 178.98,294.5"/><polyline points="61.81,294.5 66.31,294.5 70.82,294.5 75.33,294.5 79.83,294.5 84.34,294.5 88.85,294.5 93.35,294.5 97.86,294.48 102.37,294.29 106.87,292.77 111.38,285.9 115.89,269.54 120.39,256.17 124.9,269.54 129.41,285.9 133.91,292.77 138.42,294.29 142.93,294.48 147.43,294.5 151.94,294.5 156.45,294.5 160.95,294.5 165.46,294.5 169.97,294.5 174.47,294.5 178.98,294.5"/><polyline points="61.81,294.5 66.31,294.5 70.82,294.5 75.33,294.5 79.83,294.5 84.34,294.5 88.85,294.5 93.35,294.5 97.86,294.48 102.37,294.19 106.87,291.96 111.38,281.85 115.89,257.8 120.39,238.13 124.9,257.8 129.41,281.85 133.91,291.96 138.42,294.19 142.93,294.48 147.43,294.5 151.94,294.5 156.45,294.5 160.95,294.5 165.46,294.5 169.97,294.5 174.47,294.5 178.98,294.5"/><line x1="102.37" y1="294.5" x2="102.37" y2="294.19"/><line x1="106.87" y1="294.5" x2="106.87" y2="291.96"/><line x1="111.38" y1="294.5" x2="111.38" y2="281.85"/><line x1="115.89" y1="294.5" x2="115.89" y2="257.8"/><line x1="120.39" y1="294.5" x2="120.39" y2="238.13"/><line x1="124.9" y1="294.5" x2="124.9" y2="257.8"/><line x1="129.41" y1="294.5" x2="129.41" y2="281.85"/><line x1="133.91" y1="294.5" x2="133.91" y2="291.96"/><line x1="138.42" y1="294.5" x2="138.42" y2="294.19"/></g><g fill="none" stroke="#1f77c4" stroke-width="0.9" stroke-linejoin="round"><polyline points="75.33,294.5 79.83,294.5 84.34,294.5 88.85,294.5 93.35,294.5 97.86,294.5 102.37,294.5 106.87,294.5 111.38,294.5 115.89,294.5 120.39,294.5 124.9,294.5 129.41,294.5 133.91,294.5 138.42,294.5 142.93,294.5 147.43,294.5 151.94,294.5 156.45,294.5 160.95,294.5 165.46,294.5 169.97,294.5 174.47,294.5 178.98,294.5"/><polyline points="75.33,294.5 79.83,294.5 84.34,294.5 88.85,294.5 93.35,294.5 97.86,294.5 102.37,294.5 106.87,294.5 111.38,294.5 115.89,294.5 120.39,294.5 124.9,297.37 129.41,296.42 133.91,295.18 138.42,294.61 142.93,294.5 147.43,294.5 151.94,294.5 156.45,294.5 160.95,294.5 165.46,294.5 169.97,294.5 174.47,294.5 178.98,294.5"/><polyline points="75.33,294.5 79.83,294.5 84.34,294.5 88.85,294.5 93.35,294.5 97.86,294.5 102.37,294.5 106.87,294.5 111.38,294.5 115.89,294.5 120.39,294.5 124.9,303.12 129.41,300.25 133.91,296.53 138.42,294.84 142.93,294.5 147.43,294.5 151.94,294.5 156.45,294.5 160.95,294.5 165.46,294.5 169.97,294.5 174.47,294.5 178.98,294.5"/><polyline points="75.33,294.5 79.83,294.5 84.34,294.5 88.85,294.5 93.35,294.5 97.86,294.5 102.37,294.5 106.87,294.5 111.38,294.5 115.89,294.5 120.39,294.5 124.9,314.34 129.41,307.72 133.91,299.17 138.42,295.28 142.93,294.5 147.43,294.5 151.94,294.5 156.45,294.5 160.95,294.5 165.46,294.5 169.97,294.5 174.47,294.5 178.98,294.5"/><polyline points="75.33,294.5 79.83,294.5 84.34,294.5 88.85,294.5 93.35,294.5 97.86,294.5 102.37,294.5 106.87,294.5 111.38,294.5 115.89,294.5 120.39,294.5 124.9,323.25 129.41,313.66 133.91,301.26 138.42,295.63 142.93,294.5 147.43,294.5 151.94,294.5 156.45,294.5 160.95,294.5 165.46,294.5 169.97,294.5 174.47,294.5 178.98,294.5"/><line x1="124.9" y1="323.25" x2="124.9" y2="294.5"/><line x1="129.41" y1="313.66" x2="129.41" y2="294.5"/><line x1="133.91" y1="301.26" x2="133.91" y2="294.5"/><line x1="138.42" y1="295.63" x2="138.42" y2="294.5"/></g>
<g opacity="0.7"><g fill="none" stroke="#1f77c4" stroke-width="0.9" stroke-linejoin="round"><polyline points="97.86,294.5 102.37,294.39 106.87,294.05 111.38,292.81 115.89,292.08 120.39,294.5"/><polyline points="97.86,294.5 102.37,294.16 106.87,293.15 111.38,289.43 115.89,287.23 120.39,294.5"/><polyline points="97.86,294.5 102.37,293.72 106.87,291.39 111.38,282.83 115.89,277.78 120.39,294.5"/><polyline points="97.86,294.5 102.37,293.37 106.87,289.99 111.38,277.59 115.89,270.26 120.39,294.5"/><line x1="102.37" y1="294.39" x2="102.37" y2="293.37"/><line x1="106.87" y1="294.05" x2="106.87" y2="289.99"/><line x1="111.38" y1="292.81" x2="111.38" y2="277.59"/><line x1="115.89" y1="292.08" x2="115.89" y2="270.26"/></g></g>

<text class="xl" x="124.9" y="334.85" text-anchor="middle"><tspan>n</tspan><tspan class="sub" dy="1">x</tspan></text>
<text class="yl" transform="translate(47.3,280.48) rotate(-90)" text-anchor="middle">G<tspan class="sub" dy="1">k,k,p</tspan></text>
<g stroke="#f0f0f0" stroke-width="0.6"><line x1="232.48" y1="238.2" x2="232.48" y2="323"/><line x1="236.97" y1="238.2" x2="236.97" y2="323"/><line x1="241.45" y1="238.2" x2="241.45" y2="323"/><line x1="245.93" y1="238.2" x2="245.93" y2="323"/><line x1="250.42" y1="238.2" x2="250.42" y2="323"/><line x1="254.9" y1="238.2" x2="254.9" y2="323"/><line x1="259.38" y1="238.2" x2="259.38" y2="323"/><line x1="263.87" y1="238.2" x2="263.87" y2="323"/><line x1="268.35" y1="238.2" x2="268.35" y2="323"/><line x1="272.83" y1="238.2" x2="272.83" y2="323"/><line x1="277.32" y1="238.2" x2="277.32" y2="323"/><line x1="281.8" y1="238.2" x2="281.8" y2="323"/><line x1="286.28" y1="238.2" x2="286.28" y2="323"/><line x1="290.77" y1="238.2" x2="290.77" y2="323"/><line x1="295.25" y1="238.2" x2="295.25" y2="323"/><line x1="299.73" y1="238.2" x2="299.73" y2="323"/><line x1="304.22" y1="238.2" x2="304.22" y2="323"/><line x1="308.7" y1="238.2" x2="308.7" y2="323"/><line x1="313.18" y1="238.2" x2="313.18" y2="323"/><line x1="317.67" y1="238.2" x2="317.67" y2="323"/><line x1="322.15" y1="238.2" x2="322.15" y2="323"/><line x1="326.63" y1="238.2" x2="326.63" y2="323"/><line x1="331.12" y1="238.2" x2="331.12" y2="323"/><line x1="335.6" y1="238.2" x2="335.6" y2="323"/><line x1="340.08" y1="238.2" x2="340.08" y2="323"/><line x1="344.57" y1="238.2" x2="344.57" y2="323"/><line x1="349.05" y1="238.2" x2="349.05" y2="323"/><line x1="353.53" y1="238.2" x2="353.53" y2="323"/><line x1="358.02" y1="238.2" x2="358.02" y2="323"/><line x1="228" y1="294.5" x2="362.5" y2="294.5"/><line x1="228" y1="266.23" x2="362.5" y2="266.23"/></g>
<rect x="228" y="238.2" width="134.5" height="84.8" fill="none" stroke="#d0d0d0" stroke-width="0.6"/>
<g stroke="#d0d0d0" stroke-width="0.5"><line x1="228" y1="323" x2="228" y2="321.7"/><line x1="250.42" y1="323" x2="250.42" y2="321.7"/><line x1="272.83" y1="323" x2="272.83" y2="321.7"/><line x1="295.25" y1="323" x2="295.25" y2="321.7"/><line x1="317.67" y1="323" x2="317.67" y2="321.7"/><line x1="340.08" y1="323" x2="340.08" y2="321.7"/><line x1="362.5" y1="323" x2="362.5" y2="321.7"/><line x1="228" y1="322.77" x2="229.3" y2="322.77"/><line x1="228" y1="294.5" x2="229.3" y2="294.5"/><line x1="228" y1="266.23" x2="229.3" y2="266.23"/><line x1="228" y1="237.97" x2="229.3" y2="237.97"/></g>
<g class="tl"><text x="228" y="328.9" text-anchor="middle">0</text><text x="250.42" y="328.9" text-anchor="middle">5</text><text x="272.83" y="328.9" text-anchor="middle">10</text><text x="295.25" y="328.9" text-anchor="middle">15</text><text x="317.67" y="328.9" text-anchor="middle">20</text><text x="340.08" y="328.9" text-anchor="middle">25</text><text x="362.5" y="328.9" text-anchor="middle">30</text><text x="226.4" y="324.17" text-anchor="end">-0.5</text><text x="226.4" y="295.9" text-anchor="end">0</text><text x="226.4" y="267.63" text-anchor="end">0.5</text><text x="226.4" y="239.37" text-anchor="end">1</text></g>
<g opacity="0.55"><g fill="none" stroke="#1f77c4" stroke-width="0.9" stroke-linejoin="round"><polyline points="268.35,294.5 272.83,294.5 277.32,294.5 281.8,294.5 286.28,294.5 290.77,294.5 295.25,294.5 299.73,294.5 304.22,294.5"/><polyline points="268.35,294.5 272.83,294.5 277.32,294.26 281.8,294.5 286.28,294.5 290.77,294.5 295.25,292.68 299.73,294.5 304.22,294.5"/><polyline points="268.35,294.5 272.83,294.5 277.32,294.06 281.8,294.5 286.28,294.5 290.77,294.5 295.25,291.12 299.73,294.5 304.22,294.5"/><polyline points="268.35,294.5 272.83,294.5 277.32,293.62 281.8,294.5 286.28,294.5 290.77,294.5 295.25,287.74 299.73,294.5 304.22,294.5"/><polyline points="268.35,294.5 272.83,294.5 277.32,292.91 281.8,294.5 286.28,294.5 290.77,294.5 295.25,282.28 299.73,294.5 304.22,294.5"/><polyline points="268.35,294.5 272.83,294.5 277.32,292.35 281.8,294.5 286.28,294.5 290.77,294.5 295.25,277.99 299.73,294.5 304.22,294.5"/><polyline points="268.35,294.5 272.83,294.5 277.32,291.58 281.8,294.5 286.28,294.5 290.77,294.5 295.25,272.14 299.73,294.5 304.22,294.5"/><polyline points="268.35,294.5 272.83,294.5 277.32,291.11 281.8,294.5 286.28,294.5 290.77,294.5 295.25,268.49 299.73,294.5 304.22,294.5"/><line x1="277.32" y1="294.5" x2="277.32" y2="291.11"/><line x1="295.25" y1="294.5" x2="295.25" y2="268.49"/></g></g>
<g fill="none" stroke="#1f77c4" stroke-width="0.9" stroke-linejoin="round"><polyline points="232.48,294.5 236.97,294.5 241.45,294.5 245.93,294.5 250.42,294.5 254.9,294.5 259.38,294.5 263.87,294.5 268.35,294.5 272.83,294.5 277.32,294.5 281.8,294.5 286.28,294.5 290.77,294.5 295.25,294.5 299.73,294.5 304.22,294.5 308.7,294.5 313.18,294.5 317.67,294.5 322.15,294.5 326.63,294.5 331.12,294.5 335.6,294.5 340.08,294.5 344.57,294.5 349.05,294.5"/><polyline points="232.48,294.5 236.97,294.5 241.45,294.5 245.93,294.5 250.42,294.5 254.9,294.5 259.38,294.5 263.87,294.5 268.35,294.62 272.83,294.5 277.32,294.5 281.8,294.5 286.28,294.5 290.77,294.5 295.25,294.5 299.73,294.5 304.22,294.5 308.7,294.5 313.18,294.5 317.67,294.5 322.15,294.5 326.63,294.5 331.12,294.5 335.6,294.5 340.08,294.5 344.57,294.5 349.05,294.5"/><polyline points="232.48,294.5 236.97,294.5 241.45,294.5 245.93,294.5 250.42,294.5 254.9,294.5 259.38,294.5 263.87,294.5 268.35,294.72 272.83,294.5 277.32,294.5 281.8,294.5 286.28,294.5 290.77,294.5 295.25,294.5 299.73,294.5 304.22,294.5 308.7,294.5 313.18,294.5 317.67,294.5 322.15,294.5 326.63,294.5 331.12,294.5 335.6,294.5 340.08,294.5 344.57,294.5 349.05,294.5"/><polyline points="232.48,294.5 236.97,294.5 241.45,294.5 245.93,294.5 250.42,294.5 254.9,294.5 259.38,294.5 263.87,294.5 268.35,294.94 272.83,294.5 277.32,294.5 281.8,294.5 286.28,294.5 290.77,294.5 295.25,294.5 299.73,294.5 304.22,294.5 308.7,294.5 313.18,294.5 317.67,294.5 322.15,294.5 326.63,294.5 331.12,294.5 335.6,294.5 340.08,294.5 344.57,294.5 349.05,294.5"/><polyline points="232.48,294.5 236.97,294.5 241.45,294.5 245.93,294.5 250.42,294.5 254.9,294.5 259.38,294.5 263.87,294.5 268.35,295.3 272.83,294.5 277.32,294.5 281.8,294.5 286.28,294.5 290.77,294.5 295.25,294.5 299.73,294.5 304.22,294.5 308.7,294.5 313.18,294.5 317.67,294.5 322.15,294.5 326.63,294.5 331.12,294.5 335.6,294.5 340.08,294.5 344.57,294.5 349.05,294.5"/><polyline points="232.48,294.5 236.97,294.5 241.45,294.5 245.93,294.5 250.42,294.5 254.9,294.5 259.38,294.5 263.87,294.5 268.35,295.58 272.83,294.5 277.32,294.5 281.8,294.5 286.28,294.5 290.77,294.5 295.25,294.5 299.73,294.5 304.22,294.5 308.7,294.5 313.18,294.5 317.67,294.5 322.15,294.5 326.63,294.5 331.12,294.5 335.6,294.5 340.08,294.5 344.57,294.5 349.05,294.5"/><polyline points="232.48,294.5 236.97,294.5 241.45,294.5 245.93,294.5 250.42,294.5 254.9,294.5 259.38,294.5 263.87,294.5 268.35,295.96 272.83,294.5 277.32,294.5 281.8,294.5 286.28,294.5 290.77,294.5 295.25,294.5 299.73,294.5 304.22,294.5 308.7,294.5 313.18,294.5 317.67,294.5 322.15,294.5 326.63,294.5 331.12,294.5 335.6,294.5 340.08,294.5 344.57,294.5 349.05,294.5"/><polyline points="232.48,294.5 236.97,294.5 241.45,294.5 245.93,294.5 250.42,294.5 254.9,294.5 259.38,294.5 263.87,294.5 268.35,296.2 272.83,294.5 277.32,294.5 281.8,294.5 286.28,294.5 290.77,294.5 295.25,294.5 299.73,294.5 304.22,294.5 308.7,294.5 313.18,294.5 317.67,294.5 322.15,294.5 326.63,294.5 331.12,294.5 335.6,294.5 340.08,294.5 344.57,294.5 349.05,294.5"/><line x1="268.35" y1="296.2" x2="268.35" y2="294.5"/></g><g fill="none" stroke="#f0141e" stroke-width="0.9" stroke-linejoin="round"><polyline points="232.48,294.5 233.6,294.5 234.72,294.5 235.85,294.5 236.97,294.5 238.09,294.5 239.21,294.5 240.33,294.5 241.45,294.5 242.57,294.5 243.69,294.5 244.81,294.5 245.93,294.5 247.05,294.5 248.18,294.5 249.3,294.5 250.42,294.5 251.54,294.5 252.66,294.5 253.78,294.5 254.9,294.5 256.02,294.5 257.14,294.5 258.26,294.5 259.38,294.5 260.5,294.5 261.62,294.5 262.75,294.5 263.87,294.5 264.99,294.5 266.11,294.5 267.23,294.5 268.35,294.5 269.47,294.5 270.59,294.5 271.71,294.5 272.83,294.5 273.95,294.5 275.07,294.5 276.2,294.5 277.32,294.5 278.44,294.5 279.56,294.5 280.68,294.5 281.8,294.5 282.92,294.5 284.04,294.5 285.16,294.5 286.28,294.5 287.4,294.5 288.52,294.5 289.65,294.5 290.77,294.5 291.89,294.5 293.01,294.5 294.13,294.5 295.25,294.5 296.37,294.5 297.49,294.5 298.61,294.5 299.73,294.5 300.85,294.5 301.98,294.5 303.1,294.5 304.22,294.5 305.34,294.5 306.46,294.5 307.58,294.5 308.7,294.5 309.82,294.5 310.94,294.5 312.06,294.5 313.18,294.5 314.3,294.5 315.43,294.5 316.55,294.5 317.67,294.5 318.79,294.5 319.91,294.5 321.03,294.5 322.15,294.5"/><polyline points="232.48,294.5 233.6,294.5 234.72,294.5 235.85,294.5 236.97,294.5 238.09,294.5 239.21,294.5 240.33,294.5 241.45,294.5 242.57,294.5 243.69,294.5 244.81,294.5 245.93,294.5 247.05,294.5 248.18,294.5 249.3,294.5 250.42,294.5 251.54,294.5 252.66,294.5 253.78,294.5 254.9,294.5 256.02,294.5 257.14,294.5 258.26,294.49 259.38,294.49 260.5,294.48 261.62,294.47 262.75,294.46 263.87,294.45 264.99,294.42 266.11,294.39 267.23,294.35 268.35,294.3 269.47,294.23 270.59,294.14 271.71,294.04 272.83,293.91 273.95,293.76 275.07,293.58 276.2,293.37 277.32,293.14 278.44,292.89 279.56,292.62 280.68,292.33 281.8,292.04 282.92,291.75 284.04,291.47 285.16,291.21 286.28,290.99 287.4,290.8 288.52,290.66 289.65,290.57 290.77,290.54 291.89,290.57 293.01,290.66 294.13,290.8 295.25,290.99 296.37,291.21 297.49,291.47 298.61,291.75 299.73,292.04 300.85,292.33 301.98,292.62 303.1,292.89 304.22,293.14 305.34,293.37 306.46,293.58 307.58,293.76 308.7,293.91 309.82,294.04 310.94,294.14 312.06,294.23 313.18,294.3 314.3,294.35 315.43,294.39 316.55,294.42 317.67,294.45 318.79,294.46 319.91,294.47 321.03,294.48 322.15,294.49"/><polyline points="232.48,294.5 233.6,294.5 234.72,294.5 235.85,294.5 236.97,294.5 238.09,294.5 239.21,294.5 240.33,294.5 241.45,294.5 242.57,294.5 243.69,294.5 244.81,294.5 245.93,294.5 247.05,294.5 248.18,294.5 249.3,294.5 250.42,294.5 251.54,294.5 252.66,294.5 253.78,294.5 254.9,294.5 256.02,294.49 257.14,294.49 258.26,294.49 259.38,294.48 260.5,294.47 261.62,294.45 262.75,294.43 263.87,294.4 264.99,294.36 266.11,294.3 267.23,294.22 268.35,294.12 269.47,294 270.59,293.84 271.71,293.64 272.83,293.4 273.95,293.12 275.07,292.79 276.2,292.41 277.32,291.98 278.44,291.51 279.56,291.01 280.68,290.48 281.8,289.93 282.92,289.39 284.04,288.88 285.16,288.4 286.28,287.98 287.4,287.63 288.52,287.37 289.65,287.21 290.77,287.15 291.89,287.21 293.01,287.37 294.13,287.63 295.25,287.98 296.37,288.4 297.49,288.88 298.61,289.39 299.73,289.93 300.85,290.48 301.98,291.01 303.1,291.51 304.22,291.98 305.34,292.41 306.46,292.79 307.58,293.12 308.7,293.4 309.82,293.64 310.94,293.84 312.06,294 313.18,294.12 314.3,294.22 315.43,294.3 316.55,294.36 317.67,294.4 318.79,294.43 319.91,294.45 321.03,294.47 322.15,294.48"/><polyline points="232.48,294.5 233.6,294.5 234.72,294.5 235.85,294.5 236.97,294.5 238.09,294.5 239.21,294.5 240.33,294.5 241.45,294.5 242.57,294.5 243.69,294.5 244.81,294.5 245.93,294.5 247.05,294.5 248.18,294.5 249.3,294.5 250.42,294.5 251.54,294.5 252.66,294.5 253.78,294.5 254.9,294.49 256.02,294.49 257.14,294.48 258.26,294.47 259.38,294.46 260.5,294.43 261.62,294.4 262.75,294.36 263.87,294.3 264.99,294.21 266.11,294.1 267.23,293.95 268.35,293.75 269.47,293.5 270.59,293.18 271.71,292.79 272.83,292.31 273.95,291.74 275.07,291.08 276.2,290.32 277.32,289.46 278.44,288.52 279.56,287.51 280.68,286.45 281.8,285.37 282.92,284.29 284.04,283.25 285.16,282.29 286.28,281.45 287.4,280.75 288.52,280.23 289.65,279.91 290.77,279.8 291.89,279.91 293.01,280.23 294.13,280.75 295.25,281.45 296.37,282.29 297.49,283.25 298.61,284.29 299.73,285.37 300.85,286.45 301.98,287.51 303.1,288.52 304.22,289.46 305.34,290.32 306.46,291.08 307.58,291.74 308.7,292.31 309.82,292.79 310.94,293.18 312.06,293.5 313.18,293.75 314.3,293.95 315.43,294.1 316.55,294.21 317.67,294.3 318.79,294.36 319.91,294.4 321.03,294.43 322.15,294.46"/><polyline points="232.48,294.5 233.6,294.5 234.72,294.5 235.85,294.5 236.97,294.5 238.09,294.5 239.21,294.5 240.33,294.5 241.45,294.5 242.57,294.5 243.69,294.5 244.81,294.5 245.93,294.5 247.05,294.5 248.18,294.5 249.3,294.5 250.42,294.5 251.54,294.5 252.66,294.5 253.78,294.49 254.9,294.49 256.02,294.48 257.14,294.47 258.26,294.45 259.38,294.42 260.5,294.38 261.62,294.33 262.75,294.25 263.87,294.13 264.99,293.98 266.11,293.77 267.23,293.5 268.35,293.14 269.47,292.69 270.59,292.11 271.71,291.4 272.83,290.54 273.95,289.51 275.07,288.31 276.2,286.94 277.32,285.39 278.44,283.69 279.56,281.87 280.68,279.95 281.8,277.99 282.92,276.04 284.04,274.17 285.16,272.44 286.28,270.91 287.4,269.65 288.52,268.71 289.65,268.13 290.77,267.93 291.89,268.13 293.01,268.71 294.13,269.65 295.25,270.91 296.37,272.44 297.49,274.17 298.61,276.04 299.73,277.99 300.85,279.95 301.98,281.87 303.1,283.69 304.22,285.39 305.34,286.94 306.46,288.31 307.58,289.51 308.7,290.54 309.82,291.4 310.94,292.11 312.06,292.69 313.18,293.14 314.3,293.5 315.43,293.77 316.55,293.98 317.67,294.13 318.79,294.25 319.91,294.33 321.03,294.38 322.15,294.42"/><polyline points="232.48,294.5 233.6,294.5 234.72,294.5 235.85,294.5 236.97,294.5 238.09,294.5 239.21,294.5 240.33,294.5 241.45,294.5 242.57,294.5 243.69,294.5 244.81,294.5 245.93,294.5 247.05,294.5 248.18,294.5 249.3,294.5 250.42,294.5 251.54,294.5 252.66,294.49 253.78,294.49 254.9,294.48 256.02,294.47 257.14,294.46 258.26,294.43 259.38,294.39 260.5,294.34 261.62,294.26 262.75,294.16 263.87,294 264.99,293.8 266.11,293.52 267.23,293.15 268.35,292.67 269.47,292.05 270.59,291.27 271.71,290.31 272.83,289.15 273.95,287.76 275.07,286.14 276.2,284.28 277.32,282.2 278.44,279.9 279.56,277.43 280.68,274.84 281.8,272.2 282.92,269.56 284.04,267.03 285.16,264.69 286.28,262.63 287.4,260.93 288.52,259.65 289.65,258.87 290.77,258.6 291.89,258.87 293.01,259.65 294.13,260.93 295.25,262.63 296.37,264.69 297.49,267.03 298.61,269.56 299.73,272.2 300.85,274.84 301.98,277.43 303.1,279.9 304.22,282.2 305.34,284.28 306.46,286.14 307.58,287.76 308.7,289.15 309.82,290.31 310.94,291.27 312.06,292.05 313.18,292.67 314.3,293.15 315.43,293.52 316.55,293.8 317.67,294 318.79,294.16 319.91,294.26 321.03,294.34 322.15,294.39"/><polyline points="232.48,294.5 233.6,294.5 234.72,294.5 235.85,294.5 236.97,294.5 238.09,294.5 239.21,294.5 240.33,294.5 241.45,294.5 242.57,294.5 243.69,294.5 244.81,294.5 245.93,294.5 247.05,294.5 248.18,294.5 249.3,294.5 250.42,294.5 251.54,294.49 252.66,294.49 253.78,294.49 254.9,294.48 256.02,294.46 257.14,294.44 258.26,294.41 259.38,294.36 260.5,294.28 261.62,294.18 262.75,294.03 263.87,293.83 264.99,293.55 266.11,293.17 267.23,292.67 268.35,292.02 269.47,291.18 270.59,290.13 271.71,288.83 272.83,287.25 273.95,285.38 275.07,283.18 276.2,280.66 277.32,277.84 278.44,274.73 279.56,271.39 280.68,267.88 281.8,264.29 282.92,260.73 284.04,257.3 285.16,254.13 286.28,251.33 287.4,249.03 288.52,247.31 289.65,246.24 290.77,245.88 291.89,246.24 293.01,247.31 294.13,249.03 295.25,251.33 296.37,254.13 297.49,257.3 298.61,260.73 299.73,264.29 300.85,267.88 301.98,271.39 303.1,274.73 304.22,277.84 305.34,280.66 306.46,283.18 307.58,285.38 308.7,287.25 309.82,288.83 310.94,290.13 312.06,291.18 313.18,292.02 314.3,292.67 315.43,293.17 316.55,293.55 317.67,293.83 318.79,294.03 319.91,294.18 321.03,294.28 322.15,294.36"/><polyline points="232.48,294.5 233.6,294.5 234.72,294.5 235.85,294.5 236.97,294.5 238.09,294.5 239.21,294.5 240.33,294.5 241.45,294.5 242.57,294.5 243.69,294.5 244.81,294.5 245.93,294.5 247.05,294.5 248.18,294.5 249.3,294.5 250.42,294.5 251.54,294.49 252.66,294.49 253.78,294.48 254.9,294.47 256.02,294.46 257.14,294.43 258.26,294.39 259.38,294.33 260.5,294.25 261.62,294.13 262.75,293.96 263.87,293.72 264.99,293.39 266.11,292.95 267.23,292.37 268.35,291.61 269.47,290.64 270.59,289.42 271.71,287.91 272.83,286.08 273.95,283.89 275.07,281.34 276.2,278.41 277.32,275.12 278.44,271.51 279.56,267.62 280.68,263.55 281.8,259.37 282.92,255.23 284.04,251.24 285.16,247.56 286.28,244.31 287.4,241.63 288.52,239.62 289.65,238.39 290.77,237.97 291.89,238.39 293.01,239.62 294.13,241.63 295.25,244.31 296.37,247.56 297.49,251.24 298.61,255.23 299.73,259.37 300.85,263.55 301.98,267.62 303.1,271.51 304.22,275.12 305.34,278.41 306.46,281.34 307.58,283.89 308.7,286.08 309.82,287.91 310.94,289.42 312.06,290.64 313.18,291.61 314.3,292.37 315.43,292.95 316.55,293.39 317.67,293.72 318.79,293.96 319.91,294.13 321.03,294.25 322.15,294.33"/><line x1="263.87" y1="294.5" x2="263.87" y2="293.72"/><line x1="268.35" y1="294.5" x2="268.35" y2="291.61"/><line x1="272.83" y1="294.5" x2="272.83" y2="286.08"/><line x1="277.32" y1="294.5" x2="277.32" y2="275.12"/><line x1="281.8" y1="294.5" x2="281.8" y2="259.37"/><line x1="286.28" y1="294.5" x2="286.28" y2="244.31"/><line x1="290.77" y1="294.5" x2="290.77" y2="237.97"/><line x1="295.25" y1="294.5" x2="295.25" y2="244.31"/><line x1="299.73" y1="294.5" x2="299.73" y2="259.37"/><line x1="304.22" y1="294.5" x2="304.22" y2="275.12"/><line x1="308.7" y1="294.5" x2="308.7" y2="286.08"/><line x1="313.18" y1="294.5" x2="313.18" y2="291.61"/><line x1="317.67" y1="294.5" x2="317.67" y2="293.72"/></g>
<polygon points="281.35,294.5 281.97,298.1 282.58,301.71 283.2,305.31 283.82,308.92 284.43,312.52 285.05,316.12 285.67,319.73 286.28,323.33 286.84,319.73 287.4,316.12 287.96,312.52 288.52,308.92 289.09,305.31 289.65,301.71 290.21,298.1 290.77,294.5" fill="#1f77c4" fill-opacity="0.5" stroke="#1f77c4" stroke-width="0.6" stroke-linejoin="round"/><polyline points="281.35,294.5 281.97,295.4 282.58,296.3 283.2,297.2 283.82,298.1 284.43,299 285.05,299.91 285.67,300.81 286.28,301.71 286.84,300.81 287.4,299.91 287.96,299 288.52,298.1 289.09,297.2 289.65,296.3 290.21,295.4 290.77,294.5" fill="none" stroke="#1f77c4" stroke-width="0.45"/><polyline points="281.35,294.5 281.97,296.12 282.58,297.74 283.2,299.37 283.82,300.99 284.43,302.61 285.05,304.23 285.67,305.85 286.28,307.47 286.84,305.85 287.4,304.23 287.96,302.61 288.52,300.99 289.09,299.37 289.65,297.74 290.21,296.12 290.77,294.5" fill="none" stroke="#1f77c4" stroke-width="0.45"/><polyline points="281.35,294.5 281.97,296.84 282.58,299.19 283.2,301.53 283.82,303.87 284.43,306.21 285.05,308.56 285.67,310.9 286.28,313.24 286.84,310.9 287.4,308.56 287.96,306.21 288.52,303.87 289.09,301.53 289.65,299.19 290.21,296.84 290.77,294.5" fill="none" stroke="#1f77c4" stroke-width="0.45"/><polyline points="281.35,294.5 281.97,297.56 282.58,300.63 283.2,303.69 283.82,306.75 284.43,309.82 285.05,312.88 285.67,315.94 286.28,319.01 286.84,315.94 287.4,312.88 287.96,309.82 288.52,306.75 289.09,303.69 289.65,300.63 290.21,297.56 290.77,294.5" fill="none" stroke="#1f77c4" stroke-width="0.45"/><polygon points="299.96,294.5 300.49,295.67 301.02,296.85 301.55,298.02 302.09,299.19 302.62,300.37 303.15,301.54 303.68,302.71 304.22,303.88 304.81,302.71 305.39,301.54 305.98,300.37 306.57,299.19 307.16,298.02 307.75,296.85 308.34,295.67 308.92,294.5" fill="#1f77c4" fill-opacity="0.5" stroke="#1f77c4" stroke-width="0.6" stroke-linejoin="round"/><polyline points="299.96,294.5 300.49,294.79 301.02,295.09 301.55,295.38 302.09,295.67 302.62,295.97 303.15,296.26 303.68,296.55 304.22,296.85 304.81,296.55 305.39,296.26 305.98,295.97 306.57,295.67 307.16,295.38 307.75,295.09 308.34,294.79 308.92,294.5" fill="none" stroke="#1f77c4" stroke-width="0.45"/><polyline points="299.96,294.5 300.49,295.03 301.02,295.56 301.55,296.08 302.09,296.61 302.62,297.14 303.15,297.67 303.68,298.2 304.22,298.72 304.81,298.2 305.39,297.67 305.98,297.14 306.57,296.61 307.16,296.08 307.75,295.56 308.34,295.03 308.92,294.5" fill="none" stroke="#1f77c4" stroke-width="0.45"/><polyline points="299.96,294.5 300.49,295.26 301.02,296.02 301.55,296.79 302.09,297.55 302.62,298.31 303.15,299.07 303.68,299.84 304.22,300.6 304.81,299.84 305.39,299.07 305.98,298.31 306.57,297.55 307.16,296.79 307.75,296.02 308.34,295.26 308.92,294.5" fill="none" stroke="#1f77c4" stroke-width="0.45"/><polyline points="299.96,294.5 300.49,295.5 301.02,296.49 301.55,297.49 302.09,298.49 302.62,299.49 303.15,300.48 303.68,301.48 304.22,302.48 304.81,301.48 305.39,300.48 305.98,299.49 306.57,298.49 307.16,297.49 307.75,296.49 308.34,295.5 308.92,294.5" fill="none" stroke="#1f77c4" stroke-width="0.45"/>
<text class="xl" x="295.25" y="335.1" text-anchor="middle"><tspan>n</tspan><tspan class="sub" dy="1">x</tspan></text>
<text class="yl" transform="translate(218,280.6) rotate(-90)" text-anchor="middle">G<tspan class="sub" dy="1">k,k,p</tspan></text>
<path d="M26 10 V338 H543.3" fill="none" stroke="#000" stroke-width="2.2" stroke-linecap="round" stroke-linejoin="miter"/>
<text class="big" transform="translate(13.3,164.4) rotate(-90) scale(1.12,1)" text-anchor="middle">Image size</text>
<text class="big" transform="translate(271.6,347.7) scale(1.12,1)" text-anchor="middle">Frequency</text>
</svg>
</body></html>
